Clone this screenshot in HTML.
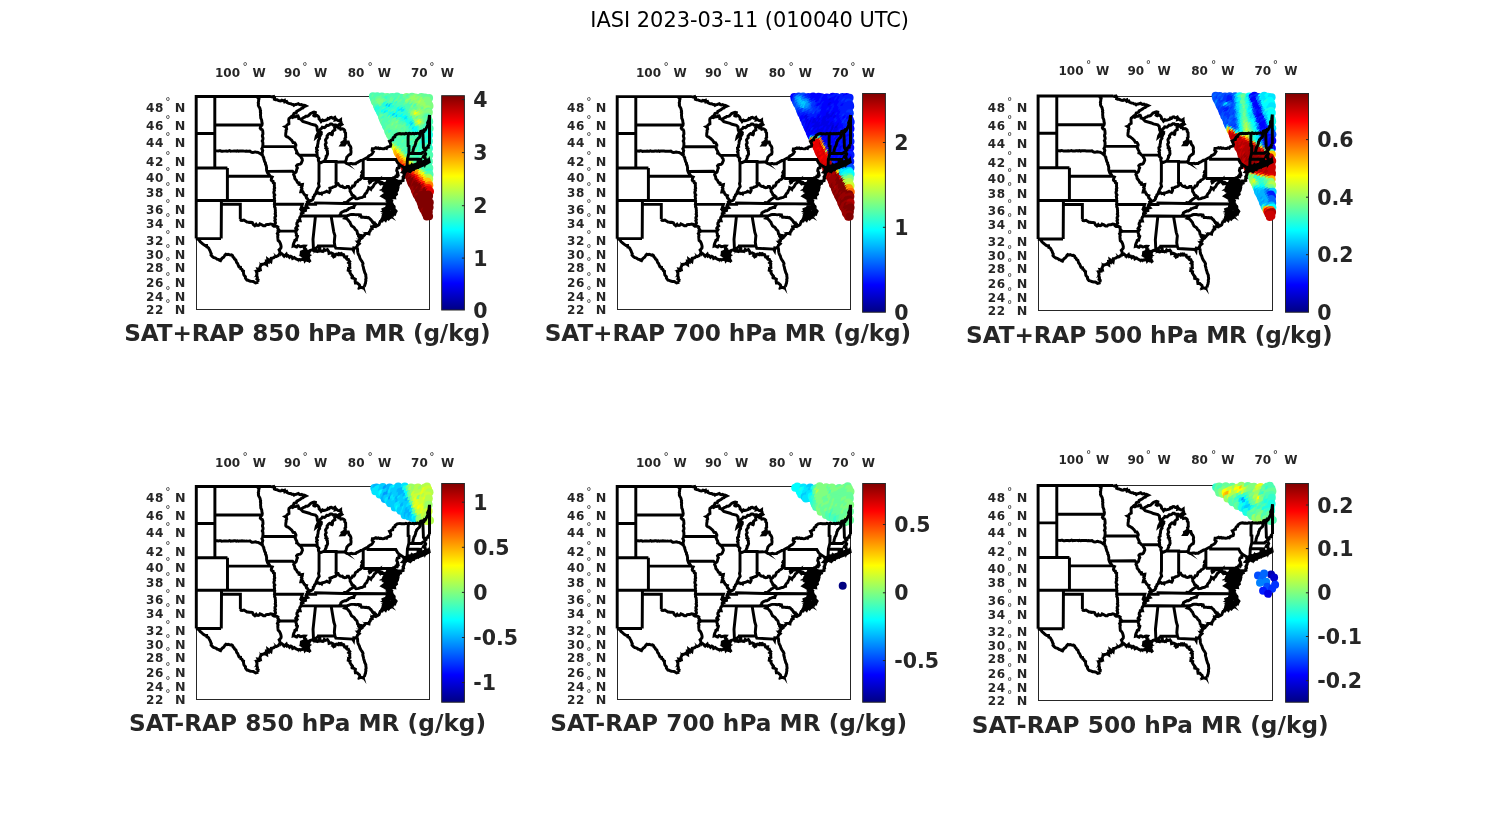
<!DOCTYPE html><html><head><meta charset="utf-8"><title>IASI 2023-03-11 (010040 UTC)</title><style>html,body{margin:0;padding:0;background:#fff}body{width:1500px;height:825px;overflow:hidden}svg{display:block}text{font-family:"DejaVu Sans","Liberation Sans",sans-serif;fill:#262626}.b{font-weight:bold}.t{font-size:12px;font-weight:bold}.c{font-size:20.5px;font-weight:bold}.x{font-size:23.2px;font-weight:bold}.d{font-size:10.5px;font-weight:normal}</style></head><body>
<svg width="1500" height="825" viewBox="0 0 1500 825">
<defs><linearGradient id="jet" x1="0" y1="1" x2="0" y2="0"><stop offset="0" stop-color="#000083"/><stop offset="0.125" stop-color="#0000ff"/><stop offset="0.375" stop-color="#00ffff"/><stop offset="0.625" stop-color="#ffff00"/><stop offset="0.875" stop-color="#ff0000"/><stop offset="1" stop-color="#800000"/></linearGradient>
<g id="us"><path d="M0.0 142.1L0.0 0.0L74.7 0.0M233.3 18.4L233.3 48.0M18.6 0.0L18.6 71.4M0.0 37.0L18.6 37.0M18.6 28.5L65.8 28.5M18.6 54.5L19.7 54.3L20.9 54.4L22.0 54.6L23.1 54.2L24.2 54.3L25.4 54.8L26.5 54.7L27.6 54.6L28.8 54.6L29.9 54.5L31.0 54.7L32.1 54.6L33.3 54.2L34.4 54.7L35.5 54.6L36.7 54.6L37.8 54.4L38.9 54.4L40.0 54.7L41.2 54.3L42.3 54.8L43.4 54.5L44.6 54.5L45.7 54.4L46.8 54.5L48.0 54.6L49.1 54.7L50.2 54.6L51.3 54.7L52.5 54.7L53.6 54.5L54.5 55.2L55.5 55.8L56.6 55.9L57.7 55.7L59.1 55.4L60.5 55.8L61.8 55.9L63.7 56.9L64.9 57.9L66.5 58.8M0.0 71.4L31.2 71.4M31.2 71.4L31.2 103.9M31.2 79.7L73.7 79.7M0.0 103.9L78.1 103.9M25.2 103.9L25.2 107.8L25.0 142.1M25.2 107.8L44.1 107.8L44.1 122.8M0.0 142.1L24.8 142.1M44.1 122.8L44.8 123.9L46.0 124.0L47.7 123.6L49.2 124.5L50.8 125.5L51.9 125.6L53.0 125.9L54.6 125.7L56.1 126.1L57.1 128.0L58.6 129.2L59.9 127.8L60.6 128.7L61.8 129.0L63.0 128.5L63.7 127.4L65.6 128.2L67.2 129.3L68.8 129.3L70.0 128.1L71.3 128.0L72.5 128.0L74.4 127.4L75.9 127.7L76.6 129.0L77.7 129.7L78.9 129.8L80.4 129.7L81.7 130.5L81.5 131.8L82.5 133.1L81.7 134.5L82.0 135.7L81.1 137.0L81.8 138.3L81.5 139.6L81.6 140.9L81.7 142.2L81.9 143.9L83.2 145.0L84.0 146.5L84.5 148.0L84.9 149.8L84.8 151.3L83.9 152.4L82.9 153.4L83.5 154.6L83.9 156.4L83.2 157.6L82.9 159.0M0.0 142.1L1.0 142.6L2.2 142.8L3.0 143.7L3.8 145.0L5.0 146.0L5.9 146.8L6.8 147.6L7.8 148.3L8.8 148.9L10.4 148.9L10.6 150.5L11.8 150.9L12.6 151.8L13.0 152.9L13.7 153.9L14.1 154.9L14.5 156.1L15.1 157.2L14.8 158.6L15.8 159.7L16.7 160.5L17.7 161.1L19.0 161.4L20.2 162.1L21.1 162.8L22.4 162.9L23.2 163.8L24.3 164.2L25.1 162.7L26.2 161.5L27.3 160.8L28.1 159.8L28.7 158.6L29.6 157.7L30.7 158.2L31.9 157.8L33.0 158.2L34.1 158.6L35.3 158.4L36.4 159.2L36.8 160.6L37.8 161.3L38.3 162.6L39.6 163.4L40.0 164.7L40.4 166.0L41.3 166.9L41.8 168.0L42.2 169.2L42.8 170.4L44.3 170.7L44.5 172.2L45.7 172.8L46.2 174.1L47.3 174.7L47.2 175.9L47.4 177.1L47.6 178.3L48.3 179.3L49.2 180.1L49.2 181.5L49.8 182.5L50.7 183.6L51.9 183.8L53.1 184.3L54.2 184.8L55.5 184.9L56.9 185.0L58.1 185.6L59.3 186.4L60.7 186.1L62.1 185.6M62.1 185.6L61.6 184.5L61.9 183.3L60.7 182.4L61.2 181.1L60.9 179.9L60.4 178.7L60.8 177.4L60.5 176.2L60.1 174.7L62.5 174.2L61.8 172.6L64.1 173.0L63.7 170.9L64.3 169.8L64.7 168.0L66.1 167.8L67.5 167.6L68.5 166.9L70.4 168.1L70.2 164.9L71.9 165.5L71.6 162.8L74.7 165.1L75.0 163.3L75.1 161.7L76.4 161.5L77.6 161.1L78.6 160.2L80.2 160.1L81.3 159.3L82.9 159.0M82.9 159.0L84.1 157.6L85.5 157.1L87.0 158.4L88.0 159.7L90.1 157.7L90.8 159.7L92.1 159.2L93.3 160.8L94.6 159.7L95.8 160.4L96.4 162.0L98.1 161.1L99.0 161.9L100.3 162.6L101.5 163.3L103.1 163.0L104.7 163.3L106.6 162.9L107.8 161.9L109.0 162.4L109.8 163.4L111.0 164.0L112.9 163.3L110.6 163.3L111.0 161.1L110.1 160.4L109.7 159.3L111.6 158.2L112.4 156.3L110.3 156.4L108.5 156.1L109.7 155.5M109.7 155.5L111.6 154.6L113.2 155.4L114.1 153.9L115.8 153.3L117.3 154.1L119.2 154.6L118.4 152.9L119.8 151.7L119.7 152.9L120.4 153.9L121.4 154.8L122.8 154.7M122.8 154.7L124.8 154.4L126.0 155.0L127.1 154.7L128.0 153.0L129.3 153.9L131.2 153.1L132.4 154.8L132.8 156.9L134.9 156.4L136.6 157.2L136.5 159.1L137.4 160.3L138.7 159.7L139.0 158.0L140.1 157.6L141.8 158.2L142.5 157.1L144.2 157.7L145.0 156.1L144.7 158.1L146.3 158.0L147.5 158.2L147.7 159.5L148.3 160.4L150.4 160.3L150.1 161.9L150.8 162.7L152.2 162.8L152.6 164.0L153.5 165.0L152.4 166.3L153.6 167.2L153.5 168.3L153.5 169.6L153.7 171.1L152.3 171.9L152.0 173.9L153.9 174.7L153.7 176.1L154.3 177.1L154.9 178.1L155.7 179.0L156.4 179.9L156.1 181.4L157.6 181.8L159.2 182.8L158.9 184.6L159.2 186.4L161.1 186.4L162.0 187.4L163.2 188.4L163.6 189.7L163.3 191.3L164.9 190.8L166.5 191.3L168.0 190.2M168.0 190.2L168.5 189.1L168.8 187.8L169.3 186.7L169.4 185.5L169.7 184.3L169.5 183.0L169.9 181.8L169.8 180.6L169.6 179.5L169.6 178.3L169.1 177.1L168.5 175.9L168.2 174.6L167.7 173.3L167.4 172.1L167.2 170.8L166.8 169.6L166.5 168.3L166.8 166.9L166.2 165.6L165.4 164.4L164.6 163.3L164.1 162.3L163.6 161.3L163.3 160.2L163.0 159.2L162.4 158.2L161.9 157.1L161.6 155.8L161.4 154.6L161.4 153.1L161.1 151.6M161.1 151.6L160.6 150.2L161.1 149.0L162.0 148.0L163.2 147.0L161.6 145.1L163.3 144.3L163.5 142.7L164.9 141.9L165.9 141.3L165.4 139.1L167.4 139.5L168.4 138.4L169.1 136.9L170.9 136.9L172.8 137.4L173.1 135.5L174.0 134.6L174.4 133.0L175.9 132.4L175.4 130.5L177.2 129.7L179.1 130.0L179.4 128.1M179.4 128.1L180.6 129.4L181.7 128.9L182.9 128.1L183.5 126.3L184.1 124.8L185.9 124.6L186.6 123.3L187.5 122.2L189.3 123.8L190.0 122.2L191.1 121.7L192.3 122.5L193.1 121.5L194.4 121.0L194.8 119.7L195.5 118.7L196.7 118.7L197.2 117.0L198.6 117.5L199.1 116.1L199.9 114.7L198.6 113.2L197.7 112.2L198.0 110.8L197.7 109.6L196.3 108.8L196.4 107.4M191.1 121.7L190.1 120.2L191.7 119.4L189.8 118.7L191.5 118.5L192.3 117.1L191.4 115.9L189.8 116.0L191.2 114.9L192.9 115.2L194.8 117.4L196.1 114.8L195.8 113.4L195.5 112.1L194.4 111.2L193.2 112.4L192.2 111.7L191.1 111.7L192.0 111.0L193.0 110.0L194.1 109.6L195.5 110.5L196.6 109.1L196.1 107.4M196.4 107.4L195.0 106.3L195.5 104.6L193.6 103.9L193.0 102.7L192.9 101.5L194.2 100.5L193.6 99.1L193.7 97.7L193.3 96.3L192.0 95.9L191.0 94.9L189.8 94.3L188.8 92.7M195.5 102.3L195.7 100.7L198.4 101.2L198.0 99.1L199.3 98.4L200.3 97.6L199.9 95.9L200.5 94.8L201.3 93.6L201.5 92.3L201.9 90.9L201.5 89.5L201.3 88.0L199.9 87.9L199.7 86.7L197.8 86.2L198.6 84.6L198.3 82.6L199.3 81.3M195.5 102.3L196.2 100.8L196.1 99.1L196.8 97.7L197.4 96.3L196.1 95.7L196.1 94.3L194.5 94.3L194.7 92.5L193.6 91.9L194.0 90.3L194.2 88.7L195.3 87.8L195.3 86.6L194.8 85.4L195.5 83.4L195.4 85.0L194.8 86.0L192.9 85.8L192.7 87.0L192.6 88.3L192.9 89.5L192.0 90.7L192.3 91.9L192.9 93.5L193.6 95.5L192.7 94.2L191.5 93.5L189.8 93.9L188.8 92.7L187.3 92.7L188.5 91.8L188.8 90.3L188.9 89.1L188.4 87.8L187.5 87.0L186.0 87.1L185.7 85.8L184.4 85.4L181.9 85.3L182.9 83.0L181.5 83.9L180.3 82.8L179.4 83.9L178.1 83.4L176.2 84.0L175.0 84.3L174.5 85.6L173.5 86.2L173.0 84.8L174.1 83.4L173.5 82.0M198.3 82.6L198.6 84.2L200.5 84.5L201.1 86.2L201.2 87.7L202.4 88.4L202.9 87.2L204.2 86.7L203.6 84.6L205.6 84.6L206.9 84.1L206.7 82.6L207.4 81.8L206.8 80.4L207.6 79.2L208.1 78.1L208.1 76.0L206.5 75.6L207.8 74.3L208.1 73.5L208.7 71.5M199.3 81.3L199.6 79.9L201.1 80.1L201.8 78.6L203.3 78.2L200.8 78.5L201.5 76.0L200.5 74.3L200.7 73.1L201.1 71.8L202.8 71.3L202.7 69.4L203.7 68.4M203.7 68.4L208.7 71.5M203.7 68.4L201.5 66.4L199.6 63.0L171.8 63.0L171.8 60.7M167.0 63.2L167.0 82.0M167.0 82.0L196.8 82.0L198.0 81.1L199.3 81.3M167.0 63.2L169.6 61.7L171.8 60.7M196.8 82.0L196.8 92.2L201.5 92.2M195.8 96.3L200.2 95.7M171.8 60.7L172.4 59.6L173.4 59.0L174.4 58.5L175.4 57.9L176.2 57.0L177.2 55.3L175.9 54.0L176.2 52.2L177.5 52.1L178.6 51.9L179.7 51.3L180.8 51.9L182.0 51.4L183.1 52.1L184.3 51.8L185.4 52.1L186.6 52.3L187.9 52.2L189.1 51.5L190.4 51.9L191.3 50.5L192.7 50.1L194.2 49.7L194.6 48.2L194.2 46.7L193.3 44.9L194.4 44.5L195.2 43.6L196.5 43.3L196.7 41.8L197.4 40.8L198.6 40.4L198.9 39.0L199.9 38.3L201.0 37.5L202.3 37.2L203.7 37.0L204.9 37.4L206.1 37.2L207.3 37.3L208.5 37.4L209.7 36.9L211.0 37.2L212.2 37.0L213.3 36.7L214.5 37.2L215.7 37.2L216.8 36.9L218.0 37.4L219.2 36.9L220.3 37.1L221.5 36.7L222.7 37.1L223.8 37.0M212.2 37.0L211.9 41.4L211.9 49.3L212.8 49.7L212.7 56.6L211.2 62.6L210.9 68.9L211.4 69.8L209.8 70.6L210.3 71.4M208.7 71.5L207.7 72.5L208.1 73.9L208.1 74.8L209.2 75.5L210.3 74.3L211.4 73.8L212.5 74.6L214.0 75.1L215.1 74.0L216.0 72.7L217.5 73.1L218.2 71.4L219.7 71.1L221.3 71.0L219.8 70.4L218.2 70.6L216.9 71.8L215.7 72.5L214.4 72.6L213.1 72.1L212.0 72.4L210.8 72.3L209.7 72.7L208.7 73.1M210.3 71.4L211.5 71.1L212.1 69.3L213.8 70.2L215.0 70.6L215.7 68.7L216.9 68.8L218.2 69.2L219.2 68.2L220.4 68.3L221.6 68.7M221.6 68.7L222.0 62.9M211.2 62.6L222.0 62.8L224.6 62.9L224.6 63.9L224.9 64.9L225.7 65.8L226.2 67.2M221.6 68.7L222.7 68.8L223.8 68.3L224.5 66.4L224.8 67.7L226.2 67.2M226.2 67.2L227.6 66.8L229.2 66.8L229.5 65.1L230.7 65.9L232.1 65.3L233.3 65.8M233.3 64.9L231.7 64.9L230.1 64.7L229.2 63.0L228.9 61.3L227.0 60.5L227.6 59.2L229.0 58.8L229.5 57.5L228.3 55.8M212.7 56.8L225.1 57.0L225.4 56.7L227.0 55.6L228.1 55.6M228.1 55.6L228.9 53.9L227.2 51.0L227.1 47.5L226.8 39.6L226.5 34.3M228.9 53.9L229.9 53.1L229.8 51.9L230.6 51.1L232.1 50.8L232.0 49.3L233.3 48.0M223.8 37.0L224.5 34.9L226.5 34.3L227.9 34.7L228.3 33.2L229.2 33.4L230.8 30.2L231.7 28.4L231.4 26.2L232.7 23.4L233.3 18.4M223.8 37.0L223.7 38.3L223.7 39.7L223.2 41.0L222.2 41.7L221.3 42.7L220.4 43.6L220.2 44.7L219.5 45.7L219.5 46.9L219.1 48.0L218.7 49.3L217.8 50.5L217.5 51.9L217.0 53.1L216.9 54.5L216.5 55.6L216.1 56.8M196.4 107.4L159.7 107.1L147.0 107.0L119.4 106.4L119.4 107.8L110.2 107.8M159.7 107.1L159.0 108.3L158.0 109.5L157.6 110.9L156.3 110.8L155.1 111.2L153.9 111.7L152.6 112.0L151.8 113.1L150.7 113.6L149.7 114.3L148.4 114.2L147.4 114.8L146.3 115.2L144.7 116.3L144.5 117.6L143.7 118.5L143.0 119.5M105.2 119.4L118.5 119.4L143.0 119.5L150.6 119.4M150.6 119.4L151.7 119.0L152.9 118.7L153.9 118.1L155.1 117.9L156.3 117.9L157.6 117.9L158.8 118.1L160.0 118.3L161.2 118.1L162.4 118.1L163.6 118.3L163.6 119.0L164.4 118.7L164.8 119.7L165.3 120.8L166.5 120.8L167.7 120.8L168.8 121.0L170.0 120.8L171.2 121.2L172.3 121.0L173.2 121.7L173.9 122.6L174.8 123.2L175.4 124.2L176.1 125.1L176.7 126.0L178.0 126.3L178.6 127.3L179.4 128.1M150.6 119.4L150.3 120.8L149.1 121.7L150.3 122.0L151.2 122.8L152.0 123.6L152.8 124.7L153.8 125.7L154.2 127.1L154.8 128.1L155.3 129.3L156.4 130.1L157.5 130.7L158.3 131.6L158.9 132.8L159.9 133.6L160.8 134.6L161.1 136.1L161.4 137.6L162.6 138.3L162.3 139.7L163.0 140.6L163.7 141.6L164.9 141.9M134.9 119.6L137.6 135.6L138.7 139.1L138.4 142.1L138.1 145.8L138.7 149.5M138.7 149.5L139.6 151.7L156.4 152.6L157.3 154.1L157.6 151.3L161.1 151.6M138.7 149.5L122.3 149.5L122.3 150.6L123.6 152.0L122.8 154.7M118.5 119.4L119.2 120.2L116.8 142.8L117.3 154.1M99.8 134.6L99.7 136.2L100.3 137.6L100.1 139.0L101.2 139.9L100.9 141.0L100.3 142.1L100.2 143.5L98.7 143.8L98.4 145.0L97.6 146.5L97.1 148.0L96.9 149.5L98.1 149.1L99.3 150.1L100.5 150.5L101.7 149.1L102.9 149.3L104.1 150.2L105.3 150.0L106.5 149.6L107.7 149.4L108.9 149.5L108.1 150.6L108.1 152.0L109.5 152.8L109.4 154.2L109.7 155.5M81.7 134.5L99.8 134.6M99.8 134.6L100.9 133.0L99.6 131.6L100.4 130.4L101.5 129.4L100.6 127.8L100.7 126.5L101.5 125.5L101.7 124.2L103.9 124.2L103.4 122.5L103.5 121.2L104.1 120.1L105.2 119.4L105.0 118.1L105.0 116.9L106.6 116.3L105.5 114.3L107.9 114.4L109.3 114.0L109.1 112.5L109.1 111.7L111.4 111.1L109.7 109.3L110.2 107.8L111.0 106.8L112.2 107.0L111.2 105.3L112.7 104.0M78.1 107.8L106.2 107.8L104.9 111.7L109.1 111.7M112.7 104.0L111.9 103.2L111.3 102.2L110.3 101.5L109.9 100.3L110.3 99.1L108.9 98.7L107.9 97.7L107.2 96.3L106.7 95.2L104.6 95.3L105.0 93.5L105.8 92.4L105.1 91.0L105.9 89.9L106.2 88.0L104.4 88.3L102.8 87.9L102.9 86.4L101.3 85.9L100.7 84.9L100.3 83.8L99.4 83.0L98.6 82.0L98.5 80.8L98.2 79.7L97.4 78.1L98.2 76.6M98.2 76.6L96.3 74.7L70.8 74.9M98.2 76.6L99.3 76.0L100.0 75.2L100.3 73.9L100.6 72.6L101.2 71.4L100.7 70.4L100.3 69.3L101.2 68.3L102.5 67.9L104.0 67.7L105.0 66.8L105.6 65.3L106.2 63.9L105.9 62.2L105.0 61.1L104.4 59.6L103.2 58.8L102.3 58.0L101.6 57.0L100.4 56.6L100.6 55.0L99.8 53.6L99.3 52.5L98.8 51.4L99.5 50.1M99.5 50.1L66.5 50.1M99.5 50.1L99.7 48.5L99.0 47.1L98.3 46.1L96.8 46.0L96.2 44.9L95.5 43.8L94.6 43.0L93.7 42.1L92.7 41.4L91.7 40.6L90.4 40.2L89.5 39.2L89.5 37.8L89.6 36.5L89.9 35.2L89.8 33.8L90.5 32.5L90.2 31.1L88.9 30.2L90.1 29.8L90.7 28.6L91.6 27.9L92.7 27.3L92.7 26.0L92.6 24.6L92.5 23.3L92.8 22.0L94.0 21.1M94.0 21.1L94.8 20.3L95.7 19.6L96.9 19.3L97.3 18.0L97.8 16.9L99.0 16.5L100.2 16.1L100.6 14.7L101.7 14.3L102.7 13.6L103.8 13.1L104.7 12.3L105.6 11.7L106.8 11.4L107.6 10.4L108.6 10.0L109.7 9.5L108.7 9.0L107.6 8.7L106.4 8.8L105.4 8.0L104.2 8.3L103.1 8.0L102.1 7.1L101.0 7.5L99.9 8.0L98.7 8.1L97.7 8.8L96.8 7.9L95.5 7.8L94.5 7.1L93.2 7.1L92.1 6.7L91.0 6.2L90.4 4.9L88.6 5.4L88.3 3.8L87.1 4.3L85.7 3.7L84.5 4.5L83.2 4.3L82.0 3.9L80.8 3.3L79.4 3.2L78.2 2.7L78.4 1.2L77.6 0.0L76.1 0.5L74.7 0.0M61.6 0.0L61.7 1.3L62.8 2.4L62.4 3.8L62.4 5.0L62.0 6.2L62.3 7.4L62.1 8.6L62.5 9.8L63.2 10.8L63.8 12.0L64.0 13.3L64.4 14.4L64.1 15.5L64.5 16.6L64.3 17.7L64.3 18.8L64.5 20.1L64.5 21.5L65.1 22.7L65.5 23.9L65.6 25.2L66.0 26.9L65.8 28.5L65.1 29.5L64.4 30.5L64.0 31.6L64.7 32.7L66.0 33.1L66.5 34.3L66.6 35.4L66.7 36.5L66.7 37.7L66.2 38.8L66.2 39.9L66.7 41.1L66.8 42.2L66.6 43.3L66.0 44.5L66.6 45.6L66.7 46.7L66.7 47.9L66.6 49.0L66.5 50.1L66.2 51.3L65.6 52.3L66.5 54.0L66.2 55.3L65.9 56.6L66.1 57.8L66.5 58.8M66.5 58.8L66.7 60.0L67.5 61.0L67.5 62.2L68.0 63.3L68.2 64.5L68.7 65.6L69.3 66.6L69.3 67.9L70.0 68.9L70.1 70.0L70.4 71.1L70.3 72.3L70.4 73.6L70.8 74.9L71.4 76.4L72.5 77.6L73.2 78.6L73.7 79.7L74.9 80.1L76.0 80.5L75.3 81.9L75.0 83.4L75.6 84.4L76.9 84.9L77.1 86.3L78.2 86.9L78.1 88.1L78.2 89.2L78.1 90.4L78.5 91.5L77.9 92.7L78.3 93.9L77.8 95.0L77.6 96.2L77.9 97.3L78.6 98.5L77.9 99.7L78.1 100.8L78.3 102.0L78.0 103.1L78.5 104.3L78.3 105.5L78.4 106.6L78.1 107.8L78.5 109.0L78.3 110.2L79.0 111.4L79.0 112.6L79.2 113.8L79.1 115.1L79.3 116.3L78.9 117.5L79.4 118.6L79.4 119.7L78.7 120.8L78.7 121.9L79.2 123.1L78.6 124.2L79.0 125.3L79.3 126.4L78.5 127.5L78.7 128.7L78.9 129.8M94.0 21.1L95.0 20.5L96.3 21.1L97.3 20.5L98.5 20.2L99.6 20.2L100.6 19.4L101.8 19.3L102.4 20.6L102.5 22.0L103.6 22.3L104.5 22.8M104.5 22.8L106.6 25.0L112.9 26.8L114.8 27.7L119.2 28.7L120.7 30.2L121.1 33.8L122.3 36.1M122.3 36.1L121.4 37.2L120.9 38.4L120.1 39.6L119.8 41.0L120.9 40.1L121.7 39.0L123.0 38.3L123.4 37.2L124.1 36.3L125.1 35.6L125.8 34.7L124.9 35.9L125.1 37.5L124.2 38.7L123.8 39.8L123.0 40.8L123.4 42.2L122.6 43.2L122.1 44.2L121.9 45.3L121.9 46.4L121.7 47.5L121.3 48.8L121.5 50.2L120.3 51.3L120.4 52.7L121.1 53.9L120.3 55.2L120.9 56.4L120.8 57.6L121.1 58.8L120.8 60.1L121.8 61.0L122.7 61.9L122.1 63.2L122.3 64.3L122.8 65.5M103.2 58.8L121.1 58.8M122.8 65.5L122.8 85.0L122.3 87.1L123.0 89.9L121.4 92.3L119.8 95.9L119.4 97.5M122.8 65.5L124.8 66.1L127.2 65.0L139.9 65.0L139.9 65.6L148.5 65.3M139.9 65.6L139.9 87.1M112.7 104.0L114.0 104.4L115.2 104.0L116.3 103.3L117.1 102.1L117.0 100.7L118.0 99.8L118.3 98.3L119.4 97.5L120.4 96.7L122.3 96.3L123.2 97.1L124.6 96.8L125.5 97.5L126.1 96.3L127.4 96.1L129.3 95.5L130.5 94.7L131.7 95.4L133.0 95.9L133.6 94.9L134.0 93.8L133.7 91.6L135.9 91.1L137.1 90.4L138.4 90.1L139.7 89.5L140.1 88.3L139.9 87.1L141.9 87.1L142.6 88.4L143.8 89.5L144.8 89.9L146.1 89.7L146.9 90.7L148.5 91.2L150.1 90.9L150.9 89.9L152.3 89.9L153.0 91.3L153.9 92.5L154.7 91.8L155.7 91.1L156.4 89.5L157.8 89.5L158.6 88.3L159.2 86.2L160.2 85.5L161.4 85.0L162.2 83.7L163.6 83.1L164.8 82.2L165.7 81.4L165.0 79.9L165.4 78.8L166.5 78.1L166.9 76.9L165.6 75.9L166.1 74.8L167.0 74.4M153.9 92.5L153.9 94.7L154.6 95.8L155.3 97.0L155.7 98.3L156.9 98.7L157.8 99.6M157.8 99.6L157.1 100.5L156.2 101.3L155.2 102.0L154.0 102.6L153.2 103.5L152.2 104.1L151.3 105.0L150.4 105.8L149.2 106.1L148.0 106.0L147.0 107.0M157.8 99.6L158.8 100.3L158.9 101.6L159.8 102.3L161.1 102.2L162.4 101.9L163.6 101.4L164.9 101.1L166.1 100.9L167.1 100.1L168.4 99.9L168.4 98.3L169.3 97.0L170.6 95.9L170.9 94.6L171.6 93.6L172.3 92.4L172.5 91.1L173.7 91.7L174.7 92.7L175.2 91.4L176.4 90.6L177.2 89.5L177.7 88.4L178.3 87.4L179.3 86.6L180.2 85.8L180.6 84.6L181.8 85.2L183.0 85.8L183.9 86.8L184.6 85.3M148.5 65.3L149.3 66.2L150.3 66.8L151.3 67.2L153.2 67.2L154.3 67.0L155.4 66.9L156.5 67.4L157.6 67.2L159.5 67.2L160.4 66.2L161.6 65.8L162.7 65.1L163.8 64.6L164.7 63.9L166.0 63.8L167.0 63.2M127.2 65.0L128.3 64.4L129.0 63.4L129.3 62.2L130.0 61.1L129.9 59.7L130.8 58.8L131.4 57.4L131.2 55.9L131.2 54.5L130.5 53.5L130.9 52.2L129.6 51.5L130.0 50.2L129.3 49.3L129.1 47.8L130.0 46.4L129.6 44.9L129.3 43.5L130.0 42.2L131.1 41.1L130.8 39.6L132.1 37.9L133.4 36.9L134.9 37.0L135.4 38.0L135.3 39.2L136.1 38.0L136.3 36.6L136.2 35.2L137.3 34.1L138.7 33.4L138.6 32.3L138.4 31.1L139.3 30.4L140.3 30.0L141.5 30.2L142.4 31.4L143.8 31.3L144.5 32.7L146.3 32.3L147.5 32.8L148.5 33.8L148.5 35.3L149.4 36.5L149.4 38.1L149.4 39.6L149.5 40.8L148.7 41.9L149.1 43.2L148.4 44.1L147.6 45.0L146.7 45.6L145.7 46.2L146.0 47.4L145.3 48.4L146.8 48.3L148.2 48.4L149.1 47.2L149.8 45.8L150.8 45.3L152.0 45.4L152.4 46.7L152.8 48.2L153.9 49.3L154.5 50.5L154.8 51.8L154.5 53.2L154.8 54.5L154.8 56.0L154.5 57.5L153.4 58.1L152.3 58.8L151.5 59.7L150.7 60.5L150.4 61.7L150.1 63.0L149.6 64.4L148.5 65.3M104.5 22.8L105.5 22.2L106.5 21.7L107.4 21.0L108.5 20.7L109.6 19.8L111.0 19.8L112.2 19.3L113.3 18.1L114.4 17.0L115.5 16.5L116.7 16.0L117.9 15.6L119.2 16.0L119.0 17.5L117.9 18.4L117.0 20.2L117.9 19.3L119.2 19.3L121.0 19.0L122.3 20.2L122.8 21.3L122.9 22.6L123.9 23.4L124.9 25.0L126.3 23.5L127.4 24.1L128.6 23.9L129.9 23.5L131.1 23.1L131.8 21.9L133.0 22.2L134.0 21.0L135.2 20.8L136.5 21.7L137.6 21.6L138.7 20.9L139.3 22.1L139.0 23.4L140.4 23.0L141.6 23.9L143.1 24.3L144.4 23.4L144.4 24.6L144.9 25.7L144.8 27.0L145.7 28.0L144.5 28.7L143.0 28.0L141.8 28.9L140.6 29.3L139.5 28.4L138.1 28.4L136.7 28.5L135.6 27.5L134.2 27.5L133.1 28.5L131.9 29.0L130.5 28.9L129.5 30.1L128.3 31.1L127.2 30.9L126.1 30.7L125.5 31.8L124.5 32.5L123.5 33.5L123.6 35.2L122.3 36.1M196.6 81.8L191.3 84.6L187.6 90.8L186.8 93.2L190.0 96.6L185.9 99.6L190.5 102.1L191.6 104.8L194.6 104.2L194.6 102.8L198.3 97.9L200.1 93.8L200.4 85.6ZM194.5 83.2L195.1 83.2L198.2 83.5L197.1 84.4L194.9 84.7L194.3 85.2L193.2 85.3L192.6 84.6L191.9 86.9L196.2 86.5L197.0 85.7L198.0 86.2L198.0 86.3L200.0 87.9L199.8 88.0L196.9 88.2L196.8 87.1L194.8 87.1L193.5 87.7L193.4 88.4L190.0 87.5L191.1 88.8L191.3 90.0L193.7 89.8L194.0 88.8L194.4 88.9L194.5 89.8L195.0 89.0L197.3 88.7L197.4 89.1L197.7 90.0L199.5 89.1L198.9 91.0L196.9 90.8L194.5 91.1L193.9 90.2L193.5 90.4L190.6 91.2L189.7 90.3L192.9 92.0L194.4 92.1L195.3 93.0L195.3 92.3L199.8 91.7L200.1 92.3L198.4 93.7L194.9 93.2L194.4 93.2L193.5 93.1L191.5 93.8L191.1 93.5L188.7 94.9L191.0 95.6L191.4 94.7L191.8 95.6L192.5 94.8L194.0 95.1L195.4 95.1L195.5 95.6L196.0 94.6L198.2 95.2L198.7 95.3L197.8 96.8L197.7 97.2L197.4 96.1L196.0 96.0L194.3 96.2L192.2 96.6L192.1 97.2L190.2 96.2L190.1 97.0L187.3 98.9L188.7 98.6L189.0 98.4L189.4 98.1L192.0 98.9L192.1 97.9L192.7 97.9L196.9 97.6L197.0 99.3L195.3 99.1L192.8 99.2L189.2 100.0L189.0 99.2L188.9 99.9L188.5 100.2L187.7 100.2L188.3 100.8L189.3 100.6L190.1 101.0L191.6 102.0L193.8 101.6L193.9 101.9L194.2 100.8L194.9 100.7L192.0 102.2L191.0 102.1L191.2 103.6L192.8 103.9L194.2 103.5M191.5 106.5L190.3 111.4L186.8 112.8L187.8 116.0L186.9 120.3L186.1 122.3L188.4 121.0L192.6 118.3L194.5 115.4L197.7 116.5L196.8 113.6L195.4 109.6L194.5 105.9ZM191.5 107.5L194.2 108.8L194.1 109.4L194.0 109.1L193.2 110.2L194.3 110.8L195.3 110.9L193.2 112.1L193.0 112.4L187.9 114.9L189.8 115.4L190.5 114.0L191.2 115.1L191.6 114.4L192.1 115.4L192.4 116.2L191.5 116.7L188.5 118.0L190.4 117.5L190.4 117.0L192.2 118.2L189.4 118.8L188.8 119.6L187.0 121.8M208.0 73.8L210.8 70.6L221.5 67.2L227.0 65.2L232.5 63.0L233.0 65.5L227.5 68.5L221.0 71.0L214.5 73.6ZM230.5 63.9L230.5 64.1L231.5 64.4L232.3 64.2L232.5 63.4L232.5 64.0L232.6 65.4L232.5 64.7L232.2 65.4L231.3 65.8L230.8 65.2L230.3 65.9L229.6 65.6L227.4 65.2L226.3 65.8L226.2 65.5L225.3 65.9L222.2 67.0L222.7 66.8L223.7 67.4L224.4 66.8L225.4 66.7L226.1 67.3L226.3 66.5L226.6 66.3L226.8 66.3L226.9 66.8L227.5 66.2L228.6 67.0L228.7 67.3L229.2 66.0L229.2 66.3L229.4 67.0L229.4 66.3L230.5 66.6L230.6 66.6L231.9 66.1L228.7 67.8L228.7 67.8L227.8 67.9L226.9 67.8L226.1 67.9L226.1 68.5L225.2 68.8L224.3 67.6L223.6 68.6L223.2 67.8L223.1 67.8L223.0 68.0L223.0 67.8L222.9 68.3L221.9 68.0L221.6 68.4L220.7 68.1L220.6 67.7L219.8 68.4L219.8 68.5L219.2 69.0L217.3 68.7L212.6 70.2L214.5 70.3L214.8 69.7L215.1 70.1L215.7 69.9L215.7 69.8L215.9 69.0L216.8 70.1L217.3 69.9L217.4 69.5L218.6 70.1L219.4 69.3L219.4 69.9L219.8 69.6L220.1 69.1L220.6 69.5L220.8 70.3L220.8 70.2L221.3 69.8L221.9 70.3L222.2 69.5L222.5 69.4L222.9 69.4L223.0 69.9L223.7 69.8L224.2 69.3L225.2 69.2L221.1 70.7L220.3 71.1L219.3 70.5L219.0 71.0L218.6 70.6L217.8 70.8L217.7 71.2L217.4 70.8L217.4 71.2L217.0 71.4L216.0 72.0L216.0 71.3L215.6 71.1L215.6 71.4L215.2 71.9L214.4 71.2L214.2 71.9L214.0 71.1L213.2 70.9L213.1 70.7L212.8 71.2L212.8 71.9L211.8 71.2L211.2 71.4L210.1 71.8L209.0 72.7L209.3 73.4L209.5 73.3L209.6 73.4L209.9 72.2L209.9 73.0L210.1 72.2L210.5 72.5L210.8 72.5L210.9 72.3L211.8 72.2L212.3 73.4L212.3 72.0L213.6 72.4L213.7 72.8L214.3 72.9L214.8 72.9L215.6 72.4L215.6 72.7L215.9 72.6L216.2 72.1L216.3 72.0L210.6 73.5M105.1 155.5L108.2 154.3L112.1 155.2L113.0 158.3L111.8 161.1L114.0 165.4L110.3 162.0L108.7 164.0L107.6 160.2L104.8 158.6ZM109.4 155.8L111.9 155.8L108.8 156.3L107.0 157.5L106.5 157.1L106.1 157.4L105.3 156.3L107.0 157.7L110.9 158.8L112.3 159.1L108.2 161.8L108.8 161.0L112.2 162.0L109.4 162.3L112.8 164.1" fill="none" stroke="#000" stroke-width="2.95" stroke-linejoin="miter" stroke-miterlimit="4"/><path d="M193.8 103.0L192.5 107.7L195.4 103.8ZM192.2 103.5L193.2 106.5L194.0 103.5ZM193.4 104.2L196.6 104.0L193.8 102.4ZM191.2 104.7L195.7 107.0L192.2 103.3ZM199.1 89.3L202.9 89.2L199.5 87.5ZM192.7 103.4L193.5 106.4L194.5 103.4ZM193.4 83.6L190.7 83.7L192.9 85.3ZM189.5 94.1L186.3 95.9L189.9 95.9ZM196.4 98.7L200.4 100.8L197.5 97.3ZM190.3 104.9L194.4 106.8L191.3 103.5ZM192.9 104.5L188.1 102.8L192.0 106.1ZM198.9 92.0L202.8 93.2L199.7 90.4ZM197.1 83.0L196.2 79.3L195.3 83.0ZM189.1 98.9L189.2 93.8L187.3 98.6ZM196.1 83.6L195.9 80.8L194.3 83.1ZM191.9 103.4L190.1 105.7L192.9 105.0ZM197.3 97.1L200.5 98.8L198.5 95.7ZM189.3 98.8L189.4 93.9L187.6 98.4ZM192.1 85.7L189.9 84.2L190.7 86.8ZM192.6 104.2L196.2 106.6L193.9 103.0ZM193.1 103.2L190.7 107.5L194.5 104.3ZM190.9 102.5L189.9 106.3L192.5 103.4ZM187.7 92.2L182.4 93.6L187.9 94.0ZM194.6 100.5L196.2 103.4L196.4 100.1ZM192.4 103.7L188.4 105.4L192.8 105.5ZM192.7 84.4L189.4 83.3L191.7 85.9ZM193.1 107.5L193.7 103.8L191.5 106.8ZM191.1 112.3L189.5 109.4L189.3 112.7ZM196.4 116.4L199.2 115.3L196.3 114.6ZM196.4 116.2L201.3 114.4L196.1 114.4ZM187.7 113.5L185.7 116.1L188.8 114.9ZM197.5 117.1L199.9 113.0L196.1 115.9ZM194.6 116.9L198.9 113.9L193.8 115.2ZM198.0 117.6L198.4 114.6L196.4 116.8ZM198.6 117.3L197.1 112.9L196.8 117.6ZM187.8 121.6L185.2 118.5L186.2 122.4ZM195.1 116.9L196.2 114.3L193.7 115.7ZM188.7 117.7L184.4 116.5L187.8 119.3ZM189.8 113.1L190.1 109.8L188.1 112.4ZM192.5 106.0L189.2 106.7L192.3 107.8ZM209.8 72.9L206.4 72.1L209.0 74.5ZM223.3 66.8L220.2 65.8L222.4 68.3ZM228.3 66.6L229.8 69.8L230.1 66.3ZM225.2 67.3L225.6 64.0L223.5 66.6ZM228.6 66.4L228.6 69.1L230.3 67.0ZM216.7 70.1L216.2 67.0L215.0 69.9ZM212.7 71.1L211.0 67.8L211.0 71.5ZM226.3 66.9L226.6 63.7L224.6 66.2ZM214.6 72.1L214.5 75.4L216.3 72.6ZM211.8 71.2L208.8 69.2L210.4 72.4ZM108.9 163.8L111.3 162.4L108.5 162.1ZM110.2 156.1L113.2 153.6L109.4 154.5ZM113.1 162.9L110.4 165.0L113.8 164.5ZM109.0 161.2L106.0 162.7L109.4 162.9ZM107.5 158.8L106.1 161.8L108.8 160.0ZM111.2 162.1L114.4 160.2L110.6 160.4ZM108.0 161.8L107.6 164.8L109.6 162.5ZM105.3 156.7L102.3 159.3L106.2 158.3ZM108.3 160.8L106.6 163.5L109.5 162.1ZM111.9 163.3L114.5 160.4L110.9 161.8ZM110.8 161.5L114.3 161.2L111.1 159.7ZM112.4 163.6L113.1 166.7L114.2 163.8ZM149.0 67.3L158.9 73.3L150.5 65.2ZM193.3 120.4L199.9 124.4L195.1 118.4ZM166.0 191.4L170.2 197.5L168.2 190.4ZM194.7 110.8L200.5 115.6L196.2 109.4ZM163.0 148.9L159.5 147.1L161.8 150.2ZM177.8 131.1L173.4 127.4L176.3 132.4ZM179.7 128.5L174.7 125.5L178.0 130.4ZM177.7 131.3L174.2 129.4L176.1 132.9ZM170.5 137.9L165.8 134.8L169.4 139.1ZM165.0 142.6L159.4 142.1L164.5 144.4ZM165.7 142.6L163.4 140.3L164.2 143.5ZM180.0 129.1L177.0 123.6L177.8 129.8ZM168.3 139.3L163.2 137.5L167.0 141.3ZM180.0 128.3L176.4 126.9L178.8 129.8ZM179.6 129.6L178.0 126.4L177.2 129.9ZM166.2 142.1L163.7 137.4L164.5 142.7ZM177.5 131.7L174.8 130.3L175.9 133.2ZM180.2 129.0L178.3 124.9L178.0 129.4ZM166.6 141.9L163.3 137.2L164.3 142.8ZM163.8 146.8L158.3 143.6L162.1 148.7ZM197.3 106.4L193.8 107.3L197.2 108.7ZM181.9 128.4L179.3 125.3L180.0 129.3ZM192.4 123.0L192.0 118.1L190.8 122.8ZM181.0 128.7L179.3 124.2L179.3 129.1ZM188.0 123.6L185.5 120.2L185.9 124.4ZM199.4 112.6L194.2 113.5L199.4 114.3ZM189.8 123.1L187.5 118.7L187.8 123.6ZM186.3 125.0L183.7 121.6L184.6 125.8ZM153.6 171.5L150.3 170.0L152.3 173.0ZM136.7 157.8L134.1 160.3L137.6 159.4ZM158.4 183.9L158.7 187.1L160.5 184.4ZM125.9 153.6L127.8 157.1L128.0 153.1ZM155.6 178.0L153.9 181.9L157.2 179.2ZM154.3 168.6L151.5 168.7L153.6 170.5ZM156.5 179.3L155.4 182.4L157.9 180.3ZM145.5 155.1L144.1 157.2L146.5 156.6ZM141.3 157.0L144.3 159.5L142.8 155.9ZM156.3 178.0L154.3 179.9L157.1 180.0ZM147.0 156.5L144.3 159.6L148.0 157.8ZM165.9 190.6L168.1 192.4L167.5 189.7ZM166.0 191.0L168.8 191.9L167.4 189.4ZM163.1 189.3L160.6 192.3L164.5 191.3ZM136.4 158.4L137.0 162.6L138.2 158.6ZM140.8 157.9L143.7 158.6L142.1 156.0ZM66.9 168.9L62.6 165.1L65.2 170.2ZM61.9 175.1L56.9 173.5L61.1 176.6ZM83.1 160.0L83.3 154.3L81.4 159.7ZM81.4 160.0L77.1 155.9L79.4 161.3ZM60.9 177.4L57.3 181.1L62.1 179.2ZM83.3 159.4L80.9 157.1L81.7 160.3ZM62.9 172.6L60.1 171.1L61.8 173.8ZM76.4 162.6L72.4 161.7L75.5 164.4ZM70.7 167.0L68.7 164.8L68.6 167.8ZM101.1 162.5L102.2 166.3L103.1 162.4ZM102.2 162.9L104.6 166.1L104.0 162.2ZM92.9 158.7L93.2 162.8L95.1 159.1ZM110.5 161.3L111.9 158.0L109.0 160.1ZM105.8 163.0L109.6 164.0L106.6 161.5ZM110.9 162.2L112.6 159.1L109.5 160.7ZM110.0 158.3L112.9 160.9L111.4 157.4ZM110.1 164.1L113.8 166.2L111.9 162.3ZM87.7 157.5L85.9 160.8L89.1 158.8ZM110.3 161.6L112.2 158.9L108.9 159.4ZM118.3 153.3L116.9 157.4L119.7 154.2ZM112.4 153.8L114.6 156.0L113.8 152.9ZM117.4 153.8L119.0 156.4L119.2 153.4ZM120.6 151.6L116.8 153.8L121.2 153.7ZM112.1 153.3L113.2 155.8L114.3 153.4ZM101.0 132.6L97.8 132.7L100.0 134.9ZM110.0 111.1L106.9 111.8L109.8 113.2ZM105.6 120.6L102.7 119.7L104.5 122.1ZM111.8 108.5L110.9 105.1L109.5 108.3ZM100.3 133.5L98.3 135.1L100.8 135.2ZM111.8 108.3L111.1 104.9L110.1 108.2ZM113.1 103.0L109.9 105.0L113.7 104.9ZM110.1 111.7L107.6 111.9L109.6 113.3ZM112.0 105.3L115.5 103.7L111.7 103.5ZM111.3 107.3L114.4 107.2L111.8 105.6ZM99.4 134.7L101.6 132.7L98.7 133.1ZM106.6 115.3L109.9 115.4L107.3 113.4ZM111.1 105.9L114.8 107.2L112.5 104.0ZM101.2 124.5L104.1 125.1L102.3 122.8ZM104.3 119.2L107.9 119.9L105.5 117.2ZM101.5 123.7L103.9 124.9L102.8 122.4ZM97.7 145.5L100.1 144.9L97.9 143.7ZM98.4 149.8L96.5 147.9L96.8 150.6ZM101.4 141.2L102.4 138.5L99.7 139.2ZM107.7 151.9L110.4 150.7L107.7 149.5ZM100.8 140.9L103.1 138.4L99.8 138.7ZM106.6 93.9L104.7 95.8L107.3 95.5ZM108.7 96.0L106.8 97.8L109.4 98.0ZM108.4 96.6L108.3 99.0L110.5 97.9ZM111.1 98.9L108.4 100.3L111.2 101.3ZM102.5 85.6L100.8 87.0L103.0 87.3ZM209.7 71.6L206.5 71.2L208.6 73.7ZM208.2 79.4L205.6 81.1L208.6 81.7ZM208.8 77.3L205.9 78.4L208.8 79.5ZM209.7 70.9L206.0 71.0L209.2 72.8ZM208.9 80.6L205.5 79.4L207.6 82.3ZM233.2 65.5L232.0 62.8L231.2 65.7ZM227.7 61.9L228.6 59.0L226.1 60.7ZM229.1 64.7L230.9 62.5L228.1 62.6ZM229.8 58.2L230.2 55.0L227.8 57.2ZM81.5 138.0L84.9 135.1L80.5 136.2ZM80.7 139.3L83.4 139.2L81.2 137.6ZM83.1 153.8L85.4 152.6L83.0 151.5ZM53.0 126.9L53.1 123.8L51.3 126.3ZM162.5 85.2L160.1 83.7L160.9 86.4ZM166.0 82.4L163.7 80.7L164.1 83.5ZM159.8 87.4L157.5 87.6L158.9 89.5ZM156.7 89.6L154.3 90.7L156.9 91.3ZM142.8 88.0L142.0 85.2L140.5 87.7ZM162.9 85.2L161.1 82.4L161.1 85.7ZM129.9 40.5L132.3 39.8L130.1 38.7ZM141.2 29.7L141.7 33.3L143.3 30.0ZM152.7 44.7L149.8 46.5L153.2 46.4ZM129.7 60.8L132.4 59.5L129.6 58.4ZM135.3 35.2L137.7 35.9L136.4 33.8ZM149.4 45.0L151.1 47.5L151.9 44.6ZM137.5 30.5L139.2 32.6L139.5 29.9ZM154.4 58.8L152.9 56.2L152.4 59.1ZM126.2 22.5L126.5 25.0L128.5 23.4ZM131.4 20.7L131.4 23.9L133.3 21.4ZM146.2 26.2L143.2 27.0L146.2 27.9ZM117.9 18.6L119.0 21.8L119.9 18.6ZM117.5 19.0L118.9 20.9L119.2 18.5ZM124.2 22.4L123.5 25.5L125.7 23.2ZM122.1 66.0L123.8 64.1L121.3 63.8ZM120.6 37.0L122.7 38.2L122.0 35.9ZM121.2 45.0L123.6 44.9L122.1 43.1ZM119.5 54.2L122.6 53.6L119.8 52.1ZM119.3 40.4L123.0 41.0L119.9 38.8Z" fill="#000" stroke="none"/></g>
</defs>
<rect width="1500" height="825" fill="#fff"/>
<text x="590.3" y="26.5" style="font-size:20.9px;fill:#000">IASI 2023-03-11 (010040 UTC)</text>
<g id="p1">
<rect x="196.5" y="96.5" width="233.0" height="213.0" fill="none" stroke="#262626" stroke-width="1"/>
<g fill="none" stroke-width="8.0" stroke-linecap="round"><path d="M372.9 96.2h0M373.8 98.2h0" stroke="#4dffb2"/><path d="M375.3 97.5h0" stroke="#66ff99"/><path d="M377.2 96.3h0M374.6 100.4h0M376.6 99.7h0M378.4 98.4h0M380.5 97.5h0M381.9 96.5h0" stroke="#4dffb2"/><path d="M375.2 102.0h0" stroke="#66ff99"/><path d="M377.4 101.1h0" stroke="#4dffb2"/><path d="M378.8 100.1h0M381.2 99.4h0M383.0 98.4h0" stroke="#66ff99"/><path d="M385.3 97.8h0" stroke="#4dffb2"/><path d="M387.1 97.1h0M376.5 103.6h0M378.0 103.2h0" stroke="#66ff99"/><path d="M379.7 102.1h0M382.1 101.3h0" stroke="#80ff80"/><path d="M384.1 100.3h0" stroke="#66ff99"/><path d="M385.9 99.5h0" stroke="#4dffb2"/><path d="M388.2 98.9h0" stroke="#33ffcc"/><path d="M389.7 97.8h0M392.3 97.1h0M377.0 105.8h0" stroke="#4dffb2"/><path d="M378.5 104.8h0" stroke="#66ff99"/><path d="M380.4 104.2h0M382.4 102.9h0M384.3 102.2h0" stroke="#80ff80"/><path d="M386.7 101.6h0" stroke="#66ff99"/><path d="M388.5 100.3h0" stroke="#33ffcc"/><path d="M390.7 99.8h0M392.7 98.3h0M395.0 97.5h0M397.0 96.4h0M377.8 107.5h0M379.7 106.7h0" stroke="#4dffb2"/><path d="M381.7 105.4h0" stroke="#80ff80"/><path d="M383.8 105.2h0" stroke="#66ff99"/><path d="M385.4 104.0h0" stroke="#80ff80"/><path d="M387.1 102.8h0" stroke="#66ff99"/><path d="M389.3 102.0h0M391.2 101.0h0" stroke="#4dffb2"/><path d="M393.5 100.2h0" stroke="#66ff99"/><path d="M396.1 99.1h0M398.1 98.2h0M400.9 97.7h0" stroke="#4dffb2"/><path d="M378.7 109.3h0" stroke="#1affe5"/><path d="M380.4 108.3h0" stroke="#33ffcc"/><path d="M382.7 107.4h0" stroke="#80ff80"/><path d="M384.4 106.5h0" stroke="#4dffb2"/><path d="M386.3 105.5h0" stroke="#1affe5"/><path d="M388.6 105.1h0" stroke="#33ffcc"/><path d="M390.2 104.0h0" stroke="#4dffb2"/><path d="M392.5 103.3h0M394.5 101.9h0" stroke="#66ff99"/><path d="M397.1 101.4h0" stroke="#33ffcc"/><path d="M399.3 100.3h0" stroke="#4dffb2"/><path d="M401.3 98.7h0" stroke="#66ff99"/><path d="M403.4 97.9h0" stroke="#4dffb2"/><path d="M406.6 96.9h0" stroke="#80ff80"/><path d="M379.9 111.5h0" stroke="#33ffcc"/><path d="M381.1 110.1h0" stroke="#1affe5"/><path d="M383.0 109.2h0M385.4 108.6h0" stroke="#33ffcc"/><path d="M387.2 108.0h0" stroke="#1affe5"/><path d="M389.4 107.0h0" stroke="#00ccff"/><path d="M391.4 105.9h0" stroke="#33ffcc"/><path d="M393.1 105.2h0" stroke="#4dffb2"/><path d="M395.8 103.9h0" stroke="#33ffcc"/><path d="M397.8 102.7h0M399.6 101.7h0" stroke="#66ff99"/><path d="M401.9 101.2h0M405.0 100.0h0" stroke="#4dffb2"/><path d="M406.7 98.4h0" stroke="#66ff99"/><path d="M409.9 97.8h0" stroke="#4dffb2"/><path d="M412.0 96.8h0" stroke="#66ff99"/><path d="M380.6 112.7h0M382.0 112.2h0M383.9 111.2h0" stroke="#33ffcc"/><path d="M385.9 110.4h0" stroke="#4dffb2"/><path d="M388.0 109.9h0" stroke="#33ffcc"/><path d="M389.9 108.7h0" stroke="#00ffff"/><path d="M392.0 107.3h0" stroke="#00ccff"/><path d="M393.7 107.0h0" stroke="#1affe5"/><path d="M396.0 105.8h0" stroke="#4dffb2"/><path d="M398.3 104.8h0" stroke="#33ffcc"/><path d="M400.8 104.0h0M402.8 102.6h0" stroke="#66ff99"/><path d="M405.6 101.7h0" stroke="#4dffb2"/><path d="M408.2 100.6h0M410.4 99.5h0" stroke="#66ff99"/><path d="M412.8 98.4h0M415.4 97.6h0" stroke="#80ff80"/><path d="M381.5 114.6h0" stroke="#33ffcc"/><path d="M383.0 114.3h0" stroke="#4dffb2"/><path d="M384.6 113.1h0" stroke="#00ffff"/><path d="M386.4 112.0h0" stroke="#1affe5"/><path d="M389.0 111.7h0M390.5 110.6h0" stroke="#33ffcc"/><path d="M393.1 109.9h0M394.7 109.0h0" stroke="#1affe5"/><path d="M397.5 107.9h0M399.0 106.6h0M401.3 105.5h0M404.0 104.2h0M405.8 103.4h0" stroke="#4dffb2"/><path d="M408.7 102.5h0M411.4 101.7h0M413.4 100.0h0M416.1 98.7h0" stroke="#99ff66"/><path d="M418.9 98.2h0" stroke="#80ff80"/><path d="M421.4 96.9h0" stroke="#66ff99"/><path d="M382.1 116.7h0M384.0 115.7h0" stroke="#4dffb2"/><path d="M385.3 115.3h0" stroke="#33ffcc"/><path d="M387.3 114.3h0" stroke="#00e5ff"/><path d="M389.2 113.5h0" stroke="#00ffff"/><path d="M391.6 112.6h0" stroke="#4dffb2"/><path d="M393.4 111.1h0M395.4 110.2h0M397.5 109.2h0" stroke="#33ffcc"/><path d="M400.3 108.3h0M402.3 107.2h0M404.5 106.0h0" stroke="#4dffb2"/><path d="M407.2 105.4h0" stroke="#66ff99"/><path d="M409.8 104.0h0" stroke="#80ff80"/><path d="M412.2 103.1h0" stroke="#66ff99"/><path d="M414.4 102.0h0M417.2 101.2h0M419.9 99.8h0" stroke="#99ff66"/><path d="M422.4 98.3h0" stroke="#80ff80"/><path d="M424.9 97.4h0M382.6 118.1h0M384.9 117.7h0" stroke="#66ff99"/><path d="M386.3 116.5h0M388.1 115.8h0" stroke="#4dffb2"/><path d="M390.2 115.4h0" stroke="#33ffcc"/><path d="M392.2 114.5h0" stroke="#1affe5"/><path d="M394.3 113.1h0M396.5 112.3h0" stroke="#4dffb2"/><path d="M398.5 111.3h0" stroke="#33ffcc"/><path d="M400.6 110.2h0" stroke="#00ffff"/><path d="M402.8 108.9h0" stroke="#33ffcc"/><path d="M405.5 108.3h0M408.1 107.3h0M410.2 106.0h0" stroke="#4dffb2"/><path d="M413.1 104.7h0M414.9 104.1h0" stroke="#80ff80"/><path d="M418.2 102.8h0" stroke="#99ff66"/><path d="M420.3 101.5h0" stroke="#80ff80"/><path d="M423.3 100.5h0" stroke="#99ff66"/><path d="M426.2 99.3h0M429.1 97.9h0" stroke="#66ff99"/><path d="M383.3 120.1h0" stroke="#4dffb2"/><path d="M385.1 119.7h0" stroke="#33ffcc"/><path d="M387.4 118.7h0M389.2 117.3h0" stroke="#4dffb2"/><path d="M391.2 116.9h0" stroke="#1affe5"/><path d="M393.3 115.6h0" stroke="#00ffff"/><path d="M394.9 114.8h0" stroke="#1affe5"/><path d="M397.5 113.8h0" stroke="#4dffb2"/><path d="M399.5 113.0h0" stroke="#00ffff"/><path d="M401.7 112.3h0M404.1 110.8h0" stroke="#00e5ff"/><path d="M406.0 109.9h0" stroke="#33ffcc"/><path d="M408.7 108.6h0M410.7 107.7h0M413.7 106.6h0" stroke="#4dffb2"/><path d="M416.1 105.6h0" stroke="#80ff80"/><path d="M419.0 104.3h0" stroke="#99ff66"/><path d="M421.8 103.7h0" stroke="#b3ff4c"/><path d="M424.4 102.5h0" stroke="#99ff66"/><path d="M426.9 100.6h0" stroke="#80ff80"/><path d="M384.2 122.1h0" stroke="#66ff99"/><path d="M386.0 121.3h0M388.4 120.4h0M390.4 119.7h0" stroke="#4dffb2"/><path d="M392.0 118.3h0" stroke="#66ff99"/><path d="M393.6 117.8h0" stroke="#1affe5"/><path d="M395.8 116.7h0" stroke="#00ccff"/><path d="M398.0 116.2h0" stroke="#00ffff"/><path d="M400.6 114.6h0M402.9 114.1h0" stroke="#33ffcc"/><path d="M404.7 112.8h0" stroke="#00e5ff"/><path d="M407.5 112.0h0" stroke="#1affe5"/><path d="M409.3 110.5h0M411.6 110.0h0" stroke="#4dffb2"/><path d="M414.2 108.4h0" stroke="#80ff80"/><path d="M416.9 107.2h0" stroke="#4dffb2"/><path d="M419.9 106.6h0M422.3 105.5h0M425.1 103.6h0" stroke="#99ff66"/><path d="M427.9 102.6h0" stroke="#80ff80"/><path d="M385.1 123.5h0M387.4 122.8h0M388.8 122.4h0M391.3 121.2h0M392.9 120.4h0M394.6 119.3h0" stroke="#4dffb2"/><path d="M396.9 118.4h0" stroke="#1affe5"/><path d="M399.3 118.1h0" stroke="#00ccff"/><path d="M400.9 116.4h0" stroke="#1affe5"/><path d="M403.2 115.4h0M405.7 115.1h0M408.1 113.7h0" stroke="#33ffcc"/><path d="M410.2 112.5h0" stroke="#4dffb2"/><path d="M412.4 111.4h0M415.2 110.6h0M418.0 109.1h0" stroke="#66ff99"/><path d="M420.3 108.1h0" stroke="#80ff80"/><path d="M423.4 107.2h0M425.4 105.9h0" stroke="#99ff66"/><path d="M428.9 104.5h0" stroke="#80ff80"/><path d="M386.0 126.0h0" stroke="#4dffb2"/><path d="M388.2 125.2h0" stroke="#66ff99"/><path d="M389.5 123.8h0" stroke="#4dffb2"/><path d="M391.7 123.3h0" stroke="#66ff99"/><path d="M393.8 122.5h0" stroke="#4dffb2"/><path d="M395.6 121.5h0M397.5 120.8h0" stroke="#66ff99"/><path d="M399.9 119.4h0" stroke="#1affe5"/><path d="M402.1 118.7h0M403.9 117.3h0" stroke="#00ffff"/><path d="M406.3 116.4h0M408.8 115.2h0" stroke="#33ffcc"/><path d="M411.5 114.6h0" stroke="#66ff99"/><path d="M413.9 113.4h0" stroke="#80ff80"/><path d="M416.4 112.5h0" stroke="#99ff66"/><path d="M418.4 110.8h0" stroke="#66ff99"/><path d="M421.1 109.8h0M424.0 109.1h0" stroke="#80ff80"/><path d="M426.4 107.5h0" stroke="#99ff66"/><path d="M429.5 106.1h0" stroke="#80ff80"/><path d="M386.9 127.3h0" stroke="#4dffb2"/><path d="M389.1 126.6h0" stroke="#66ff99"/><path d="M390.4 126.1h0M392.3 125.4h0" stroke="#4dffb2"/><path d="M394.2 124.1h0M396.6 123.6h0M398.3 122.7h0" stroke="#66ff99"/><path d="M400.3 121.0h0" stroke="#4dffb2"/><path d="M403.1 120.7h0" stroke="#33ffcc"/><path d="M405.2 119.8h0M407.0 118.8h0" stroke="#00ffff"/><path d="M409.8 117.0h0" stroke="#33ffcc"/><path d="M411.8 116.2h0" stroke="#4dffb2"/><path d="M414.1 114.8h0" stroke="#99ff66"/><path d="M417.2 113.8h0" stroke="#ccff33"/><path d="M419.8 112.7h0" stroke="#80ff80"/><path d="M422.3 111.8h0" stroke="#99ff66"/><path d="M424.3 110.6h0" stroke="#66ff99"/><path d="M427.2 109.3h0" stroke="#99ff66"/><path d="M388.0 129.0h0" stroke="#4dffb2"/><path d="M389.8 128.2h0M391.0 127.3h0M393.5 127.2h0" stroke="#66ff99"/><path d="M395.2 125.8h0" stroke="#80ff80"/><path d="M397.1 125.2h0" stroke="#66ff99"/><path d="M399.2 124.0h0" stroke="#80ff80"/><path d="M401.8 123.3h0" stroke="#4dffb2"/><path d="M404.0 121.9h0" stroke="#33ffcc"/><path d="M406.2 121.6h0" stroke="#1affe5"/><path d="M408.0 120.0h0" stroke="#00e5ff"/><path d="M410.7 118.9h0" stroke="#33ffcc"/><path d="M413.0 118.3h0" stroke="#66ff99"/><path d="M415.3 116.9h0" stroke="#99ff66"/><path d="M417.5 115.8h0" stroke="#ffff00"/><path d="M420.0 115.0h0" stroke="#ccff33"/><path d="M422.6 113.3h0" stroke="#99ff66"/><path d="M425.3 112.8h0" stroke="#80ff80"/><path d="M428.5 111.6h0M388.2 131.2h0M390.5 130.3h0M392.3 129.7h0M394.3 128.9h0M396.4 127.6h0M398.2 126.8h0M400.0 125.8h0" stroke="#66ff99"/><path d="M402.0 125.3h0M404.3 124.5h0" stroke="#4dffb2"/><path d="M406.6 122.9h0" stroke="#33ffcc"/><path d="M409.3 121.7h0" stroke="#00ffff"/><path d="M411.2 121.3h0M413.2 119.8h0" stroke="#33ffcc"/><path d="M415.7 118.6h0" stroke="#80ff80"/><path d="M418.8 117.7h0M421.3 116.6h0" stroke="#b3ff4c"/><path d="M424.0 115.1h0" stroke="#99ff66"/><path d="M426.4 114.4h0M428.7 112.8h0" stroke="#80ff80"/><path d="M389.2 133.1h0M390.8 132.0h0" stroke="#4dffb2"/><path d="M393.2 131.1h0M395.2 130.5h0M396.6 129.3h0" stroke="#66ff99"/><path d="M399.0 128.4h0" stroke="#80ff80"/><path d="M400.7 128.0h0M402.9 127.2h0" stroke="#66ff99"/><path d="M405.1 125.9h0M407.7 125.3h0" stroke="#4dffb2"/><path d="M409.6 123.6h0M411.6 123.2h0" stroke="#1affe5"/><path d="M414.3 122.0h0" stroke="#33ffcc"/><path d="M416.8 120.4h0" stroke="#80ff80"/><path d="M418.9 119.6h0" stroke="#66ff99"/><path d="M421.5 118.5h0M424.3 117.3h0" stroke="#80ff80"/><path d="M427.1 116.4h0M389.9 134.8h0" stroke="#66ff99"/><path d="M391.8 133.7h0" stroke="#33ffcc"/><path d="M394.2 133.6h0M396.1 132.2h0M398.1 131.5h0M400.0 130.3h0M401.7 129.9h0M403.7 128.6h0M406.1 127.6h0" stroke="#66ff99"/><path d="M408.4 127.0h0" stroke="#4dffb2"/><path d="M410.2 125.8h0" stroke="#1affe5"/><path d="M413.1 124.4h0" stroke="#00e5ff"/><path d="M415.3 123.7h0" stroke="#33ffcc"/><path d="M417.6 122.6h0M420.1 121.5h0" stroke="#99ff66"/><path d="M422.3 120.4h0" stroke="#80ff80"/><path d="M425.3 118.9h0" stroke="#66ff99"/><path d="M427.9 117.7h0" stroke="#4dffb2"/><path d="M391.0 136.3h0M392.5 135.8h0" stroke="#66ff99"/><path d="M394.7 134.6h0" stroke="#4dffb2"/><path d="M396.8 134.4h0" stroke="#66ff99"/><path d="M398.6 132.9h0" stroke="#4dffb2"/><path d="M400.9 132.1h0M402.9 131.8h0" stroke="#66ff99"/><path d="M404.5 130.9h0" stroke="#4dffb2"/><path d="M406.9 129.9h0" stroke="#66ff99"/><path d="M409.3 128.9h0" stroke="#4dffb2"/><path d="M411.0 127.4h0" stroke="#33ffcc"/><path d="M414.0 126.3h0" stroke="#00ccff"/><path d="M416.3 125.2h0" stroke="#1affe5"/><path d="M418.2 124.2h0" stroke="#b3ff4c"/><path d="M420.9 123.1h0" stroke="#e5ff1a"/><path d="M423.2 122.4h0" stroke="#99ff66"/><path d="M426.2 121.2h0M428.4 119.8h0M391.9 138.4h0" stroke="#66ff99"/><path d="M393.7 138.0h0M395.2 137.2h0M397.7 135.8h0M399.8 135.2h0" stroke="#4dffb2"/><path d="M401.3 133.9h0M403.6 132.9h0" stroke="#66ff99"/><path d="M405.7 132.7h0" stroke="#4dffb2"/><path d="M407.8 131.5h0" stroke="#66ff99"/><path d="M409.5 130.1h0" stroke="#4dffb2"/><path d="M412.3 129.3h0M414.2 128.1h0" stroke="#1affe5"/><path d="M417.0 126.9h0" stroke="#33ffcc"/><path d="M419.0 126.1h0" stroke="#99ff66"/><path d="M421.5 125.1h0" stroke="#e5ff1a"/><path d="M424.4 123.9h0" stroke="#99ff66"/><path d="M426.6 123.1h0" stroke="#66ff99"/><path d="M429.2 121.7h0M392.9 140.5h0M394.1 139.6h0M396.4 138.5h0M398.6 138.0h0" stroke="#4dffb2"/><path d="M400.0 137.2h0M402.1 135.8h0M403.9 135.3h0M406.7 133.9h0" stroke="#66ff99"/><path d="M408.3 133.3h0M411.0 131.9h0" stroke="#4dffb2"/><path d="M412.8 131.0h0" stroke="#33ffcc"/><path d="M415.5 130.3h0" stroke="#00e5ff"/><path d="M417.3 129.4h0" stroke="#1affe5"/><path d="M420.3 128.0h0" stroke="#4dffb2"/><path d="M422.4 126.6h0" stroke="#99ff66"/><path d="M425.0 125.9h0" stroke="#80ff80"/><path d="M427.9 124.9h0" stroke="#4dffb2"/><path d="M393.5 142.1h0" stroke="#66ff99"/><path d="M395.5 141.3h0" stroke="#4dffb2"/><path d="M397.5 140.2h0" stroke="#66ff99"/><path d="M399.4 139.2h0" stroke="#4dffb2"/><path d="M401.2 139.1h0M403.2 137.7h0" stroke="#66ff99"/><path d="M404.9 137.2h0M407.3 136.1h0" stroke="#4dffb2"/><path d="M409.3 135.3h0M411.7 134.3h0M413.9 132.9h0" stroke="#33ffcc"/><path d="M415.9 132.1h0M418.2 130.5h0" stroke="#00ffff"/><path d="M420.6 130.2h0" stroke="#33ffcc"/><path d="M423.0 128.3h0" stroke="#66ff99"/><path d="M426.1 127.7h0" stroke="#4dffb2"/><path d="M428.2 126.5h0" stroke="#33ffcc"/><path d="M394.2 144.2h0" stroke="#99ff66"/><path d="M395.7 143.4h0" stroke="#33ffcc"/><path d="M398.3 142.7h0M399.6 141.1h0M402.1 140.8h0M403.9 139.5h0M405.6 138.4h0M407.8 137.7h0M409.8 136.6h0" stroke="#4dffb2"/><path d="M412.2 135.7h0" stroke="#66ff99"/><path d="M415.0 134.8h0" stroke="#4dffb2"/><path d="M416.6 133.7h0" stroke="#1affe5"/><path d="M419.2 133.0h0" stroke="#00ffff"/><path d="M421.8 131.4h0M424.5 130.2h0M426.4 129.2h0M429.6 128.6h0" stroke="#4dffb2"/><path d="M395.1 146.0h0" stroke="#b3ff4c"/><path d="M396.7 145.0h0" stroke="#4dffb2"/><path d="M398.6 144.5h0" stroke="#66ff99"/><path d="M400.5 143.0h0M402.3 142.5h0M404.3 141.7h0" stroke="#4dffb2"/><path d="M406.8 140.5h0" stroke="#33ffcc"/><path d="M408.7 139.5h0M411.3 138.3h0" stroke="#4dffb2"/><path d="M412.9 137.5h0" stroke="#66ff99"/><path d="M415.3 137.0h0" stroke="#4dffb2"/><path d="M417.5 135.6h0M420.3 134.7h0" stroke="#33ffcc"/><path d="M422.4 133.3h0M425.2 132.6h0" stroke="#4dffb2"/><path d="M427.3 131.2h0" stroke="#33ffcc"/><path d="M395.6 147.6h0" stroke="#ccff33"/><path d="M398.0 146.6h0" stroke="#66ff99"/><path d="M399.8 146.2h0M401.2 144.8h0M403.5 143.9h0" stroke="#4dffb2"/><path d="M405.3 143.1h0" stroke="#66ff99"/><path d="M407.2 142.8h0" stroke="#4dffb2"/><path d="M409.3 141.4h0" stroke="#66ff99"/><path d="M412.0 140.4h0M413.7 139.6h0M416.2 138.1h0M418.5 137.7h0" stroke="#4dffb2"/><path d="M421.0 136.4h0M423.1 135.4h0" stroke="#33ffcc"/><path d="M426.2 134.1h0" stroke="#4dffb2"/><path d="M428.4 133.2h0" stroke="#1affe5"/><path d="M396.9 149.7h0" stroke="#ffff00"/><path d="M398.8 148.8h0" stroke="#b3ff4c"/><path d="M400.5 147.7h0" stroke="#33ffcc"/><path d="M402.2 147.0h0M404.5 146.2h0M406.4 144.9h0M408.4 144.1h0M410.6 143.6h0" stroke="#4dffb2"/><path d="M412.8 142.2h0M414.8 141.7h0" stroke="#66ff99"/><path d="M416.8 140.5h0M419.7 139.3h0M421.8 138.4h0M424.2 137.2h0" stroke="#4dffb2"/><path d="M426.6 136.4h0M429.0 135.0h0" stroke="#1affe5"/><path d="M397.2 151.6h0" stroke="#ffcc00"/><path d="M399.2 150.1h0" stroke="#b3ff4c"/><path d="M400.8 149.5h0" stroke="#80ff80"/><path d="M403.1 148.9h0M404.9 148.1h0M407.5 147.0h0" stroke="#4dffb2"/><path d="M409.1 145.8h0" stroke="#66ff99"/><path d="M411.0 145.3h0" stroke="#4dffb2"/><path d="M413.4 144.2h0" stroke="#33ffcc"/><path d="M415.4 143.5h0" stroke="#4dffb2"/><path d="M418.1 142.4h0" stroke="#66ff99"/><path d="M420.2 140.9h0" stroke="#4dffb2"/><path d="M422.8 139.9h0M425.3 138.8h0M427.4 137.6h0" stroke="#33ffcc"/><path d="M398.0 153.3h0" stroke="#ffb300"/><path d="M400.0 152.2h0" stroke="#ffff00"/><path d="M402.0 151.5h0" stroke="#80ff80"/><path d="M404.3 150.9h0" stroke="#4dffb2"/><path d="M405.6 150.0h0" stroke="#66ff99"/><path d="M407.6 149.1h0" stroke="#4dffb2"/><path d="M410.1 147.5h0" stroke="#66ff99"/><path d="M412.2 146.7h0M413.9 145.7h0" stroke="#4dffb2"/><path d="M416.3 144.7h0" stroke="#66ff99"/><path d="M419.0 144.2h0" stroke="#4dffb2"/><path d="M421.1 143.2h0" stroke="#66ff99"/><path d="M423.5 142.2h0" stroke="#33ffcc"/><path d="M425.6 140.9h0M428.3 139.9h0" stroke="#1affe5"/><path d="M399.2 154.7h0" stroke="#ffb300"/><path d="M400.8 153.8h0" stroke="#ffff00"/><path d="M402.8 153.0h0" stroke="#b3ff4c"/><path d="M404.8 152.4h0" stroke="#33ffcc"/><path d="M406.3 151.8h0M408.7 150.7h0" stroke="#4dffb2"/><path d="M410.7 149.6h0" stroke="#33ffcc"/><path d="M413.3 148.4h0" stroke="#4dffb2"/><path d="M414.7 147.9h0M417.4 147.1h0" stroke="#33ffcc"/><path d="M419.5 145.8h0" stroke="#66ff99"/><path d="M422.2 144.4h0" stroke="#33ffcc"/><path d="M424.1 144.0h0M426.5 142.6h0" stroke="#1affe5"/><path d="M428.9 141.4h0" stroke="#33ffcc"/><path d="M399.9 156.8h0" stroke="#ff8000"/><path d="M402.1 155.8h0" stroke="#ffe500"/><path d="M403.7 154.9h0" stroke="#b3ff4c"/><path d="M405.7 154.5h0" stroke="#80ff80"/><path d="M407.4 153.2h0" stroke="#4dffb2"/><path d="M409.7 152.7h0" stroke="#66ff99"/><path d="M411.2 151.7h0M413.4 150.4h0" stroke="#4dffb2"/><path d="M415.5 149.4h0" stroke="#66ff99"/><path d="M418.2 148.9h0" stroke="#4dffb2"/><path d="M420.7 147.7h0M422.8 146.7h0M425.2 145.3h0" stroke="#33ffcc"/><path d="M427.7 144.1h0" stroke="#1affe5"/><path d="M400.5 158.2h0" stroke="#ff8000"/><path d="M402.8 157.6h0" stroke="#ffe500"/><path d="M404.8 157.1h0" stroke="#e5ff1a"/><path d="M406.3 156.0h0" stroke="#99ff66"/><path d="M408.2 155.1h0M410.0 154.3h0" stroke="#33ffcc"/><path d="M412.1 153.0h0" stroke="#4dffb2"/><path d="M414.9 152.4h0M416.3 151.3h0M419.3 150.4h0" stroke="#33ffcc"/><path d="M421.1 149.1h0" stroke="#4dffb2"/><path d="M423.2 148.0h0" stroke="#33ffcc"/><path d="M425.4 147.5h0M427.9 146.5h0" stroke="#4dffb2"/><path d="M401.3 160.0h0" stroke="#ff6600"/><path d="M403.6 159.3h0" stroke="#ffb300"/><path d="M405.0 158.9h0" stroke="#ffe500"/><path d="M407.4 157.5h0" stroke="#99ff66"/><path d="M409.3 157.2h0M411.0 156.5h0" stroke="#4dffb2"/><path d="M413.4 154.8h0" stroke="#66ff99"/><path d="M415.6 153.9h0M417.4 153.4h0" stroke="#4dffb2"/><path d="M419.7 151.9h0" stroke="#66ff99"/><path d="M421.9 151.3h0" stroke="#33ffcc"/><path d="M424.0 150.5h0" stroke="#4dffb2"/><path d="M426.5 149.3h0M429.0 148.3h0" stroke="#33ffcc"/><path d="M402.8 162.4h0" stroke="#ff6600"/><path d="M403.9 161.8h0" stroke="#ff8000"/><path d="M406.3 160.8h0" stroke="#ffe500"/><path d="M408.4 160.0h0" stroke="#e5ff1a"/><path d="M410.1 158.7h0" stroke="#66ff99"/><path d="M411.9 158.1h0M414.1 157.3h0M415.8 155.9h0M418.3 155.2h0" stroke="#4dffb2"/><path d="M420.2 154.4h0M423.0 153.4h0M425.4 152.3h0" stroke="#33ffcc"/><path d="M427.6 151.3h0" stroke="#4dffb2"/><path d="M403.3 164.3h0" stroke="#ff3300"/><path d="M404.8 163.4h0" stroke="#ff6600"/><path d="M407.0 162.5h0" stroke="#ffcc00"/><path d="M408.8 161.3h0" stroke="#ffff00"/><path d="M411.1 160.6h0" stroke="#b3ff4c"/><path d="M412.5 160.0h0M414.9 159.1h0" stroke="#4dffb2"/><path d="M417.3 157.9h0" stroke="#33ffcc"/><path d="M418.9 156.7h0M421.1 156.1h0M423.5 154.9h0M425.6 153.5h0M428.0 152.9h0" stroke="#4dffb2"/><path d="M404.3 165.6h0" stroke="#ff3300"/><path d="M405.9 164.7h0" stroke="#ff8000"/><path d="M407.4 164.6h0" stroke="#ff9900"/><path d="M409.7 163.2h0" stroke="#ffff00"/><path d="M411.9 162.4h0" stroke="#ccff33"/><path d="M413.9 161.9h0" stroke="#66ff99"/><path d="M415.5 160.3h0M417.5 159.3h0" stroke="#4dffb2"/><path d="M420.0 159.0h0" stroke="#33ffcc"/><path d="M422.5 157.4h0" stroke="#4dffb2"/><path d="M424.5 156.7h0M426.5 155.8h0" stroke="#66ff99"/><path d="M429.2 155.0h0" stroke="#4dffb2"/><path d="M404.8 167.4h0" stroke="#ff0000"/><path d="M407.1 167.3h0" stroke="#ff3300"/><path d="M408.4 165.9h0" stroke="#ff8000"/><path d="M410.8 165.5h0" stroke="#ffcc00"/><path d="M412.7 164.5h0" stroke="#e5ff1a"/><path d="M414.6 163.8h0" stroke="#99ff66"/><path d="M416.7 162.8h0" stroke="#4dffb2"/><path d="M418.8 161.4h0" stroke="#33ffcc"/><path d="M420.5 160.4h0M422.8 159.3h0M425.0 158.3h0M427.7 157.1h0" stroke="#4dffb2"/><path d="M405.3 169.9h0" stroke="#b30000"/><path d="M407.3 169.0h0" stroke="#e50000"/><path d="M409.1 167.8h0" stroke="#ff6600"/><path d="M411.0 167.3h0" stroke="#ff9900"/><path d="M413.2 166.0h0" stroke="#e5ff1a"/><path d="M415.5 165.2h0" stroke="#99ff66"/><path d="M417.1 163.9h0" stroke="#4dffb2"/><path d="M419.6 163.4h0M421.4 162.3h0" stroke="#66ff99"/><path d="M423.5 161.2h0M425.8 160.4h0" stroke="#4dffb2"/><path d="M428.2 159.7h0" stroke="#66ff99"/><path d="M406.2 171.6h0" stroke="#800000"/><path d="M408.5 170.3h0" stroke="#ff0000"/><path d="M410.0 169.4h0" stroke="#ff3300"/><path d="M412.0 169.2h0" stroke="#ff6600"/><path d="M413.8 167.8h0" stroke="#ffcc00"/><path d="M416.4 166.7h0" stroke="#b3ff4c"/><path d="M418.5 165.7h0M420.5 165.1h0M422.7 164.2h0M424.4 163.2h0M426.9 161.9h0M428.9 161.4h0" stroke="#4dffb2"/><path d="M407.0 172.8h0" stroke="#800000"/><path d="M409.3 172.3h0" stroke="#cc0000"/><path d="M411.1 171.7h0" stroke="#ff0000"/><path d="M413.2 170.7h0" stroke="#ff6600"/><path d="M415.1 169.7h0" stroke="#ffb300"/><path d="M417.1 168.5h0" stroke="#e5ff1a"/><path d="M419.2 168.2h0" stroke="#80ff80"/><path d="M421.1 166.6h0M423.5 165.9h0M425.2 165.3h0M427.6 164.1h0" stroke="#4dffb2"/><path d="M407.8 175.0h0M409.7 174.3h0" stroke="#990000"/><path d="M412.1 173.6h0" stroke="#ff0000"/><path d="M413.7 172.7h0" stroke="#ff3300"/><path d="M415.4 171.9h0" stroke="#ff8000"/><path d="M417.7 170.7h0" stroke="#ffe500"/><path d="M419.8 169.4h0" stroke="#b3ff4c"/><path d="M421.6 168.5h0M423.9 168.1h0M426.4 166.6h0" stroke="#4dffb2"/><path d="M428.1 165.9h0" stroke="#33ffcc"/><path d="M409.1 176.5h0M411.1 176.2h0" stroke="#800000"/><path d="M412.7 175.2h0" stroke="#cc0000"/><path d="M414.4 174.0h0" stroke="#ff3300"/><path d="M416.6 173.7h0" stroke="#ff6600"/><path d="M418.3 172.6h0" stroke="#ffb300"/><path d="M420.9 171.9h0" stroke="#ccff33"/><path d="M422.6 170.6h0" stroke="#80ff80"/><path d="M424.8 170.0h0" stroke="#33ffcc"/><path d="M427.3 168.6h0M429.3 168.1h0" stroke="#4dffb2"/><path d="M410.0 179.0h0" stroke="#800000"/><path d="M411.3 177.8h0" stroke="#990000"/><path d="M413.9 177.3h0" stroke="#b30000"/><path d="M415.5 176.0h0" stroke="#ff0000"/><path d="M417.4 174.9h0" stroke="#ff6600"/><path d="M419.0 174.1h0" stroke="#ff9900"/><path d="M421.8 173.6h0" stroke="#ffff00"/><path d="M423.8 172.8h0" stroke="#99ff66"/><path d="M426.0 171.1h0M428.0 170.3h0" stroke="#4dffb2"/><path d="M410.6 180.8h0M412.5 179.6h0" stroke="#800000"/><path d="M414.7 178.6h0" stroke="#b30000"/><path d="M415.9 178.0h0" stroke="#cc0000"/><path d="M418.5 177.1h0" stroke="#ff3300"/><path d="M420.2 175.9h0" stroke="#ff8000"/><path d="M421.9 175.0h0" stroke="#ffe500"/><path d="M424.2 174.1h0" stroke="#ccff33"/><path d="M426.2 173.4h0" stroke="#66ff99"/><path d="M428.8 172.5h0" stroke="#33ffcc"/><path d="M411.2 182.5h0" stroke="#990000"/><path d="M413.3 181.4h0M415.0 180.4h0" stroke="#800000"/><path d="M416.9 179.8h0" stroke="#b30000"/><path d="M418.6 178.8h0" stroke="#ff0000"/><path d="M421.1 178.0h0" stroke="#ff6600"/><path d="M422.9 177.5h0" stroke="#ffb300"/><path d="M424.9 175.8h0" stroke="#ffff00"/><path d="M427.6 175.1h0" stroke="#80ff80"/><path d="M429.5 174.4h0" stroke="#4dffb2"/><path d="M411.9 183.9h0M413.8 183.2h0" stroke="#800000"/><path d="M415.8 182.6h0" stroke="#990000"/><path d="M418.1 181.6h0" stroke="#b30000"/><path d="M420.0 180.9h0" stroke="#ff0000"/><path d="M422.1 180.0h0" stroke="#ff4c00"/><path d="M424.2 178.6h0" stroke="#ffb300"/><path d="M426.2 178.0h0" stroke="#ffff00"/><path d="M428.1 177.4h0" stroke="#99ff66"/><path d="M413.3 186.2h0" stroke="#800000"/><path d="M415.0 185.0h0" stroke="#990000"/><path d="M416.9 184.1h0" stroke="#800000"/><path d="M418.6 183.5h0" stroke="#990000"/><path d="M420.9 182.8h0" stroke="#cc0000"/><path d="M422.6 181.6h0" stroke="#ff3300"/><path d="M424.4 180.8h0" stroke="#ff6600"/><path d="M426.9 179.5h0" stroke="#ffe500"/><path d="M429.2 179.1h0" stroke="#b3ff4c"/><path d="M414.3 187.5h0" stroke="#990000"/><path d="M415.3 186.6h0M417.6 186.1h0M419.5 185.6h0" stroke="#800000"/><path d="M421.5 184.4h0" stroke="#b30000"/><path d="M423.3 183.5h0" stroke="#ff1a00"/><path d="M425.4 182.9h0" stroke="#ff6600"/><path d="M427.3 181.5h0" stroke="#ffcc00"/><path d="M414.6 189.6h0" stroke="#990000"/><path d="M416.9 188.8h0M418.3 188.0h0M420.3 187.3h0M422.0 186.0h0" stroke="#800000"/><path d="M424.3 185.0h0" stroke="#ff0000"/><path d="M426.6 184.5h0" stroke="#ff3300"/><path d="M428.7 183.4h0" stroke="#ffcc00"/><path d="M415.2 191.2h0" stroke="#990000"/><path d="M417.1 190.3h0" stroke="#800000"/><path d="M419.3 189.8h0" stroke="#990000"/><path d="M421.2 188.5h0M423.0 188.3h0" stroke="#800000"/><path d="M424.7 187.0h0" stroke="#b30000"/><path d="M427.4 186.3h0" stroke="#ff3300"/><path d="M429.3 185.3h0" stroke="#ff8000"/><path d="M416.2 193.4h0" stroke="#b30000"/><path d="M418.2 192.3h0M419.7 191.3h0M421.6 190.5h0" stroke="#800000"/><path d="M423.9 190.1h0" stroke="#990000"/><path d="M425.6 188.6h0" stroke="#cc0000"/><path d="M428.2 187.9h0" stroke="#ff1a00"/><path d="M416.9 194.9h0M418.7 194.6h0M420.8 193.3h0" stroke="#800000"/><path d="M422.4 192.9h0M424.7 191.8h0" stroke="#990000"/><path d="M426.5 190.4h0" stroke="#800000"/><path d="M428.6 190.2h0" stroke="#e50000"/><path d="M418.2 196.7h0M419.8 196.4h0" stroke="#990000"/><path d="M421.5 195.1h0M423.4 194.7h0M425.5 193.7h0M427.4 192.3h0" stroke="#800000"/><path d="M430.0 191.5h0" stroke="#e50000"/><path d="M418.8 198.6h0M420.5 197.5h0M422.4 196.9h0M424.2 196.0h0M426.5 195.2h0M428.1 194.6h0M419.9 200.2h0M421.4 200.0h0M423.2 199.1h0M425.1 198.4h0M427.2 196.9h0M429.1 196.0h0M420.7 202.4h0M422.1 201.3h0M424.4 200.4h0M426.0 199.9h0M427.9 199.1h0M421.3 204.0h0M422.8 203.7h0M424.8 202.7h0M426.7 201.7h0M428.6 200.4h0M421.8 206.2h0M423.7 205.1h0M426.1 204.6h0M427.4 203.3h0M429.8 202.5h0M422.8 208.0h0M425.0 206.9h0M426.7 205.9h0M428.7 205.5h0M423.3 209.3h0M425.4 208.7h0M427.0 207.9h0M429.6 207.2h0" stroke="#800000"/><path d="M424.7 211.3h0" stroke="#990000"/><path d="M426.2 210.3h0M428.5 210.1h0M425.6 213.4h0M426.8 212.3h0M428.8 212.0h0M426.3 214.8h0M428.2 214.6h0M426.8 216.6h0M429.1 216.3h0" stroke="#800000"/></g>
<use href="#us" transform="translate(196.2,96.5) scale(1.00000,1.00000)"/>
<text class="t" x="145.9" y="112.2" textLength="17.4">48</text><text class="d" x="165.2" y="104.8">°</text><text class="t" x="174.8" y="112.2" textLength="10.6" lengthAdjust="spacingAndGlyphs">N</text>
<text class="t" x="145.9" y="130.0" textLength="17.4">46</text><text class="d" x="165.2" y="122.6">°</text><text class="t" x="174.8" y="130.0" textLength="10.6" lengthAdjust="spacingAndGlyphs">N</text>
<text class="t" x="145.9" y="147.2" textLength="17.4">44</text><text class="d" x="165.2" y="139.8">°</text><text class="t" x="174.8" y="147.2" textLength="10.6" lengthAdjust="spacingAndGlyphs">N</text>
<text class="t" x="145.9" y="166.0" textLength="17.4">42</text><text class="d" x="165.2" y="158.6">°</text><text class="t" x="174.8" y="166.0" textLength="10.6" lengthAdjust="spacingAndGlyphs">N</text>
<text class="t" x="145.9" y="182.3" textLength="17.4">40</text><text class="d" x="165.2" y="174.9">°</text><text class="t" x="174.8" y="182.3" textLength="10.6" lengthAdjust="spacingAndGlyphs">N</text>
<text class="t" x="145.9" y="197.0" textLength="17.4">38</text><text class="d" x="165.2" y="189.6">°</text><text class="t" x="174.8" y="197.0" textLength="10.6" lengthAdjust="spacingAndGlyphs">N</text>
<text class="t" x="145.9" y="214.0" textLength="17.4">36</text><text class="d" x="165.2" y="206.6">°</text><text class="t" x="174.8" y="214.0" textLength="10.6" lengthAdjust="spacingAndGlyphs">N</text>
<text class="t" x="145.9" y="227.9" textLength="17.4">34</text><text class="d" x="165.2" y="220.5">°</text><text class="t" x="174.8" y="227.9" textLength="10.6" lengthAdjust="spacingAndGlyphs">N</text>
<text class="t" x="145.9" y="244.9" textLength="17.4">32</text><text class="d" x="165.2" y="237.5">°</text><text class="t" x="174.8" y="244.9" textLength="10.6" lengthAdjust="spacingAndGlyphs">N</text>
<text class="t" x="145.9" y="258.9" textLength="17.4">30</text><text class="d" x="165.2" y="251.5">°</text><text class="t" x="174.8" y="258.9" textLength="10.6" lengthAdjust="spacingAndGlyphs">N</text>
<text class="t" x="145.9" y="272.1" textLength="17.4">28</text><text class="d" x="165.2" y="264.7">°</text><text class="t" x="174.8" y="272.1" textLength="10.6" lengthAdjust="spacingAndGlyphs">N</text>
<text class="t" x="145.9" y="287.0" textLength="17.4">26</text><text class="d" x="165.2" y="279.6">°</text><text class="t" x="174.8" y="287.0" textLength="10.6" lengthAdjust="spacingAndGlyphs">N</text>
<text class="t" x="145.9" y="301.1" textLength="17.4">24</text><text class="d" x="165.2" y="293.7">°</text><text class="t" x="174.8" y="301.1" textLength="10.6" lengthAdjust="spacingAndGlyphs">N</text>
<text class="t" x="145.9" y="313.9" textLength="17.4">22</text><text class="d" x="165.2" y="306.5">°</text><text class="t" x="174.8" y="313.9" textLength="10.6" lengthAdjust="spacingAndGlyphs">N</text>
<text class="t" x="215.0" y="76.7">100</text><text class="d" x="242.5" y="70.2">°</text><text class="t" x="252.6" y="76.7">W</text>
<text class="t" x="283.9" y="76.7">90</text><text class="d" x="302.3" y="70.2">°</text><text class="t" x="313.9" y="76.7">W</text>
<text class="t" x="347.7" y="76.7">80</text><text class="d" x="367.4" y="70.2">°</text><text class="t" x="377.8" y="76.7">W</text>
<text class="t" x="411.0" y="76.7">70</text><text class="d" x="429.2" y="70.2">°</text><text class="t" x="440.8" y="76.7">W</text>
<rect x="441.7" y="95.7" width="22.7" height="214.3" fill="url(#jet)" stroke="#262626" stroke-width="1"/>
<path d="M461.9 99.6H464.9" stroke="#262626" stroke-width="1"/>
<text class="c" x="473.2" y="107.1">4</text>
<path d="M461.9 152.6H464.9" stroke="#262626" stroke-width="1"/>
<text class="c" x="473.2" y="160.1">3</text>
<path d="M461.9 205.7H464.9" stroke="#262626" stroke-width="1"/>
<text class="c" x="473.2" y="213.2">2</text>
<path d="M461.9 258.1H464.9" stroke="#262626" stroke-width="1"/>
<text class="c" x="473.2" y="265.6">1</text>
<text class="c" x="473.2" y="317.9">0</text>
<text class="x" x="124.2" y="340.7" textLength="366.4">SAT+RAP 850 hPa MR (g/kg)</text>
</g>
<g id="p2">
<rect x="617.5" y="96.5" width="233.0" height="213.0" fill="none" stroke="#262626" stroke-width="1"/>
<g fill="none" stroke-width="8.0" stroke-linecap="round"><path d="M794.2 96.9h0M794.5 98.6h0" stroke="#0000ff"/><path d="M796.6 97.6h0M798.7 96.4h0M795.8 100.5h0" stroke="#0033ff"/><path d="M797.8 99.5h0" stroke="#0080ff"/><path d="M799.4 98.4h0" stroke="#0099ff"/><path d="M801.2 97.5h0" stroke="#0080ff"/><path d="M803.1 96.6h0" stroke="#004dff"/><path d="M796.2 101.9h0" stroke="#0033ff"/><path d="M798.3 101.2h0" stroke="#0099ff"/><path d="M800.0 100.7h0M801.8 99.6h0" stroke="#00b2ff"/><path d="M804.1 98.9h0" stroke="#0080ff"/><path d="M805.8 97.9h0" stroke="#0033ff"/><path d="M808.3 97.1h0" stroke="#001aff"/><path d="M797.0 103.7h0" stroke="#004dff"/><path d="M798.7 102.9h0" stroke="#0080ff"/><path d="M800.7 102.4h0" stroke="#00b2ff"/><path d="M802.7 101.4h0" stroke="#00ccff"/><path d="M804.7 100.2h0" stroke="#0080ff"/><path d="M807.2 99.8h0" stroke="#004dff"/><path d="M808.6 98.9h0" stroke="#0033ff"/><path d="M810.7 97.7h0" stroke="#001aff"/><path d="M813.1 96.5h0" stroke="#0000ff"/><path d="M798.4 105.8h0" stroke="#004dff"/><path d="M800.0 105.3h0" stroke="#0080ff"/><path d="M801.6 103.8h0" stroke="#00b2ff"/><path d="M803.3 103.4h0" stroke="#00ccff"/><path d="M805.4 102.4h0" stroke="#0099ff"/><path d="M807.9 101.8h0" stroke="#0080ff"/><path d="M810.0 100.7h0" stroke="#004dff"/><path d="M811.7 99.3h0" stroke="#001aff"/><path d="M813.9 98.6h0M816.1 97.9h0M818.5 96.7h0" stroke="#0000ff"/><path d="M799.2 107.7h0" stroke="#0066ff"/><path d="M800.7 106.7h0" stroke="#0080ff"/><path d="M802.3 105.7h0" stroke="#00b2ff"/><path d="M804.7 104.8h0M806.4 104.5h0" stroke="#00ccff"/><path d="M808.4 103.0h0" stroke="#0099ff"/><path d="M810.7 101.9h0" stroke="#0066ff"/><path d="M812.9 101.3h0" stroke="#001aff"/><path d="M814.6 100.6h0M816.9 99.4h0M819.4 98.7h0M821.4 97.3h0" stroke="#0000ff"/><path d="M799.8 109.2h0" stroke="#004dff"/><path d="M801.4 108.5h0" stroke="#0080ff"/><path d="M803.8 108.0h0" stroke="#00ccff"/><path d="M805.7 107.0h0" stroke="#00b2ff"/><path d="M807.5 105.6h0" stroke="#00ccff"/><path d="M809.1 105.1h0" stroke="#0099ff"/><path d="M811.7 104.1h0" stroke="#0066ff"/><path d="M813.3 103.5h0" stroke="#0033ff"/><path d="M815.2 102.0h0" stroke="#001aff"/><path d="M817.5 101.4h0M820.0 100.3h0M822.4 99.1h0" stroke="#0000ff"/><path d="M824.5 97.9h0" stroke="#001aff"/><path d="M826.9 97.4h0" stroke="#0000ff"/><path d="M800.3 110.9h0" stroke="#0033ff"/><path d="M802.4 110.4h0" stroke="#0066ff"/><path d="M804.0 109.6h0" stroke="#0099ff"/><path d="M806.2 108.3h0" stroke="#00ccff"/><path d="M808.0 107.5h0M810.2 107.1h0" stroke="#0099ff"/><path d="M812.4 105.7h0" stroke="#0080ff"/><path d="M814.0 105.3h0" stroke="#004dff"/><path d="M816.3 103.8h0" stroke="#0033ff"/><path d="M818.9 102.8h0M821.1 101.7h0" stroke="#0000ff"/><path d="M822.8 101.1h0" stroke="#001aff"/><path d="M825.3 99.8h0M828.3 99.0h0" stroke="#0000ff"/><path d="M830.8 97.8h0" stroke="#001aff"/><path d="M832.8 96.8h0" stroke="#0000ff"/><path d="M801.2 113.2h0" stroke="#001aff"/><path d="M802.9 112.1h0" stroke="#0033ff"/><path d="M805.2 111.7h0" stroke="#004dff"/><path d="M807.1 110.2h0" stroke="#0080ff"/><path d="M809.0 109.9h0" stroke="#0099ff"/><path d="M811.1 108.5h0" stroke="#0080ff"/><path d="M812.7 107.8h0" stroke="#0066ff"/><path d="M814.8 106.5h0M816.9 106.1h0" stroke="#0033ff"/><path d="M819.3 105.1h0M821.6 103.6h0" stroke="#001aff"/><path d="M824.2 103.1h0M826.8 101.4h0M828.8 101.0h0" stroke="#0000ff"/><path d="M831.5 99.2h0M834.0 98.4h0M836.4 97.0h0" stroke="#001aff"/><path d="M802.5 114.9h0" stroke="#0000ff"/><path d="M803.7 113.9h0" stroke="#0033ff"/><path d="M805.9 112.8h0" stroke="#0066ff"/><path d="M807.5 112.2h0" stroke="#004dff"/><path d="M809.7 111.3h0M811.4 110.6h0" stroke="#0066ff"/><path d="M813.8 110.0h0" stroke="#004dff"/><path d="M815.5 108.4h0" stroke="#0033ff"/><path d="M817.9 107.7h0" stroke="#001aff"/><path d="M820.1 106.8h0M822.9 105.4h0" stroke="#0000ff"/><path d="M824.9 104.9h0" stroke="#001aff"/><path d="M827.3 103.7h0M829.5 102.4h0" stroke="#0000ff"/><path d="M832.5 101.6h0" stroke="#0000e6"/><path d="M834.5 100.5h0M837.4 99.0h0" stroke="#0000ff"/><path d="M840.0 97.9h0M842.5 97.1h0M803.0 116.6h0M804.7 115.6h0M806.3 115.3h0" stroke="#001aff"/><path d="M808.7 114.0h0M810.3 112.9h0" stroke="#0033ff"/><path d="M812.8 112.4h0M815.0 111.3h0" stroke="#004dff"/><path d="M816.4 110.3h0" stroke="#0033ff"/><path d="M818.9 109.9h0" stroke="#001aff"/><path d="M821.0 108.9h0" stroke="#0033ff"/><path d="M823.0 107.5h0" stroke="#001aff"/><path d="M825.5 106.1h0M827.8 105.3h0M830.4 104.1h0M833.0 103.5h0M835.7 102.5h0" stroke="#0000ff"/><path d="M838.2 100.6h0" stroke="#001aff"/><path d="M840.6 99.5h0" stroke="#0000ff"/><path d="M843.2 98.6h0" stroke="#001aff"/><path d="M846.6 97.1h0M803.7 118.7h0M805.8 117.5h0" stroke="#0000ff"/><path d="M807.2 116.8h0M809.3 116.0h0" stroke="#001aff"/><path d="M811.5 114.9h0M813.7 114.3h0M815.8 112.9h0M817.4 112.0h0M819.4 111.1h0" stroke="#0033ff"/><path d="M822.2 110.3h0" stroke="#001aff"/><path d="M824.2 109.4h0M826.6 108.2h0M829.0 107.1h0" stroke="#0000ff"/><path d="M831.5 106.0h0" stroke="#0000e6"/><path d="M834.0 105.5h0M836.3 104.3h0M838.6 102.4h0" stroke="#0000ff"/><path d="M841.8 101.5h0M844.7 100.1h0M846.7 98.8h0M849.6 97.8h0" stroke="#001aff"/><path d="M805.0 120.2h0M806.2 119.2h0" stroke="#0000ff"/><path d="M808.1 118.3h0" stroke="#0000e6"/><path d="M810.5 117.6h0M812.3 116.8h0M814.4 116.0h0" stroke="#001aff"/><path d="M815.9 115.3h0" stroke="#004dff"/><path d="M818.0 114.3h0" stroke="#001aff"/><path d="M820.2 113.3h0M822.7 112.5h0" stroke="#0033ff"/><path d="M824.8 111.0h0M827.1 110.1h0M829.9 109.2h0M831.9 108.4h0" stroke="#0000ff"/><path d="M834.3 107.2h0" stroke="#001aff"/><path d="M837.4 105.6h0M839.6 104.5h0" stroke="#0000ff"/><path d="M842.4 103.7h0" stroke="#001aff"/><path d="M845.2 102.1h0" stroke="#0033ff"/><path d="M848.0 101.2h0M805.3 122.4h0M807.6 121.1h0" stroke="#001aff"/><path d="M809.0 120.1h0" stroke="#0000e6"/><path d="M810.7 120.0h0M812.7 118.9h0M814.7 117.6h0M816.9 117.3h0M819.4 116.3h0M821.1 115.3h0" stroke="#001aff"/><path d="M823.7 113.7h0M825.7 112.7h0M827.7 112.4h0" stroke="#0000ff"/><path d="M830.2 110.9h0" stroke="#001aff"/><path d="M832.6 109.8h0" stroke="#0000ff"/><path d="M835.1 108.9h0" stroke="#001aff"/><path d="M837.9 107.3h0" stroke="#0000ff"/><path d="M840.9 106.3h0M843.0 105.6h0M845.8 103.7h0" stroke="#001aff"/><path d="M848.6 102.4h0" stroke="#0033ff"/><path d="M806.2 124.0h0M808.0 122.8h0" stroke="#0000ff"/><path d="M810.0 122.4h0" stroke="#0000e6"/><path d="M812.0 121.8h0" stroke="#001aff"/><path d="M813.8 120.4h0M815.8 120.1h0" stroke="#0000ff"/><path d="M817.8 118.5h0" stroke="#001aff"/><path d="M820.4 117.4h0M822.0 116.9h0M824.3 115.7h0M826.9 115.1h0M829.3 113.5h0M831.4 112.8h0" stroke="#0000ff"/><path d="M833.6 112.0h0" stroke="#001aff"/><path d="M836.5 110.6h0M838.8 109.8h0" stroke="#0000ff"/><path d="M841.6 108.2h0" stroke="#001aff"/><path d="M844.2 107.0h0" stroke="#0000ff"/><path d="M846.9 105.7h0M849.7 104.6h0M806.9 126.1h0" stroke="#001aff"/><path d="M808.9 125.1h0" stroke="#0000e6"/><path d="M810.6 123.8h0" stroke="#0000ff"/><path d="M813.0 123.3h0" stroke="#0000e6"/><path d="M814.9 122.2h0" stroke="#0000ff"/><path d="M816.4 121.8h0" stroke="#0000e6"/><path d="M819.0 120.9h0" stroke="#0000ff"/><path d="M821.1 119.3h0" stroke="#0000e6"/><path d="M823.2 118.4h0" stroke="#001aff"/><path d="M824.9 117.5h0M827.7 116.7h0" stroke="#0000ff"/><path d="M829.7 115.3h0" stroke="#0000e6"/><path d="M832.3 114.5h0" stroke="#001aff"/><path d="M834.5 113.7h0M837.2 112.3h0M839.6 111.0h0" stroke="#0000ff"/><path d="M842.1 109.7h0M844.6 108.9h0M847.8 107.5h0M850.2 106.2h0" stroke="#001aff"/><path d="M808.0 127.9h0M809.5 126.7h0" stroke="#0000ff"/><path d="M811.5 125.6h0" stroke="#0000e6"/><path d="M813.5 125.0h0" stroke="#0000ff"/><path d="M815.4 124.3h0M817.7 123.2h0" stroke="#0000e6"/><path d="M819.9 122.2h0" stroke="#0000ff"/><path d="M822.0 121.6h0" stroke="#0000e6"/><path d="M823.7 120.2h0" stroke="#0000ff"/><path d="M826.2 119.4h0M828.6 118.7h0M830.2 117.5h0" stroke="#0000e6"/><path d="M833.2 116.3h0" stroke="#0000ff"/><path d="M835.3 115.6h0" stroke="#0000e6"/><path d="M837.9 114.5h0M840.5 113.3h0" stroke="#0000ff"/><path d="M843.1 111.9h0M845.9 110.9h0M848.1 109.7h0" stroke="#001aff"/><path d="M808.4 129.1h0" stroke="#0000ff"/><path d="M810.2 128.8h0" stroke="#0000e6"/><path d="M812.6 127.8h0M814.3 127.0h0M816.7 126.3h0" stroke="#0000ff"/><path d="M818.2 125.2h0M820.0 124.6h0" stroke="#0000e6"/><path d="M822.3 123.1h0" stroke="#0000ff"/><path d="M824.9 122.4h0M826.5 121.2h0" stroke="#0000e6"/><path d="M829.4 120.6h0" stroke="#0000ff"/><path d="M831.1 118.9h0M833.8 118.1h0" stroke="#0000e6"/><path d="M836.2 117.0h0" stroke="#0000ff"/><path d="M838.9 115.8h0" stroke="#001aff"/><path d="M840.9 114.7h0" stroke="#0000ff"/><path d="M843.8 113.6h0M846.3 112.8h0M849.0 111.5h0" stroke="#001aff"/><path d="M809.5 131.6h0" stroke="#0000e6"/><path d="M811.3 130.7h0M813.3 129.2h0" stroke="#0000ff"/><path d="M815.4 128.4h0M817.4 127.9h0M819.4 127.0h0M821.0 125.8h0" stroke="#0000e6"/><path d="M823.5 124.8h0" stroke="#0000ff"/><path d="M825.1 123.8h0M827.9 123.5h0" stroke="#0000e6"/><path d="M829.7 122.5h0M832.4 120.8h0M834.2 120.3h0" stroke="#0000ff"/><path d="M836.8 118.8h0" stroke="#0000e6"/><path d="M839.5 117.6h0" stroke="#0000ff"/><path d="M842.4 116.6h0M844.9 115.9h0M847.2 114.0h0" stroke="#001aff"/><path d="M849.8 113.2h0" stroke="#0033ff"/><path d="M810.0 133.1h0" stroke="#0000ff"/><path d="M812.3 132.0h0" stroke="#0000e6"/><path d="M814.3 131.1h0" stroke="#001aff"/><path d="M816.3 130.6h0M817.8 129.6h0M820.3 128.5h0M822.0 128.2h0M823.8 126.6h0M826.1 126.3h0M828.8 124.6h0M830.8 124.3h0" stroke="#0000e6"/><path d="M833.1 122.6h0M835.3 121.8h0" stroke="#0000ff"/><path d="M837.6 121.0h0" stroke="#001aff"/><path d="M840.1 119.3h0" stroke="#0000ff"/><path d="M842.9 118.8h0" stroke="#001aff"/><path d="M845.5 117.3h0" stroke="#0033ff"/><path d="M847.8 116.3h0" stroke="#001aff"/><path d="M810.9 135.0h0M813.1 133.8h0" stroke="#0000ff"/><path d="M814.6 133.6h0" stroke="#0000e6"/><path d="M817.1 132.4h0M818.5 131.2h0" stroke="#0000ff"/><path d="M820.7 130.7h0" stroke="#0000e6"/><path d="M822.5 129.7h0M824.9 128.7h0" stroke="#0000ff"/><path d="M826.8 127.7h0M829.1 127.1h0" stroke="#0000e6"/><path d="M831.5 126.1h0" stroke="#0000ff"/><path d="M833.8 125.0h0" stroke="#0000e6"/><path d="M836.3 123.9h0" stroke="#0000ff"/><path d="M838.4 122.4h0" stroke="#001aff"/><path d="M840.7 121.4h0" stroke="#0000ff"/><path d="M844.0 120.0h0" stroke="#001aff"/><path d="M846.3 119.0h0" stroke="#0000ff"/><path d="M849.1 117.7h0" stroke="#001aff"/><path d="M811.8 136.8h0M813.9 136.1h0M815.9 135.0h0" stroke="#0000ff"/><path d="M817.9 133.8h0M819.9 133.3h0M821.4 132.6h0M823.8 131.2h0M825.5 130.4h0" stroke="#0000e6"/><path d="M827.7 130.0h0" stroke="#0000ff"/><path d="M830.1 128.6h0M832.6 127.9h0M834.4 126.7h0" stroke="#0000e6"/><path d="M837.3 125.8h0M839.3 124.2h0M842.3 123.5h0" stroke="#0000ff"/><path d="M844.7 122.5h0" stroke="#001aff"/><path d="M847.4 121.2h0" stroke="#0033ff"/><path d="M849.8 119.8h0" stroke="#0000ff"/><path d="M813.1 138.8h0" stroke="#00e5ff"/><path d="M815.0 137.8h0" stroke="#0033ff"/><path d="M816.9 136.6h0" stroke="#001aff"/><path d="M818.2 136.3h0M820.2 134.9h0M822.4 134.6h0M824.6 133.5h0" stroke="#0000e6"/><path d="M826.8 132.6h0" stroke="#0000ff"/><path d="M829.0 131.7h0M831.0 130.7h0" stroke="#0000e6"/><path d="M833.0 129.5h0" stroke="#0000ff"/><path d="M835.1 128.4h0" stroke="#0000cc"/><path d="M837.5 127.0h0" stroke="#0000ff"/><path d="M840.4 126.2h0" stroke="#0000e6"/><path d="M842.6 124.9h0" stroke="#0000ff"/><path d="M845.4 123.8h0" stroke="#0033ff"/><path d="M847.6 122.7h0M850.7 121.9h0" stroke="#001aff"/><path d="M813.3 140.5h0" stroke="#ff6600"/><path d="M815.2 139.4h0" stroke="#80ff80"/><path d="M817.7 138.6h0" stroke="#00ccff"/><path d="M819.3 138.2h0" stroke="#0080ff"/><path d="M821.1 137.0h0" stroke="#0000ff"/><path d="M823.6 135.8h0M825.5 134.9h0M827.1 134.6h0M829.5 133.5h0" stroke="#0000e6"/><path d="M831.4 132.3h0" stroke="#0000ff"/><path d="M834.3 131.3h0" stroke="#0000cc"/><path d="M836.6 130.4h0" stroke="#0000ff"/><path d="M838.3 129.3h0" stroke="#0000cc"/><path d="M841.0 128.2h0M843.7 126.9h0" stroke="#0000ff"/><path d="M846.4 125.8h0" stroke="#001aff"/><path d="M848.6 125.0h0" stroke="#0033ff"/><path d="M814.6 142.3h0M816.2 141.6h0" stroke="#e50000"/><path d="M818.3 140.2h0" stroke="#ffe500"/><path d="M819.9 139.4h0" stroke="#99ff66"/><path d="M821.7 138.9h0" stroke="#00ccff"/><path d="M824.1 137.6h0" stroke="#0000e6"/><path d="M826.2 136.8h0" stroke="#0000ff"/><path d="M828.4 135.9h0M830.7 135.2h0" stroke="#0000e6"/><path d="M832.8 134.2h0" stroke="#0000cc"/><path d="M835.0 133.2h0" stroke="#0000ff"/><path d="M836.9 131.8h0M839.7 130.9h0" stroke="#0000e6"/><path d="M841.6 129.9h0M844.6 128.5h0" stroke="#0000ff"/><path d="M846.8 127.3h0M849.9 126.9h0" stroke="#001aff"/><path d="M815.0 143.9h0M816.9 143.2h0M818.6 142.2h0M821.2 141.3h0" stroke="#e50000"/><path d="M822.6 141.0h0" stroke="#ff9900"/><path d="M824.9 140.0h0" stroke="#0000ff"/><path d="M826.7 138.5h0M829.0 138.0h0M831.4 136.7h0" stroke="#0000e6"/><path d="M833.4 135.8h0" stroke="#0000ff"/><path d="M835.7 134.7h0M838.2 133.9h0" stroke="#0000e6"/><path d="M840.2 133.2h0" stroke="#0000ff"/><path d="M842.4 131.8h0" stroke="#001aff"/><path d="M845.4 130.8h0" stroke="#0000ff"/><path d="M847.4 129.3h0" stroke="#001aff"/><path d="M850.5 128.7h0" stroke="#0000ff"/><path d="M816.3 145.8h0" stroke="#ff0000"/><path d="M818.3 145.2h0M820.0 144.1h0M821.4 143.6h0" stroke="#e50000"/><path d="M823.8 142.8h0" stroke="#ffb300"/><path d="M825.4 141.4h0M827.7 140.9h0" stroke="#0000ff"/><path d="M829.9 139.8h0" stroke="#0000e6"/><path d="M831.8 139.0h0M834.4 138.0h0M836.6 136.7h0M839.1 136.0h0" stroke="#0000ff"/><path d="M841.2 134.9h0" stroke="#0000e6"/><path d="M843.2 133.7h0M845.8 132.1h0" stroke="#0000ff"/><path d="M848.7 131.6h0" stroke="#001aff"/><path d="M816.7 147.4h0M818.9 147.2h0M820.7 145.7h0" stroke="#e50000"/><path d="M822.8 145.0h0" stroke="#b30000"/><path d="M824.2 144.1h0" stroke="#ff6600"/><path d="M826.1 143.4h0M828.2 142.7h0M830.3 141.3h0M832.6 140.6h0" stroke="#0000e6"/><path d="M834.8 139.8h0" stroke="#0000ff"/><path d="M837.5 138.6h0" stroke="#001aff"/><path d="M839.2 137.8h0M841.9 136.1h0M844.5 135.6h0M846.9 134.3h0" stroke="#0000ff"/><path d="M849.2 133.4h0" stroke="#0033ff"/><path d="M818.1 149.4h0M819.9 148.3h0M821.4 148.0h0" stroke="#e50000"/><path d="M823.5 147.0h0" stroke="#cc0000"/><path d="M825.2 145.9h0" stroke="#ffb300"/><path d="M827.0 145.4h0" stroke="#0000e6"/><path d="M829.1 144.5h0" stroke="#0000ff"/><path d="M831.2 143.2h0" stroke="#0000e6"/><path d="M834.0 142.6h0M836.2 141.7h0" stroke="#0000ff"/><path d="M837.7 140.2h0" stroke="#0000e6"/><path d="M840.0 139.6h0M842.6 138.2h0" stroke="#0000ff"/><path d="M844.9 137.3h0M847.3 135.8h0M850.1 135.3h0" stroke="#001aff"/><path d="M818.2 151.0h0" stroke="#e50000"/><path d="M820.1 150.7h0" stroke="#ff0000"/><path d="M822.6 149.9h0" stroke="#e50000"/><path d="M824.1 149.1h0" stroke="#cc0000"/><path d="M826.1 147.9h0" stroke="#ffb300"/><path d="M827.9 146.8h0" stroke="#001aff"/><path d="M830.3 146.5h0M832.6 145.1h0" stroke="#0000ff"/><path d="M834.7 144.5h0" stroke="#0000e6"/><path d="M836.3 142.8h0" stroke="#0000ff"/><path d="M838.8 141.8h0" stroke="#001aff"/><path d="M841.5 141.4h0M843.9 140.1h0M845.7 138.9h0M848.5 138.0h0" stroke="#0000ff"/><path d="M819.1 152.9h0M820.9 152.4h0" stroke="#e50000"/><path d="M822.7 151.3h0" stroke="#ff0000"/><path d="M825.1 150.8h0" stroke="#cc0000"/><path d="M826.9 149.4h0" stroke="#ffcc00"/><path d="M828.9 148.8h0M831.1 148.1h0" stroke="#0000ff"/><path d="M833.2 147.0h0" stroke="#001aff"/><path d="M835.0 146.4h0M837.2 145.4h0M839.5 144.0h0" stroke="#0000ff"/><path d="M842.1 143.2h0" stroke="#0000e6"/><path d="M844.0 141.6h0" stroke="#001aff"/><path d="M846.4 140.5h0" stroke="#0000ff"/><path d="M849.1 140.1h0" stroke="#001aff"/><path d="M820.5 155.1h0" stroke="#cc0000"/><path d="M822.3 154.0h0M824.1 153.0h0" stroke="#e50000"/><path d="M826.2 152.6h0" stroke="#cc0000"/><path d="M827.5 151.6h0" stroke="#ff3300"/><path d="M829.4 150.9h0" stroke="#001aff"/><path d="M831.4 150.1h0M833.9 149.1h0" stroke="#0000e6"/><path d="M836.1 148.1h0M837.9 146.5h0M840.4 145.5h0" stroke="#0000ff"/><path d="M843.0 144.4h0" stroke="#001aff"/><path d="M845.2 143.5h0M847.8 142.4h0" stroke="#0000ff"/><path d="M850.5 141.6h0" stroke="#001aff"/><path d="M820.9 156.5h0" stroke="#e50000"/><path d="M823.1 155.7h0" stroke="#ff0000"/><path d="M824.6 155.0h0" stroke="#e50000"/><path d="M826.7 154.7h0" stroke="#cc0000"/><path d="M828.8 153.0h0" stroke="#b3ff4c"/><path d="M830.7 152.6h0M832.6 151.6h0M834.8 151.0h0" stroke="#0000ff"/><path d="M837.1 149.9h0" stroke="#001aff"/><path d="M839.3 148.3h0" stroke="#0000ff"/><path d="M841.5 148.0h0" stroke="#0000e6"/><path d="M843.4 147.0h0M846.0 145.8h0M848.3 144.4h0" stroke="#001aff"/><path d="M821.5 158.6h0" stroke="#cc0000"/><path d="M824.0 158.0h0M825.8 157.4h0M827.2 156.0h0" stroke="#e50000"/><path d="M829.0 155.0h0" stroke="#ff3300"/><path d="M831.2 154.6h0" stroke="#0000e6"/><path d="M833.7 153.7h0M835.2 152.7h0M837.5 151.6h0" stroke="#0000ff"/><path d="M840.3 150.3h0" stroke="#001aff"/><path d="M842.2 149.6h0" stroke="#0000e6"/><path d="M844.4 148.8h0" stroke="#0000ff"/><path d="M847.0 147.8h0M849.1 146.7h0" stroke="#001aff"/><path d="M822.2 160.3h0" stroke="#e50000"/><path d="M824.2 159.6h0" stroke="#ff0000"/><path d="M826.5 159.0h0M828.0 157.7h0" stroke="#e50000"/><path d="M829.8 157.2h0" stroke="#ff1a00"/><path d="M832.6 156.3h0" stroke="#001aff"/><path d="M834.3 155.4h0M836.2 154.0h0M838.2 152.9h0M840.4 152.3h0M843.3 151.5h0" stroke="#0000ff"/><path d="M845.0 150.0h0" stroke="#001aff"/><path d="M847.5 149.2h0M850.3 147.8h0" stroke="#0000ff"/><path d="M823.8 162.2h0M825.5 161.2h0M827.4 160.9h0M828.7 159.5h0" stroke="#e50000"/><path d="M831.3 158.6h0" stroke="#99ff66"/><path d="M833.1 157.7h0" stroke="#0000ff"/><path d="M834.8 156.7h0" stroke="#001aff"/><path d="M837.3 156.2h0" stroke="#0000ff"/><path d="M839.1 154.8h0" stroke="#001aff"/><path d="M841.2 154.5h0" stroke="#0000ff"/><path d="M843.7 153.3h0M845.9 152.0h0M848.5 150.8h0" stroke="#001aff"/><path d="M824.1 164.0h0" stroke="#cc0000"/><path d="M826.3 163.1h0M827.9 162.3h0" stroke="#e50000"/><path d="M830.0 161.6h0" stroke="#cc0000"/><path d="M832.0 161.0h0" stroke="#ff4c00"/><path d="M833.6 159.4h0M835.9 159.1h0M837.7 157.6h0M839.9 156.9h0M842.0 155.7h0" stroke="#0000ff"/><path d="M845.0 155.0h0" stroke="#001aff"/><path d="M846.6 153.7h0M849.6 153.3h0" stroke="#0000ff"/><path d="M825.4 165.6h0" stroke="#cc0000"/><path d="M826.7 164.8h0M829.1 164.0h0" stroke="#e50000"/><path d="M831.0 163.4h0" stroke="#cc0000"/><path d="M832.8 162.2h0" stroke="#ff8000"/><path d="M834.4 161.8h0M836.6 160.4h0" stroke="#001aff"/><path d="M838.6 159.4h0" stroke="#0000ff"/><path d="M841.1 158.8h0" stroke="#001aff"/><path d="M843.4 157.9h0M845.2 156.8h0M847.5 156.0h0" stroke="#0000ff"/><path d="M850.5 154.9h0" stroke="#001aff"/><path d="M826.2 167.5h0" stroke="#e50000"/><path d="M827.5 167.0h0" stroke="#cc0000"/><path d="M829.4 165.7h0" stroke="#e50000"/><path d="M831.4 165.0h0" stroke="#cc0000"/><path d="M833.5 164.7h0" stroke="#b30000"/><path d="M835.4 163.6h0" stroke="#0033ff"/><path d="M837.3 162.5h0" stroke="#0000ff"/><path d="M839.6 162.0h0" stroke="#0000e6"/><path d="M841.9 160.4h0" stroke="#0000ff"/><path d="M844.3 159.4h0" stroke="#001aff"/><path d="M846.0 159.0h0M848.4 157.5h0" stroke="#0000ff"/><path d="M826.3 169.5h0M828.3 169.0h0M830.2 167.9h0" stroke="#cc0000"/><path d="M832.4 167.2h0M834.0 166.6h0" stroke="#b30000"/><path d="M836.0 165.0h0" stroke="#0033ff"/><path d="M838.6 164.0h0M840.2 163.2h0M842.5 162.8h0" stroke="#0000ff"/><path d="M844.9 161.8h0" stroke="#001aff"/><path d="M847.4 160.4h0M849.0 159.8h0" stroke="#0000ff"/><path d="M827.4 171.2h0M829.7 170.9h0M831.5 170.0h0" stroke="#cc0000"/><path d="M833.3 168.9h0M835.2 168.1h0" stroke="#b30000"/><path d="M837.3 167.4h0" stroke="#0099ff"/><path d="M838.8 166.5h0" stroke="#001aff"/><path d="M841.3 165.0h0M843.2 164.2h0" stroke="#0000ff"/><path d="M845.6 163.4h0M848.0 162.3h0M850.3 161.5h0" stroke="#001aff"/><path d="M828.5 173.4h0M830.3 172.1h0" stroke="#b30000"/><path d="M831.8 171.5h0M834.3 170.5h0" stroke="#cc0000"/><path d="M836.2 169.6h0" stroke="#990000"/><path d="M838.1 168.8h0" stroke="#00ccff"/><path d="M839.7 167.8h0M841.8 166.9h0" stroke="#0033ff"/><path d="M844.2 166.0h0M846.1 165.2h0" stroke="#001aff"/><path d="M848.6 164.3h0" stroke="#0000ff"/><path d="M829.1 174.8h0M831.1 174.0h0M832.8 173.8h0" stroke="#b30000"/><path d="M834.9 172.6h0" stroke="#cc0000"/><path d="M836.9 172.0h0" stroke="#990000"/><path d="M838.6 170.6h0" stroke="#ccff33"/><path d="M841.0 169.9h0" stroke="#00b2ff"/><path d="M843.0 168.7h0M844.7 168.0h0" stroke="#004dff"/><path d="M846.9 166.5h0M849.3 166.1h0" stroke="#001aff"/><path d="M829.8 177.0h0" stroke="#b30000"/><path d="M832.2 175.7h0M834.0 174.9h0" stroke="#990000"/><path d="M835.5 174.4h0" stroke="#b30000"/><path d="M837.5 173.3h0" stroke="#800000"/><path d="M839.2 172.3h0" stroke="#ffb300"/><path d="M841.7 171.8h0" stroke="#00e5ff"/><path d="M843.5 171.0h0" stroke="#00ccff"/><path d="M845.9 169.5h0M848.4 168.8h0" stroke="#0080ff"/><path d="M850.5 167.7h0" stroke="#004dff"/><path d="M831.0 178.5h0" stroke="#990000"/><path d="M832.3 177.9h0" stroke="#b30000"/><path d="M834.2 177.2h0" stroke="#990000"/><path d="M836.2 175.9h0" stroke="#b30000"/><path d="M838.5 175.4h0" stroke="#800000"/><path d="M840.4 174.1h0" stroke="#ffe500"/><path d="M842.5 173.3h0" stroke="#00e5ff"/><path d="M844.6 172.7h0" stroke="#00ffff"/><path d="M846.3 171.8h0" stroke="#00e5ff"/><path d="M849.0 170.7h0" stroke="#00ccff"/><path d="M831.7 180.8h0M833.6 179.5h0M835.0 178.6h0M837.4 178.4h0" stroke="#990000"/><path d="M839.4 177.0h0" stroke="#800000"/><path d="M840.8 176.3h0" stroke="#b30000"/><path d="M842.9 175.0h0" stroke="#00e5ff"/><path d="M845.7 174.7h0M847.5 173.2h0M849.7 172.3h0" stroke="#00ffff"/><path d="M832.6 182.4h0M833.9 181.4h0M836.1 180.5h0M837.9 179.8h0" stroke="#990000"/><path d="M840.2 179.2h0" stroke="#800000"/><path d="M842.3 178.4h0" stroke="#ff0000"/><path d="M844.2 176.8h0M846.0 175.8h0M848.7 175.6h0" stroke="#1affe5"/><path d="M850.6 174.1h0" stroke="#00ffff"/><path d="M832.9 184.4h0M834.7 183.3h0M836.6 182.9h0" stroke="#990000"/><path d="M839.1 181.4h0M840.5 180.4h0" stroke="#800000"/><path d="M843.1 179.6h0" stroke="#e50000"/><path d="M844.6 179.2h0" stroke="#66ff99"/><path d="M846.7 177.8h0" stroke="#4dffb2"/><path d="M849.5 176.7h0" stroke="#33ffcc"/><path d="M834.4 186.3h0" stroke="#800000"/><path d="M835.9 185.5h0M837.7 184.5h0" stroke="#990000"/><path d="M839.9 183.2h0M841.3 182.9h0M843.5 181.5h0" stroke="#800000"/><path d="M846.1 180.5h0" stroke="#99ff66"/><path d="M848.1 179.7h0M849.8 178.6h0" stroke="#80ff80"/><path d="M834.8 188.1h0" stroke="#800000"/><path d="M836.3 187.2h0" stroke="#990000"/><path d="M838.7 186.5h0M840.8 185.6h0M842.3 184.3h0M844.4 183.2h0" stroke="#800000"/><path d="M846.3 182.9h0" stroke="#ccff33"/><path d="M848.9 181.9h0" stroke="#b3ff4c"/><path d="M835.5 190.0h0" stroke="#800000"/><path d="M837.7 189.0h0" stroke="#b30000"/><path d="M839.6 187.8h0" stroke="#990000"/><path d="M841.6 186.8h0M843.3 186.1h0M845.6 185.6h0" stroke="#800000"/><path d="M847.6 184.1h0M849.6 183.6h0" stroke="#b3ff4c"/><path d="M836.2 191.8h0M838.2 190.9h0M840.4 190.1h0" stroke="#990000"/><path d="M841.9 188.6h0M843.9 187.7h0M845.8 186.8h0" stroke="#800000"/><path d="M848.3 186.0h0M850.5 185.7h0" stroke="#ccff33"/><path d="M837.2 193.4h0" stroke="#800000"/><path d="M839.5 192.7h0M840.9 191.9h0" stroke="#990000"/><path d="M843.0 191.0h0M844.9 189.9h0M847.0 188.8h0" stroke="#800000"/><path d="M848.9 188.0h0" stroke="#ff9900"/><path d="M837.9 195.4h0M839.6 194.4h0" stroke="#990000"/><path d="M841.8 193.1h0M843.8 192.9h0M845.5 191.9h0M848.0 190.6h0" stroke="#800000"/><path d="M849.7 189.8h0" stroke="#ff9900"/><path d="M839.1 197.3h0M840.7 196.3h0" stroke="#800000"/><path d="M842.4 195.3h0" stroke="#990000"/><path d="M844.3 194.8h0M846.9 193.6h0M848.9 192.7h0" stroke="#800000"/><path d="M850.8 192.0h0" stroke="#ff6600"/><path d="M839.6 198.4h0M841.6 198.3h0" stroke="#800000"/><path d="M843.5 197.5h0M845.4 196.0h0M847.3 195.5h0" stroke="#990000"/><path d="M849.2 194.3h0M840.6 200.3h0" stroke="#800000"/><path d="M842.0 199.6h0M844.1 198.7h0M846.2 197.8h0M847.9 197.3h0M850.4 196.5h0M841.2 202.7h0" stroke="#990000"/><path d="M843.6 201.2h0" stroke="#800000"/><path d="M844.8 200.4h0" stroke="#990000"/><path d="M847.3 200.0h0M849.1 199.4h0" stroke="#800000"/><path d="M842.1 204.4h0" stroke="#990000"/><path d="M843.8 203.3h0M846.0 202.4h0M847.5 201.5h0M849.7 200.9h0M843.0 206.4h0" stroke="#800000"/><path d="M844.9 205.6h0M846.8 204.1h0M848.4 203.2h0" stroke="#990000"/><path d="M850.6 202.6h0" stroke="#b30000"/><path d="M843.8 207.8h0M845.4 207.4h0" stroke="#990000"/><path d="M847.6 205.8h0" stroke="#800000"/><path d="M849.4 205.5h0M845.0 209.6h0" stroke="#990000"/><path d="M846.6 209.0h0M848.6 208.4h0M850.6 207.4h0" stroke="#800000"/><path d="M845.6 211.7h0" stroke="#990000"/><path d="M847.4 210.6h0M849.0 209.6h0" stroke="#800000"/><path d="M846.0 213.2h0M848.1 212.5h0" stroke="#990000"/><path d="M849.9 211.7h0" stroke="#800000"/><path d="M847.5 215.3h0M848.9 214.5h0M848.2 216.8h0" stroke="#990000"/><path d="M849.7 216.5h0" stroke="#800000"/></g>
<use href="#us" transform="translate(617.2,96.6) scale(1.00000,0.99953)"/>
<text class="t" x="566.9" y="112.3" textLength="17.4">48</text><text class="d" x="586.2" y="104.9">°</text><text class="t" x="595.8" y="112.3" textLength="10.6" lengthAdjust="spacingAndGlyphs">N</text>
<text class="t" x="566.9" y="130.1" textLength="17.4">46</text><text class="d" x="586.2" y="122.7">°</text><text class="t" x="595.8" y="130.1" textLength="10.6" lengthAdjust="spacingAndGlyphs">N</text>
<text class="t" x="566.9" y="147.3" textLength="17.4">44</text><text class="d" x="586.2" y="139.9">°</text><text class="t" x="595.8" y="147.3" textLength="10.6" lengthAdjust="spacingAndGlyphs">N</text>
<text class="t" x="566.9" y="166.1" textLength="17.4">42</text><text class="d" x="586.2" y="158.7">°</text><text class="t" x="595.8" y="166.1" textLength="10.6" lengthAdjust="spacingAndGlyphs">N</text>
<text class="t" x="566.9" y="182.4" textLength="17.4">40</text><text class="d" x="586.2" y="175.0">°</text><text class="t" x="595.8" y="182.4" textLength="10.6" lengthAdjust="spacingAndGlyphs">N</text>
<text class="t" x="566.9" y="197.1" textLength="17.4">38</text><text class="d" x="586.2" y="189.7">°</text><text class="t" x="595.8" y="197.1" textLength="10.6" lengthAdjust="spacingAndGlyphs">N</text>
<text class="t" x="566.9" y="214.0" textLength="17.4">36</text><text class="d" x="586.2" y="206.6">°</text><text class="t" x="595.8" y="214.0" textLength="10.6" lengthAdjust="spacingAndGlyphs">N</text>
<text class="t" x="566.9" y="227.9" textLength="17.4">34</text><text class="d" x="586.2" y="220.5">°</text><text class="t" x="595.8" y="227.9" textLength="10.6" lengthAdjust="spacingAndGlyphs">N</text>
<text class="t" x="566.9" y="244.9" textLength="17.4">32</text><text class="d" x="586.2" y="237.5">°</text><text class="t" x="595.8" y="244.9" textLength="10.6" lengthAdjust="spacingAndGlyphs">N</text>
<text class="t" x="566.9" y="258.9" textLength="17.4">30</text><text class="d" x="586.2" y="251.5">°</text><text class="t" x="595.8" y="258.9" textLength="10.6" lengthAdjust="spacingAndGlyphs">N</text>
<text class="t" x="566.9" y="272.1" textLength="17.4">28</text><text class="d" x="586.2" y="264.7">°</text><text class="t" x="595.8" y="272.1" textLength="10.6" lengthAdjust="spacingAndGlyphs">N</text>
<text class="t" x="566.9" y="287.0" textLength="17.4">26</text><text class="d" x="586.2" y="279.6">°</text><text class="t" x="595.8" y="287.0" textLength="10.6" lengthAdjust="spacingAndGlyphs">N</text>
<text class="t" x="566.9" y="301.1" textLength="17.4">24</text><text class="d" x="586.2" y="293.7">°</text><text class="t" x="595.8" y="301.1" textLength="10.6" lengthAdjust="spacingAndGlyphs">N</text>
<text class="t" x="566.9" y="313.9" textLength="17.4">22</text><text class="d" x="586.2" y="306.5">°</text><text class="t" x="595.8" y="313.9" textLength="10.6" lengthAdjust="spacingAndGlyphs">N</text>
<text class="t" x="636.0" y="76.8">100</text><text class="d" x="663.5" y="70.3">°</text><text class="t" x="673.6" y="76.8">W</text>
<text class="t" x="704.9" y="76.8">90</text><text class="d" x="723.3" y="70.3">°</text><text class="t" x="734.9" y="76.8">W</text>
<text class="t" x="768.7" y="76.8">80</text><text class="d" x="788.4" y="70.3">°</text><text class="t" x="798.8" y="76.8">W</text>
<text class="t" x="832.0" y="76.8">70</text><text class="d" x="850.2" y="70.3">°</text><text class="t" x="861.8" y="76.8">W</text>
<rect x="862.6" y="93.5" width="22.8" height="218.7" fill="url(#jet)" stroke="#262626" stroke-width="1"/>
<path d="M882.9 142.5H885.9" stroke="#262626" stroke-width="1"/>
<text class="c" x="894.2" y="150.0">2</text>
<path d="M882.9 227.3H885.9" stroke="#262626" stroke-width="1"/>
<text class="c" x="894.2" y="234.8">1</text>
<text class="c" x="894.2" y="319.5">0</text>
<text class="x" x="544.8" y="340.7" textLength="366.4">SAT+RAP 700 hPa MR (g/kg)</text>
</g>
<g id="p3">
<rect x="1038.5" y="96.5" width="234.0" height="214.0" fill="none" stroke="#262626" stroke-width="1"/>
<g fill="none" stroke-width="8.0" stroke-linecap="round"><path d="M1215.6 95.8h0" stroke="#004dff"/><path d="M1216.1 98.0h0M1217.9 96.8h0" stroke="#0066ff"/><path d="M1219.8 96.0h0M1216.9 99.5h0" stroke="#004dff"/><path d="M1219.4 99.2h0" stroke="#0033ff"/><path d="M1221.0 98.3h0M1222.8 96.9h0" stroke="#0066ff"/><path d="M1225.0 96.5h0M1218.3 101.7h0M1220.0 101.1h0M1221.5 99.5h0M1223.8 99.1h0M1225.4 98.2h0" stroke="#004dff"/><path d="M1227.8 97.6h0" stroke="#0033ff"/><path d="M1229.7 96.2h0" stroke="#004dff"/><path d="M1218.7 103.1h0" stroke="#0080ff"/><path d="M1220.9 102.3h0" stroke="#004dff"/><path d="M1222.3 101.4h0" stroke="#0033ff"/><path d="M1224.1 100.8h0" stroke="#0066ff"/><path d="M1226.6 99.6h0M1228.5 99.0h0" stroke="#0033ff"/><path d="M1230.8 98.2h0" stroke="#001aff"/><path d="M1233.0 97.4h0" stroke="#0033ff"/><path d="M1235.1 96.2h0" stroke="#0066ff"/><path d="M1219.6 105.3h0M1221.1 104.6h0" stroke="#004dff"/><path d="M1223.0 103.8h0M1225.2 102.8h0M1227.2 102.1h0" stroke="#0033ff"/><path d="M1229.7 101.2h0M1231.3 99.8h0M1233.8 99.2h0" stroke="#001aff"/><path d="M1236.0 98.2h0" stroke="#0066ff"/><path d="M1237.7 97.2h0" stroke="#00ccff"/><path d="M1239.8 96.3h0" stroke="#00ffff"/><path d="M1220.5 106.8h0M1222.7 106.4h0M1223.9 105.6h0" stroke="#004dff"/><path d="M1226.2 104.4h0" stroke="#0066ff"/><path d="M1228.5 103.3h0" stroke="#004dff"/><path d="M1229.9 102.4h0M1232.5 101.7h0M1234.5 100.9h0" stroke="#001aff"/><path d="M1236.1 99.8h0" stroke="#0066ff"/><path d="M1238.8 98.7h0" stroke="#00e5ff"/><path d="M1240.8 98.2h0" stroke="#33ffcc"/><path d="M1243.2 96.9h0" stroke="#4dffb2"/><path d="M1221.6 109.1h0" stroke="#0033ff"/><path d="M1223.1 108.4h0" stroke="#004dff"/><path d="M1225.0 106.9h0" stroke="#0066ff"/><path d="M1227.1 106.0h0" stroke="#00ccff"/><path d="M1229.3 105.5h0" stroke="#00e5ff"/><path d="M1231.0 104.4h0" stroke="#0066ff"/><path d="M1232.8 103.9h0" stroke="#004dff"/><path d="M1234.8 102.9h0" stroke="#0033ff"/><path d="M1237.6 101.3h0" stroke="#00b2ff"/><path d="M1239.7 100.9h0" stroke="#00e5ff"/><path d="M1241.6 100.0h0" stroke="#1affe5"/><path d="M1244.3 98.3h0" stroke="#80ff80"/><path d="M1246.2 97.6h0" stroke="#66ff99"/><path d="M1249.2 96.5h0" stroke="#00ffff"/><path d="M1222.4 110.5h0" stroke="#004dff"/><path d="M1224.3 110.0h0M1226.2 109.2h0" stroke="#0033ff"/><path d="M1228.1 108.1h0" stroke="#004dff"/><path d="M1229.4 107.6h0M1232.0 106.2h0" stroke="#0080ff"/><path d="M1233.8 105.7h0" stroke="#0066ff"/><path d="M1235.7 104.6h0" stroke="#004dff"/><path d="M1238.1 103.4h0" stroke="#00ccff"/><path d="M1240.3 102.5h0" stroke="#00ffff"/><path d="M1242.4 101.4h0" stroke="#1affe5"/><path d="M1245.0 100.2h0" stroke="#66ff99"/><path d="M1247.6 99.3h0" stroke="#4dffb2"/><path d="M1249.4 98.4h0" stroke="#00e5ff"/><path d="M1252.6 97.1h0M1254.4 95.8h0" stroke="#0000ff"/><path d="M1222.7 112.3h0M1225.2 111.8h0" stroke="#0033ff"/><path d="M1226.6 111.2h0M1228.9 110.1h0" stroke="#001aff"/><path d="M1230.5 109.2h0" stroke="#0033ff"/><path d="M1232.4 108.6h0" stroke="#0066ff"/><path d="M1234.3 106.9h0" stroke="#004dff"/><path d="M1236.8 106.0h0" stroke="#0066ff"/><path d="M1239.2 105.5h0" stroke="#00ccff"/><path d="M1241.5 104.5h0" stroke="#00e5ff"/><path d="M1243.6 102.9h0M1246.1 102.2h0" stroke="#66ff99"/><path d="M1248.2 100.8h0" stroke="#1affe5"/><path d="M1250.6 100.4h0" stroke="#00ffff"/><path d="M1252.6 98.8h0" stroke="#0033ff"/><path d="M1255.3 98.2h0" stroke="#001aff"/><path d="M1258.0 97.0h0M1224.2 114.3h0" stroke="#0033ff"/><path d="M1225.8 113.2h0" stroke="#004dff"/><path d="M1227.2 112.9h0M1229.2 111.5h0" stroke="#001aff"/><path d="M1231.8 111.3h0" stroke="#004dff"/><path d="M1233.8 110.1h0" stroke="#0033ff"/><path d="M1235.6 109.2h0" stroke="#004dff"/><path d="M1237.5 108.5h0" stroke="#0080ff"/><path d="M1239.5 106.9h0" stroke="#00e5ff"/><path d="M1242.0 106.4h0" stroke="#1affe5"/><path d="M1244.3 105.2h0M1246.5 104.2h0" stroke="#66ff99"/><path d="M1248.9 102.9h0" stroke="#1affe5"/><path d="M1251.6 101.8h0" stroke="#00e5ff"/><path d="M1253.5 100.8h0M1256.3 99.6h0" stroke="#0000ff"/><path d="M1259.2 98.8h0" stroke="#004dff"/><path d="M1261.7 97.3h0" stroke="#00ffff"/><path d="M1264.2 95.8h0" stroke="#00e5ff"/><path d="M1224.3 116.1h0M1226.4 115.2h0" stroke="#004dff"/><path d="M1228.3 114.9h0" stroke="#0033ff"/><path d="M1230.1 113.5h0" stroke="#004dff"/><path d="M1232.5 112.9h0" stroke="#0033ff"/><path d="M1233.9 111.6h0" stroke="#004dff"/><path d="M1236.6 111.1h0" stroke="#0066ff"/><path d="M1238.0 110.0h0" stroke="#00b2ff"/><path d="M1240.4 108.7h0" stroke="#00e5ff"/><path d="M1242.8 107.8h0" stroke="#1affe5"/><path d="M1245.2 107.0h0" stroke="#66ff99"/><path d="M1247.7 105.6h0" stroke="#4dffb2"/><path d="M1249.5 104.8h0" stroke="#00ffff"/><path d="M1252.3 104.2h0" stroke="#00ccff"/><path d="M1254.5 102.5h0M1257.1 101.7h0" stroke="#0000ff"/><path d="M1259.8 100.1h0" stroke="#0080ff"/><path d="M1262.9 99.5h0" stroke="#00ffff"/><path d="M1264.9 97.9h0" stroke="#00e5ff"/><path d="M1268.2 96.7h0" stroke="#00ffff"/><path d="M1225.7 117.9h0" stroke="#0066ff"/><path d="M1227.2 116.9h0M1229.1 116.1h0M1231.1 115.9h0" stroke="#0033ff"/><path d="M1232.7 114.8h0M1234.9 113.4h0M1237.2 113.0h0" stroke="#004dff"/><path d="M1239.1 112.0h0" stroke="#00ccff"/><path d="M1241.2 111.3h0" stroke="#00e5ff"/><path d="M1243.3 110.1h0" stroke="#33ffcc"/><path d="M1246.2 109.0h0" stroke="#80ff80"/><path d="M1248.4 107.5h0" stroke="#4dffb2"/><path d="M1250.5 106.9h0" stroke="#00ffff"/><path d="M1252.9 106.0h0" stroke="#00ccff"/><path d="M1255.9 104.4h0" stroke="#001aff"/><path d="M1258.3 103.5h0" stroke="#0000ff"/><path d="M1261.0 102.3h0" stroke="#0099ff"/><path d="M1263.1 101.0h0M1266.1 99.7h0" stroke="#00e5ff"/><path d="M1269.0 98.3h0" stroke="#00ffff"/><path d="M1271.6 97.2h0" stroke="#00e5ff"/><path d="M1226.4 119.6h0M1228.1 118.9h0" stroke="#004dff"/><path d="M1230.2 118.2h0M1231.7 117.7h0" stroke="#0033ff"/><path d="M1233.7 116.4h0" stroke="#004dff"/><path d="M1236.0 115.8h0" stroke="#0033ff"/><path d="M1237.7 114.6h0" stroke="#0066ff"/><path d="M1239.9 113.5h0" stroke="#00ccff"/><path d="M1242.4 112.5h0" stroke="#1affe5"/><path d="M1244.2 111.9h0" stroke="#4dffb2"/><path d="M1246.8 110.8h0" stroke="#66ff99"/><path d="M1248.8 109.3h0" stroke="#33ffcc"/><path d="M1251.8 108.6h0" stroke="#00e5ff"/><path d="M1254.0 107.9h0" stroke="#0099ff"/><path d="M1256.2 106.1h0M1259.1 105.4h0" stroke="#0000ff"/><path d="M1261.3 104.0h0" stroke="#0066ff"/><path d="M1264.3 103.2h0" stroke="#00ffff"/><path d="M1266.9 101.6h0" stroke="#00e5ff"/><path d="M1269.6 100.7h0" stroke="#00ffff"/><path d="M1226.9 122.0h0" stroke="#004dff"/><path d="M1229.2 120.7h0" stroke="#0066ff"/><path d="M1230.7 119.8h0" stroke="#0033ff"/><path d="M1232.9 119.1h0M1234.6 118.2h0" stroke="#0066ff"/><path d="M1236.8 117.2h0" stroke="#004dff"/><path d="M1238.7 116.1h0" stroke="#0099ff"/><path d="M1240.8 115.7h0" stroke="#00e5ff"/><path d="M1243.1 114.3h0" stroke="#33ffcc"/><path d="M1244.9 113.7h0" stroke="#4dffb2"/><path d="M1247.3 112.8h0" stroke="#66ff99"/><path d="M1250.2 111.3h0" stroke="#00ffff"/><path d="M1252.1 110.0h0" stroke="#00e5ff"/><path d="M1254.5 109.4h0" stroke="#0080ff"/><path d="M1256.8 108.0h0M1259.5 107.0h0" stroke="#0000ff"/><path d="M1262.0 106.3h0" stroke="#0080ff"/><path d="M1264.8 105.0h0" stroke="#00ffff"/><path d="M1267.6 103.1h0" stroke="#1affe5"/><path d="M1270.8 102.4h0" stroke="#00ffff"/><path d="M1227.9 123.9h0" stroke="#0066ff"/><path d="M1229.4 122.6h0" stroke="#004dff"/><path d="M1231.8 122.1h0" stroke="#0066ff"/><path d="M1233.6 120.9h0M1235.3 120.3h0" stroke="#004dff"/><path d="M1237.5 119.6h0" stroke="#0066ff"/><path d="M1239.3 117.9h0" stroke="#00b2ff"/><path d="M1241.4 117.0h0" stroke="#00e5ff"/><path d="M1243.9 116.2h0" stroke="#33ffcc"/><path d="M1246.2 115.4h0" stroke="#80ff80"/><path d="M1248.3 114.4h0" stroke="#4dffb2"/><path d="M1250.5 113.6h0M1252.9 112.1h0" stroke="#00ffff"/><path d="M1255.6 111.2h0" stroke="#004dff"/><path d="M1258.3 109.9h0M1260.2 109.0h0" stroke="#0000ff"/><path d="M1263.0 108.0h0" stroke="#0080ff"/><path d="M1265.7 106.5h0M1268.5 105.0h0M1271.5 104.2h0" stroke="#00ffff"/><path d="M1228.5 125.6h0" stroke="#004dff"/><path d="M1230.5 124.8h0" stroke="#0033ff"/><path d="M1232.0 123.5h0" stroke="#0066ff"/><path d="M1234.7 123.0h0" stroke="#004dff"/><path d="M1236.3 121.7h0" stroke="#0033ff"/><path d="M1238.1 121.2h0" stroke="#004dff"/><path d="M1240.5 119.8h0" stroke="#00ccff"/><path d="M1242.6 118.9h0" stroke="#00ffff"/><path d="M1244.7 117.9h0" stroke="#4dffb2"/><path d="M1246.9 117.3h0" stroke="#80ff80"/><path d="M1249.3 116.2h0" stroke="#33ffcc"/><path d="M1251.6 115.4h0M1253.8 114.4h0" stroke="#00e5ff"/><path d="M1256.3 113.2h0" stroke="#0033ff"/><path d="M1259.2 112.1h0" stroke="#001aff"/><path d="M1261.5 110.4h0" stroke="#0000ff"/><path d="M1264.3 109.9h0" stroke="#00b2ff"/><path d="M1266.8 108.2h0M1269.6 107.1h0" stroke="#00ffff"/><path d="M1271.8 106.2h0" stroke="#00e5ff"/><path d="M1229.7 127.2h0" stroke="#00b2ff"/><path d="M1231.7 126.1h0M1232.9 125.4h0M1234.8 124.3h0M1236.9 123.6h0" stroke="#004dff"/><path d="M1239.0 123.2h0" stroke="#0080ff"/><path d="M1241.6 121.9h0" stroke="#00e5ff"/><path d="M1243.6 120.8h0" stroke="#33ffcc"/><path d="M1245.7 119.8h0M1247.4 119.4h0" stroke="#66ff99"/><path d="M1250.3 117.7h0" stroke="#1affe5"/><path d="M1252.5 117.0h0" stroke="#00e5ff"/><path d="M1254.4 116.3h0" stroke="#00ccff"/><path d="M1256.9 115.0h0" stroke="#0033ff"/><path d="M1259.8 113.6h0" stroke="#0000ff"/><path d="M1261.9 112.3h0" stroke="#001aff"/><path d="M1264.8 111.4h0" stroke="#00b2ff"/><path d="M1267.1 110.4h0" stroke="#00ffff"/><path d="M1270.1 108.7h0" stroke="#00e5ff"/><path d="M1230.2 129.2h0" stroke="#b3ff4c"/><path d="M1232.2 127.9h0" stroke="#004dff"/><path d="M1234.4 127.4h0" stroke="#0033ff"/><path d="M1235.7 126.7h0M1237.8 125.9h0" stroke="#004dff"/><path d="M1240.1 124.7h0" stroke="#00b2ff"/><path d="M1241.9 123.9h0" stroke="#00e5ff"/><path d="M1243.7 123.1h0" stroke="#33ffcc"/><path d="M1246.1 122.1h0M1248.6 120.6h0" stroke="#66ff99"/><path d="M1251.0 119.7h0" stroke="#1affe5"/><path d="M1253.3 119.1h0" stroke="#00ccff"/><path d="M1255.4 117.9h0" stroke="#00e5ff"/><path d="M1257.6 116.6h0" stroke="#001aff"/><path d="M1260.4 115.3h0" stroke="#0000ff"/><path d="M1262.9 114.1h0" stroke="#001aff"/><path d="M1265.3 113.3h0" stroke="#00b2ff"/><path d="M1268.3 112.0h0M1271.0 111.1h0" stroke="#1affe5"/><path d="M1230.9 130.5h0" stroke="#ffb300"/><path d="M1233.2 130.1h0" stroke="#1affe5"/><path d="M1235.1 129.1h0" stroke="#004dff"/><path d="M1237.0 128.1h0" stroke="#0033ff"/><path d="M1238.7 127.4h0" stroke="#004dff"/><path d="M1240.4 126.7h0" stroke="#00b2ff"/><path d="M1242.9 125.8h0" stroke="#00ffff"/><path d="M1244.6 125.0h0" stroke="#4dffb2"/><path d="M1246.9 123.4h0" stroke="#99ff66"/><path d="M1249.1 122.4h0" stroke="#66ff99"/><path d="M1251.5 121.7h0" stroke="#1affe5"/><path d="M1253.8 120.9h0" stroke="#00e5ff"/><path d="M1256.1 119.2h0" stroke="#00ccff"/><path d="M1258.6 118.2h0" stroke="#0000ff"/><path d="M1261.6 117.1h0M1263.4 116.4h0" stroke="#0000e6"/><path d="M1266.3 114.9h0M1268.7 114.2h0" stroke="#00e5ff"/><path d="M1271.8 112.8h0" stroke="#00ffff"/><path d="M1232.3 132.7h0" stroke="#e50000"/><path d="M1234.1 131.8h0" stroke="#ffff00"/><path d="M1235.8 131.1h0" stroke="#00b2ff"/><path d="M1237.4 130.2h0" stroke="#004dff"/><path d="M1239.9 129.0h0" stroke="#0066ff"/><path d="M1242.0 128.0h0" stroke="#00ffff"/><path d="M1243.8 127.6h0" stroke="#1affe5"/><path d="M1245.5 126.4h0" stroke="#66ff99"/><path d="M1248.1 125.7h0" stroke="#b3ff4c"/><path d="M1250.3 124.7h0" stroke="#80ff80"/><path d="M1252.0 123.5h0" stroke="#1affe5"/><path d="M1254.6 122.2h0" stroke="#00ffff"/><path d="M1257.3 121.3h0" stroke="#00ccff"/><path d="M1259.6 120.6h0" stroke="#0000ff"/><path d="M1261.8 119.4h0M1264.2 118.3h0" stroke="#001aff"/><path d="M1267.1 116.6h0" stroke="#00ccff"/><path d="M1269.8 115.4h0" stroke="#00ffff"/><path d="M1232.8 134.4h0" stroke="#b30000"/><path d="M1234.6 133.5h0" stroke="#ff3300"/><path d="M1236.9 132.7h0" stroke="#4dffb2"/><path d="M1238.4 132.2h0" stroke="#0080ff"/><path d="M1240.2 130.8h0" stroke="#0099ff"/><path d="M1242.7 130.0h0" stroke="#00ffff"/><path d="M1244.4 129.5h0" stroke="#33ffcc"/><path d="M1246.6 128.3h0" stroke="#99ff66"/><path d="M1249.1 127.7h0" stroke="#b3ff4c"/><path d="M1250.9 126.0h0" stroke="#80ff80"/><path d="M1253.2 125.7h0" stroke="#1affe5"/><path d="M1255.7 124.0h0" stroke="#00ffff"/><path d="M1258.3 123.0h0" stroke="#0080ff"/><path d="M1260.0 122.1h0" stroke="#001aff"/><path d="M1262.6 121.0h0M1265.2 119.6h0" stroke="#0000ff"/><path d="M1267.7 118.5h0" stroke="#00ccff"/><path d="M1271.0 117.5h0" stroke="#00ffff"/><path d="M1233.4 136.2h0M1235.7 135.2h0" stroke="#cc0000"/><path d="M1237.7 134.6h0" stroke="#ffb300"/><path d="M1238.9 133.5h0" stroke="#00ffff"/><path d="M1241.4 133.0h0" stroke="#00b2ff"/><path d="M1243.2 131.8h0" stroke="#00ffff"/><path d="M1245.3 131.0h0" stroke="#4dffb2"/><path d="M1247.2 130.3h0" stroke="#99ff66"/><path d="M1249.3 129.5h0" stroke="#b3ff4c"/><path d="M1251.5 128.2h0" stroke="#66ff99"/><path d="M1254.1 127.4h0" stroke="#1affe5"/><path d="M1256.7 126.0h0" stroke="#00ffff"/><path d="M1259.2 125.4h0" stroke="#0099ff"/><path d="M1261.0 124.3h0" stroke="#0000ff"/><path d="M1263.8 122.7h0M1266.5 121.8h0" stroke="#001aff"/><path d="M1268.5 120.9h0" stroke="#00ccff"/><path d="M1271.6 119.1h0" stroke="#00ffff"/><path d="M1234.4 138.4h0M1236.0 137.4h0" stroke="#b30000"/><path d="M1238.3 136.7h0" stroke="#cc0000"/><path d="M1240.5 135.6h0" stroke="#ffff00"/><path d="M1242.0 134.7h0" stroke="#1affe5"/><path d="M1244.2 133.8h0" stroke="#00ffff"/><path d="M1246.2 133.0h0" stroke="#80ff80"/><path d="M1248.6 132.3h0" stroke="#e5ff1a"/><path d="M1250.8 131.0h0" stroke="#99ff66"/><path d="M1252.8 130.2h0" stroke="#4dffb2"/><path d="M1255.2 129.3h0" stroke="#1affe5"/><path d="M1257.4 128.0h0" stroke="#00e5ff"/><path d="M1259.4 126.8h0" stroke="#0099ff"/><path d="M1262.3 126.0h0" stroke="#0000e6"/><path d="M1264.3 124.4h0M1266.9 123.3h0" stroke="#0000ff"/><path d="M1269.4 122.6h0" stroke="#00e5ff"/><path d="M1272.2 121.5h0" stroke="#1affe5"/><path d="M1235.1 139.9h0M1237.1 139.1h0M1238.6 138.7h0" stroke="#cc0000"/><path d="M1241.3 137.3h0" stroke="#ff3300"/><path d="M1242.7 136.3h0" stroke="#e5ff1a"/><path d="M1245.0 135.7h0" stroke="#4dffb2"/><path d="M1246.8 134.6h0" stroke="#80ff80"/><path d="M1249.5 134.2h0M1250.9 133.2h0" stroke="#b3ff4c"/><path d="M1253.7 132.1h0" stroke="#4dffb2"/><path d="M1255.8 131.1h0" stroke="#1affe5"/><path d="M1257.9 129.8h0" stroke="#00ffff"/><path d="M1260.2 128.9h0" stroke="#0066ff"/><path d="M1263.0 127.8h0M1265.7 126.8h0" stroke="#0000ff"/><path d="M1268.2 125.3h0" stroke="#001aff"/><path d="M1270.2 124.1h0" stroke="#00e5ff"/><path d="M1236.2 142.0h0" stroke="#e50000"/><path d="M1238.3 141.3h0M1240.0 140.1h0M1241.4 139.5h0" stroke="#cc0000"/><path d="M1243.8 138.8h0" stroke="#ff3300"/><path d="M1245.4 137.3h0M1248.1 137.0h0M1249.8 135.9h0" stroke="#b3ff4c"/><path d="M1252.4 134.5h0" stroke="#66ff99"/><path d="M1253.9 133.7h0" stroke="#4dffb2"/><path d="M1256.5 133.1h0" stroke="#1affe5"/><path d="M1258.8 132.0h0" stroke="#00e5ff"/><path d="M1261.0 130.5h0" stroke="#0033ff"/><path d="M1263.7 129.4h0M1266.0 128.5h0" stroke="#0000ff"/><path d="M1269.1 127.0h0" stroke="#0033ff"/><path d="M1271.0 125.7h0" stroke="#00e5ff"/><path d="M1236.9 144.0h0" stroke="#cc0000"/><path d="M1239.0 143.0h0" stroke="#e50000"/><path d="M1240.7 141.7h0" stroke="#cc0000"/><path d="M1242.7 140.8h0" stroke="#b30000"/><path d="M1244.6 140.2h0" stroke="#e50000"/><path d="M1246.2 139.6h0" stroke="#ff4c00"/><path d="M1248.8 138.6h0" stroke="#ffff00"/><path d="M1251.0 137.9h0" stroke="#b3ff4c"/><path d="M1253.1 136.2h0" stroke="#66ff99"/><path d="M1254.9 135.9h0" stroke="#33ffcc"/><path d="M1257.6 134.9h0M1259.6 133.3h0" stroke="#00ffff"/><path d="M1262.3 132.5h0M1264.8 131.4h0" stroke="#001aff"/><path d="M1267.3 130.3h0" stroke="#0000ff"/><path d="M1269.5 129.1h0" stroke="#001aff"/><path d="M1272.3 128.3h0" stroke="#00e5ff"/><path d="M1237.9 145.6h0" stroke="#cc0000"/><path d="M1239.7 145.1h0" stroke="#b30000"/><path d="M1241.8 143.5h0M1243.6 142.7h0M1245.1 142.1h0" stroke="#cc0000"/><path d="M1247.1 141.4h0" stroke="#e50000"/><path d="M1249.3 140.4h0" stroke="#ff9900"/><path d="M1251.9 139.6h0" stroke="#99ff66"/><path d="M1253.7 138.3h0" stroke="#4dffb2"/><path d="M1255.8 137.7h0" stroke="#33ffcc"/><path d="M1258.4 136.7h0" stroke="#00ffff"/><path d="M1260.1 135.2h0" stroke="#00ccff"/><path d="M1262.6 134.6h0" stroke="#001aff"/><path d="M1265.2 133.2h0M1267.7 131.8h0" stroke="#0000ff"/><path d="M1270.1 130.8h0" stroke="#001aff"/><path d="M1238.3 147.6h0" stroke="#cc0000"/><path d="M1240.4 146.3h0" stroke="#b30000"/><path d="M1242.0 146.1h0" stroke="#cc0000"/><path d="M1244.4 144.6h0" stroke="#b30000"/><path d="M1246.4 143.7h0M1248.4 143.3h0" stroke="#cc0000"/><path d="M1250.6 142.0h0" stroke="#ff4c00"/><path d="M1252.6 141.5h0" stroke="#e5ff1a"/><path d="M1254.7 140.5h0" stroke="#4dffb2"/><path d="M1256.8 139.1h0" stroke="#1affe5"/><path d="M1258.7 138.5h0" stroke="#00ffff"/><path d="M1261.6 137.0h0" stroke="#00ccff"/><path d="M1263.4 136.3h0" stroke="#0000ff"/><path d="M1266.3 134.9h0" stroke="#001aff"/><path d="M1268.8 133.9h0" stroke="#0000ff"/><path d="M1271.4 132.5h0" stroke="#004dff"/><path d="M1239.7 149.0h0M1240.9 148.6h0M1242.8 147.4h0" stroke="#b30000"/><path d="M1245.1 147.0h0" stroke="#cc0000"/><path d="M1246.6 145.7h0M1248.8 145.1h0" stroke="#b30000"/><path d="M1251.1 144.2h0" stroke="#cc0000"/><path d="M1252.9 142.9h0" stroke="#ff8000"/><path d="M1255.5 141.8h0" stroke="#4dffb2"/><path d="M1257.4 140.9h0" stroke="#1affe5"/><path d="M1259.8 140.0h0" stroke="#00e5ff"/><path d="M1262.5 139.4h0" stroke="#00b2ff"/><path d="M1264.8 137.8h0" stroke="#0000ff"/><path d="M1266.8 136.5h0" stroke="#0000e6"/><path d="M1269.2 135.7h0" stroke="#0000ff"/><path d="M1272.4 134.6h0" stroke="#004dff"/><path d="M1240.5 151.0h0" stroke="#b30000"/><path d="M1241.7 150.4h0" stroke="#cc0000"/><path d="M1244.0 149.2h0" stroke="#e50000"/><path d="M1245.8 148.4h0" stroke="#cc0000"/><path d="M1248.1 148.0h0M1250.2 146.7h0M1252.2 145.9h0" stroke="#b30000"/><path d="M1254.3 144.8h0" stroke="#ff1a00"/><path d="M1256.4 144.2h0" stroke="#e5ff1a"/><path d="M1258.3 143.2h0" stroke="#1affe5"/><path d="M1260.6 141.8h0" stroke="#00ffff"/><path d="M1262.7 141.1h0" stroke="#00ccff"/><path d="M1265.7 139.6h0" stroke="#0000ff"/><path d="M1267.7 138.6h0" stroke="#0000e6"/><path d="M1270.6 137.7h0" stroke="#0000ff"/><path d="M1240.9 152.6h0M1242.9 152.0h0" stroke="#b30000"/><path d="M1245.1 151.2h0" stroke="#cc0000"/><path d="M1246.4 150.7h0M1248.7 149.5h0M1250.5 148.6h0M1252.7 148.0h0M1254.5 146.4h0" stroke="#b30000"/><path d="M1256.9 146.0h0" stroke="#ff3300"/><path d="M1259.4 144.7h0" stroke="#33ffcc"/><path d="M1261.5 143.8h0" stroke="#00e5ff"/><path d="M1263.9 142.8h0" stroke="#0080ff"/><path d="M1266.1 142.0h0M1268.3 140.6h0" stroke="#0000ff"/><path d="M1271.2 139.2h0" stroke="#001aff"/><path d="M1241.5 154.9h0" stroke="#b30000"/><path d="M1243.8 153.7h0" stroke="#cc0000"/><path d="M1245.3 152.8h0M1247.7 152.2h0M1249.7 151.4h0M1251.6 150.3h0M1253.9 149.6h0" stroke="#b30000"/><path d="M1255.7 148.7h0" stroke="#990000"/><path d="M1257.6 147.9h0" stroke="#b30000"/><path d="M1259.6 146.5h0" stroke="#ffcc00"/><path d="M1262.5 145.4h0" stroke="#00ccff"/><path d="M1264.4 144.7h0" stroke="#0080ff"/><path d="M1266.9 143.7h0M1269.5 142.6h0" stroke="#001aff"/><path d="M1272.3 140.8h0" stroke="#0000ff"/><path d="M1243.0 156.2h0" stroke="#cc0000"/><path d="M1244.7 155.6h0" stroke="#b30000"/><path d="M1246.1 155.1h0" stroke="#cc0000"/><path d="M1248.3 153.7h0M1250.5 152.9h0" stroke="#b30000"/><path d="M1252.1 152.4h0" stroke="#990000"/><path d="M1254.6 151.4h0" stroke="#b30000"/><path d="M1256.6 150.1h0" stroke="#990000"/><path d="M1258.6 149.5h0" stroke="#b30000"/><path d="M1260.7 148.3h0" stroke="#ff4c00"/><path d="M1262.8 147.3h0" stroke="#66ff99"/><path d="M1265.2 146.5h0" stroke="#0066ff"/><path d="M1267.5 145.5h0M1270.0 144.2h0" stroke="#0000ff"/><path d="M1243.3 158.7h0M1245.5 157.7h0" stroke="#b30000"/><path d="M1247.2 156.5h0" stroke="#990000"/><path d="M1248.7 155.7h0M1250.9 154.8h0" stroke="#b30000"/><path d="M1252.7 154.4h0M1255.0 152.8h0M1257.0 151.9h0M1259.3 150.9h0" stroke="#990000"/><path d="M1261.7 150.2h0" stroke="#b30000"/><path d="M1263.8 149.3h0" stroke="#ffcc00"/><path d="M1266.1 148.5h0" stroke="#0080ff"/><path d="M1268.9 147.2h0M1270.8 146.3h0" stroke="#0000ff"/><path d="M1244.4 159.9h0" stroke="#990000"/><path d="M1245.8 159.6h0" stroke="#b30000"/><path d="M1247.8 158.6h0" stroke="#990000"/><path d="M1249.9 157.8h0M1251.7 156.9h0" stroke="#b30000"/><path d="M1253.7 156.1h0" stroke="#800000"/><path d="M1255.6 154.8h0M1258.1 153.8h0" stroke="#990000"/><path d="M1260.5 152.8h0M1262.2 151.9h0" stroke="#b30000"/><path d="M1265.0 151.0h0" stroke="#ff3300"/><path d="M1267.0 150.4h0" stroke="#4dffb2"/><path d="M1269.3 149.3h0M1271.9 148.2h0" stroke="#0000ff"/><path d="M1244.8 162.4h0" stroke="#b30000"/><path d="M1247.0 160.9h0" stroke="#cc0000"/><path d="M1249.2 160.1h0" stroke="#990000"/><path d="M1250.6 159.7h0" stroke="#b30000"/><path d="M1252.7 158.9h0" stroke="#800000"/><path d="M1254.7 158.0h0M1256.8 157.1h0" stroke="#990000"/><path d="M1258.5 155.9h0" stroke="#800000"/><path d="M1260.7 155.2h0" stroke="#990000"/><path d="M1263.7 154.3h0" stroke="#b30000"/><path d="M1265.9 152.6h0" stroke="#cc0000"/><path d="M1268.0 151.5h0" stroke="#80ff80"/><path d="M1270.6 150.7h0" stroke="#001aff"/><path d="M1245.8 163.5h0" stroke="#cc0000"/><path d="M1248.1 162.9h0M1250.1 162.4h0M1251.4 161.1h0M1253.6 160.2h0" stroke="#990000"/><path d="M1255.5 160.0h0" stroke="#800000"/><path d="M1257.3 159.1h0M1259.4 158.1h0" stroke="#990000"/><path d="M1261.5 156.9h0" stroke="#b30000"/><path d="M1264.1 155.8h0" stroke="#990000"/><path d="M1266.6 154.4h0" stroke="#b30000"/><path d="M1269.0 153.6h0" stroke="#ff4c00"/><path d="M1271.1 152.8h0" stroke="#33ffcc"/><path d="M1246.8 166.1h0" stroke="#cc0000"/><path d="M1249.0 164.7h0M1250.1 163.9h0" stroke="#b30000"/><path d="M1252.3 162.8h0" stroke="#990000"/><path d="M1254.7 162.3h0" stroke="#800000"/><path d="M1256.6 161.6h0M1258.3 160.7h0" stroke="#990000"/><path d="M1260.6 159.8h0" stroke="#800000"/><path d="M1262.5 158.5h0" stroke="#990000"/><path d="M1265.3 157.3h0M1267.0 156.3h0" stroke="#b30000"/><path d="M1269.6 155.8h0" stroke="#cc0000"/><path d="M1271.9 154.5h0" stroke="#ffcc00"/><path d="M1247.7 167.7h0M1249.4 167.0h0M1251.2 165.9h0M1253.2 165.1h0" stroke="#b30000"/><path d="M1255.1 164.1h0" stroke="#990000"/><path d="M1257.6 162.9h0" stroke="#800000"/><path d="M1259.2 162.3h0M1261.5 161.3h0M1263.8 160.8h0" stroke="#990000"/><path d="M1265.6 159.4h0M1268.3 158.7h0" stroke="#b30000"/><path d="M1270.1 157.2h0M1248.4 169.3h0" stroke="#cc0000"/><path d="M1250.0 168.8h0" stroke="#990000"/><path d="M1251.8 167.8h0M1254.4 167.1h0" stroke="#b30000"/><path d="M1255.7 166.2h0M1257.7 165.4h0" stroke="#990000"/><path d="M1260.4 164.5h0M1262.3 162.9h0M1264.2 162.6h0M1266.8 161.0h0M1268.9 160.1h0M1271.1 159.5h0M1249.1 171.6h0M1251.4 170.3h0M1252.9 169.7h0" stroke="#b30000"/><path d="M1255.0 168.6h0M1256.9 167.6h0M1258.7 167.0h0" stroke="#990000"/><path d="M1260.7 166.1h0" stroke="#b30000"/><path d="M1262.8 165.3h0" stroke="#990000"/><path d="M1265.1 164.4h0M1267.1 162.9h0M1269.5 162.0h0" stroke="#b30000"/><path d="M1272.2 161.0h0" stroke="#cc0000"/><path d="M1250.3 173.4h0" stroke="#e50000"/><path d="M1251.8 172.6h0" stroke="#b30000"/><path d="M1253.8 171.6h0M1255.6 170.4h0M1257.5 169.8h0" stroke="#990000"/><path d="M1259.6 168.8h0" stroke="#b30000"/><path d="M1261.6 168.0h0" stroke="#990000"/><path d="M1263.9 166.5h0M1265.7 165.7h0" stroke="#b30000"/><path d="M1268.0 165.2h0M1270.3 163.8h0" stroke="#cc0000"/><path d="M1250.7 174.8h0" stroke="#ff9900"/><path d="M1252.9 174.4h0" stroke="#ff4c00"/><path d="M1254.7 173.0h0M1256.3 172.4h0M1258.7 171.6h0M1260.9 170.8h0M1262.4 169.3h0M1264.9 168.4h0M1267.0 167.7h0" stroke="#b30000"/><path d="M1268.7 166.5h0M1271.6 166.1h0" stroke="#cc0000"/><path d="M1251.5 176.6h0" stroke="#66ff99"/><path d="M1253.2 176.3h0" stroke="#ccff33"/><path d="M1255.3 174.8h0" stroke="#ff3300"/><path d="M1257.3 174.6h0" stroke="#e50000"/><path d="M1259.4 173.5h0M1261.3 172.2h0M1263.1 171.3h0" stroke="#b30000"/><path d="M1265.5 170.6h0M1268.0 169.6h0" stroke="#cc0000"/><path d="M1269.5 168.9h0" stroke="#b30000"/><path d="M1271.8 167.7h0" stroke="#cc0000"/><path d="M1252.7 178.3h0" stroke="#66ff99"/><path d="M1254.5 177.5h0" stroke="#80ff80"/><path d="M1256.4 177.2h0" stroke="#99ff66"/><path d="M1258.3 175.9h0" stroke="#ff8000"/><path d="M1259.8 174.9h0" stroke="#e50000"/><path d="M1262.0 174.3h0M1264.2 173.3h0" stroke="#b30000"/><path d="M1266.2 172.8h0" stroke="#cc0000"/><path d="M1268.8 171.8h0" stroke="#b30000"/><path d="M1270.9 170.5h0" stroke="#cc0000"/><path d="M1253.0 180.2h0M1255.0 179.5h0" stroke="#99ff66"/><path d="M1257.1 178.4h0M1259.2 178.2h0" stroke="#33ffcc"/><path d="M1260.8 176.7h0" stroke="#ffb300"/><path d="M1262.8 176.0h0" stroke="#ff1a00"/><path d="M1264.7 175.5h0" stroke="#e50000"/><path d="M1267.0 174.1h0M1269.3 173.5h0" stroke="#b30000"/><path d="M1271.7 172.2h0" stroke="#cc0000"/><path d="M1254.5 182.5h0" stroke="#b3ff4c"/><path d="M1255.8 181.8h0" stroke="#ccff33"/><path d="M1258.1 180.4h0" stroke="#4dffb2"/><path d="M1260.2 179.4h0" stroke="#1affe5"/><path d="M1262.0 178.9h0" stroke="#33ffcc"/><path d="M1263.7 178.0h0" stroke="#e5ff1a"/><path d="M1265.5 177.4h0" stroke="#ff8000"/><path d="M1268.1 176.2h0M1270.4 175.3h0M1271.9 173.9h0" stroke="#cc0000"/><path d="M1255.2 183.8h0" stroke="#b3ff4c"/><path d="M1256.5 183.3h0" stroke="#e5ff1a"/><path d="M1259.0 182.6h0" stroke="#4dffb2"/><path d="M1260.4 181.9h0" stroke="#33ffcc"/><path d="M1262.8 180.8h0" stroke="#1affe5"/><path d="M1264.6 180.0h0" stroke="#4dffb2"/><path d="M1266.5 179.2h0" stroke="#99ff66"/><path d="M1268.8 178.2h0" stroke="#ff9900"/><path d="M1271.0 177.3h0" stroke="#e50000"/><path d="M1256.0 185.9h0" stroke="#80ff80"/><path d="M1257.9 184.8h0" stroke="#b3ff4c"/><path d="M1259.8 184.2h0" stroke="#66ff99"/><path d="M1261.8 183.5h0M1263.1 182.6h0M1265.3 181.4h0" stroke="#33ffcc"/><path d="M1267.8 181.0h0" stroke="#66ff99"/><path d="M1269.6 179.7h0" stroke="#b3ff4c"/><path d="M1271.6 179.2h0" stroke="#ffb300"/><path d="M1257.0 188.0h0" stroke="#1affe5"/><path d="M1258.2 186.8h0M1260.0 186.0h0" stroke="#66ff99"/><path d="M1262.6 185.0h0" stroke="#1affe5"/><path d="M1264.0 184.0h0" stroke="#33ffcc"/><path d="M1266.3 183.3h0" stroke="#4dffb2"/><path d="M1268.4 182.6h0" stroke="#66ff99"/><path d="M1270.6 181.7h0" stroke="#80ff80"/><path d="M1257.6 189.6h0" stroke="#00ccff"/><path d="M1258.9 188.8h0" stroke="#00ffff"/><path d="M1261.2 187.7h0" stroke="#33ffcc"/><path d="M1263.4 187.3h0" stroke="#00ffff"/><path d="M1265.0 185.9h0" stroke="#1affe5"/><path d="M1267.4 185.0h0" stroke="#66ff99"/><path d="M1268.7 184.3h0" stroke="#4dffb2"/><path d="M1270.9 183.7h0" stroke="#99ff66"/><path d="M1258.1 191.8h0" stroke="#00b2ff"/><path d="M1259.8 191.0h0" stroke="#00ccff"/><path d="M1262.0 190.0h0" stroke="#00e5ff"/><path d="M1264.1 189.3h0M1266.2 187.7h0" stroke="#00ffff"/><path d="M1267.9 187.5h0" stroke="#66ff99"/><path d="M1269.7 185.8h0" stroke="#80ff80"/><path d="M1272.1 185.1h0" stroke="#b3ff4c"/><path d="M1259.1 193.6h0" stroke="#00ccff"/><path d="M1260.7 192.7h0" stroke="#00b2ff"/><path d="M1262.4 191.5h0M1264.6 190.8h0" stroke="#00ccff"/><path d="M1266.5 190.0h0" stroke="#00e5ff"/><path d="M1269.0 188.6h0" stroke="#4dffb2"/><path d="M1270.9 187.9h0" stroke="#80ff80"/><path d="M1260.3 195.4h0" stroke="#00b2ff"/><path d="M1261.7 194.5h0" stroke="#00ccff"/><path d="M1263.6 193.3h0M1265.6 193.0h0" stroke="#00b2ff"/><path d="M1267.8 191.6h0" stroke="#0080ff"/><path d="M1269.6 191.1h0" stroke="#00b2ff"/><path d="M1271.2 189.9h0" stroke="#66ff99"/><path d="M1260.8 196.7h0M1262.3 196.1h0M1264.5 195.2h0M1266.5 194.1h0" stroke="#00b2ff"/><path d="M1268.1 193.8h0" stroke="#0080ff"/><path d="M1270.1 192.2h0" stroke="#0066ff"/><path d="M1272.6 191.8h0" stroke="#00ccff"/><path d="M1261.5 198.6h0M1263.5 198.4h0M1265.4 196.8h0M1267.0 196.2h0" stroke="#00b2ff"/><path d="M1269.0 195.4h0" stroke="#0066ff"/><path d="M1270.9 194.4h0" stroke="#001aff"/><path d="M1262.6 200.4h0" stroke="#00b2ff"/><path d="M1263.9 199.9h0" stroke="#0099ff"/><path d="M1265.8 199.2h0M1268.1 198.0h0" stroke="#00b2ff"/><path d="M1270.2 197.2h0" stroke="#0066ff"/><path d="M1272.0 196.5h0" stroke="#001aff"/><path d="M1262.9 202.4h0" stroke="#00b2ff"/><path d="M1265.1 202.0h0" stroke="#00ccff"/><path d="M1266.8 200.6h0M1268.9 200.1h0" stroke="#00b2ff"/><path d="M1271.2 199.0h0" stroke="#0066ff"/><path d="M1264.4 204.2h0M1265.6 203.3h0" stroke="#0099ff"/><path d="M1268.1 202.3h0M1269.8 201.9h0" stroke="#00b2ff"/><path d="M1272.0 201.0h0" stroke="#0066ff"/><path d="M1264.5 206.1h0M1266.3 205.3h0M1268.8 204.4h0" stroke="#00b2ff"/><path d="M1270.8 203.5h0" stroke="#0099ff"/><path d="M1272.2 202.9h0" stroke="#0066ff"/><path d="M1265.3 207.8h0" stroke="#33ffcc"/><path d="M1267.5 206.8h0" stroke="#00e5ff"/><path d="M1269.2 206.4h0M1271.5 205.4h0" stroke="#00b2ff"/><path d="M1266.5 209.7h0" stroke="#ffb300"/><path d="M1268.6 209.3h0" stroke="#ffcc00"/><path d="M1270.4 208.3h0" stroke="#80ff80"/><path d="M1272.4 207.4h0" stroke="#00ffff"/><path d="M1267.4 211.5h0" stroke="#e50000"/><path d="M1269.2 210.4h0" stroke="#ff1a00"/><path d="M1270.9 209.9h0" stroke="#ff6600"/><path d="M1268.4 213.7h0M1269.6 212.6h0M1272.1 212.0h0" stroke="#b30000"/><path d="M1269.2 215.0h0M1271.0 214.7h0M1269.8 216.9h0M1271.4 215.9h0" stroke="#cc0000"/></g>
<use href="#us" transform="translate(1038.1,96.0) scale(1.00386,1.00564)"/>
<text class="t" x="987.8" y="112.4" textLength="17.4">48</text><text class="d" x="1007.1" y="105.0">°</text><text class="t" x="1016.7" y="112.4" textLength="10.6" lengthAdjust="spacingAndGlyphs">N</text>
<text class="t" x="987.8" y="130.3" textLength="17.4">46</text><text class="d" x="1007.1" y="122.9">°</text><text class="t" x="1016.7" y="130.3" textLength="10.6" lengthAdjust="spacingAndGlyphs">N</text>
<text class="t" x="987.8" y="147.6" textLength="17.4">44</text><text class="d" x="1007.1" y="140.2">°</text><text class="t" x="1016.7" y="147.6" textLength="10.6" lengthAdjust="spacingAndGlyphs">N</text>
<text class="t" x="987.8" y="166.5" textLength="17.4">42</text><text class="d" x="1007.1" y="159.1">°</text><text class="t" x="1016.7" y="166.5" textLength="10.6" lengthAdjust="spacingAndGlyphs">N</text>
<text class="t" x="987.8" y="182.9" textLength="17.4">40</text><text class="d" x="1007.1" y="175.5">°</text><text class="t" x="1016.7" y="182.9" textLength="10.6" lengthAdjust="spacingAndGlyphs">N</text>
<text class="t" x="987.8" y="197.7" textLength="17.4">38</text><text class="d" x="1007.1" y="190.3">°</text><text class="t" x="1016.7" y="197.7" textLength="10.6" lengthAdjust="spacingAndGlyphs">N</text>
<text class="t" x="987.8" y="214.8" textLength="17.4">36</text><text class="d" x="1007.1" y="207.4">°</text><text class="t" x="1016.7" y="214.8" textLength="10.6" lengthAdjust="spacingAndGlyphs">N</text>
<text class="t" x="987.8" y="228.7" textLength="17.4">34</text><text class="d" x="1007.1" y="221.3">°</text><text class="t" x="1016.7" y="228.7" textLength="10.6" lengthAdjust="spacingAndGlyphs">N</text>
<text class="t" x="987.8" y="245.8" textLength="17.4">32</text><text class="d" x="1007.1" y="238.4">°</text><text class="t" x="1016.7" y="245.8" textLength="10.6" lengthAdjust="spacingAndGlyphs">N</text>
<text class="t" x="987.8" y="259.9" textLength="17.4">30</text><text class="d" x="1007.1" y="252.5">°</text><text class="t" x="1016.7" y="259.9" textLength="10.6" lengthAdjust="spacingAndGlyphs">N</text>
<text class="t" x="987.8" y="273.2" textLength="17.4">28</text><text class="d" x="1007.1" y="265.8">°</text><text class="t" x="1016.7" y="273.2" textLength="10.6" lengthAdjust="spacingAndGlyphs">N</text>
<text class="t" x="987.8" y="288.2" textLength="17.4">26</text><text class="d" x="1007.1" y="280.8">°</text><text class="t" x="1016.7" y="288.2" textLength="10.6" lengthAdjust="spacingAndGlyphs">N</text>
<text class="t" x="987.8" y="302.4" textLength="17.4">24</text><text class="d" x="1007.1" y="295.0">°</text><text class="t" x="1016.7" y="302.4" textLength="10.6" lengthAdjust="spacingAndGlyphs">N</text>
<text class="t" x="987.8" y="315.2" textLength="17.4">22</text><text class="d" x="1007.1" y="307.8">°</text><text class="t" x="1016.7" y="315.2" textLength="10.6" lengthAdjust="spacingAndGlyphs">N</text>
<text class="t" x="1058.5" y="74.5">100</text><text class="d" x="1086.0" y="68.0">°</text><text class="t" x="1096.1" y="74.5">W</text>
<text class="t" x="1127.4" y="74.5">90</text><text class="d" x="1145.8" y="68.0">°</text><text class="t" x="1157.4" y="74.5">W</text>
<text class="t" x="1191.2" y="74.5">80</text><text class="d" x="1210.9" y="68.0">°</text><text class="t" x="1221.3" y="74.5">W</text>
<text class="t" x="1254.5" y="74.5">70</text><text class="d" x="1272.7" y="68.0">°</text><text class="t" x="1284.3" y="74.5">W</text>
<rect x="1285.5" y="93.5" width="23.0" height="218.7" fill="url(#jet)" stroke="#262626" stroke-width="1"/>
<path d="M1306.0 139.6H1309.0" stroke="#262626" stroke-width="1"/>
<text class="c" x="1317.3" y="147.1">0.6</text>
<path d="M1306.0 197.2H1309.0" stroke="#262626" stroke-width="1"/>
<text class="c" x="1317.3" y="204.7">0.4</text>
<path d="M1306.0 254.7H1309.0" stroke="#262626" stroke-width="1"/>
<text class="c" x="1317.3" y="262.2">0.2</text>
<text class="c" x="1317.3" y="319.7">0</text>
<text class="x" x="966.1" y="342.8" textLength="366.4">SAT+RAP 500 hPa MR (g/kg)</text>
</g>
<g id="p4">
<rect x="196.5" y="486.5" width="233.0" height="213.0" fill="none" stroke="#262626" stroke-width="1"/>
<g fill="none" stroke-width="8.0" stroke-linecap="round"><path d="M374.3 488.0h0" stroke="#00ccff"/><path d="M376.5 487.4h0" stroke="#00b2ff"/><path d="M375.3 491.2h0M377.9 489.3h0M380.1 488.3h0" stroke="#00e5ff"/><path d="M382.9 486.9h0" stroke="#00ccff"/><path d="M379.3 492.2h0" stroke="#00e5ff"/><path d="M381.7 490.9h0M384.0 490.1h0" stroke="#00ccff"/><path d="M386.6 489.0h0" stroke="#0099ff"/><path d="M389.6 487.6h0" stroke="#00b2ff"/><path d="M379.6 494.5h0" stroke="#00e5ff"/><path d="M382.5 493.3h0" stroke="#00ffff"/><path d="M385.5 492.6h0M387.6 491.6h0" stroke="#00ccff"/><path d="M390.3 490.2h0" stroke="#00b2ff"/><path d="M393.1 488.7h0" stroke="#00e5ff"/><path d="M396.0 488.2h0" stroke="#00ffff"/><path d="M398.2 486.4h0M383.6 496.4h0" stroke="#00ccff"/><path d="M386.5 495.6h0M389.2 494.3h0" stroke="#0099ff"/><path d="M391.6 492.3h0" stroke="#00e5ff"/><path d="M394.0 491.2h0M396.8 490.6h0M399.7 488.7h0M402.1 487.9h0" stroke="#00ccff"/><path d="M404.8 486.6h0" stroke="#00e5ff"/><path d="M384.8 498.9h0" stroke="#00b2ff"/><path d="M387.2 498.2h0M390.5 496.6h0" stroke="#00ccff"/><path d="M393.4 495.4h0" stroke="#00b2ff"/><path d="M395.3 494.6h0M398.2 493.1h0" stroke="#00ccff"/><path d="M400.5 491.7h0M403.7 490.8h0" stroke="#00b2ff"/><path d="M406.1 489.1h0" stroke="#1affe5"/><path d="M409.2 488.7h0" stroke="#66ff99"/><path d="M411.0 487.4h0" stroke="#99ff66"/><path d="M388.5 500.8h0" stroke="#00e5ff"/><path d="M391.8 499.6h0" stroke="#0099ff"/><path d="M393.9 498.2h0" stroke="#00e5ff"/><path d="M397.0 496.6h0M399.7 495.4h0" stroke="#00ccff"/><path d="M401.7 494.3h0M404.7 493.7h0" stroke="#00b2ff"/><path d="M407.6 491.9h0" stroke="#00ffff"/><path d="M409.8 490.6h0" stroke="#66ff99"/><path d="M412.2 489.6h0" stroke="#b3ff4c"/><path d="M414.9 488.3h0" stroke="#99ff66"/><path d="M418.0 487.4h0" stroke="#b3ff4c"/><path d="M390.1 503.2h0M392.3 502.2h0" stroke="#00ccff"/><path d="M395.4 500.6h0" stroke="#00e5ff"/><path d="M398.4 499.4h0" stroke="#00b2ff"/><path d="M401.0 498.9h0" stroke="#00e5ff"/><path d="M403.5 497.2h0" stroke="#00ccff"/><path d="M406.4 496.5h0" stroke="#00b2ff"/><path d="M408.8 494.5h0" stroke="#00ffff"/><path d="M410.9 493.9h0" stroke="#66ff99"/><path d="M413.6 492.6h0" stroke="#99ff66"/><path d="M416.7 491.5h0M419.6 490.6h0" stroke="#b3ff4c"/><path d="M421.9 488.9h0" stroke="#99ff66"/><path d="M424.9 487.6h0M427.0 486.5h0" stroke="#b3ff4c"/><path d="M393.7 504.2h0M396.2 503.3h0" stroke="#00ccff"/><path d="M399.0 502.2h0" stroke="#00b2ff"/><path d="M401.4 500.5h0M404.5 500.3h0" stroke="#00ccff"/><path d="M406.9 498.9h0" stroke="#00e5ff"/><path d="M409.7 497.8h0" stroke="#33ffcc"/><path d="M412.1 496.1h0" stroke="#80ff80"/><path d="M414.9 495.0h0" stroke="#ccff33"/><path d="M417.7 494.4h0M420.5 492.8h0M422.5 492.0h0" stroke="#b3ff4c"/><path d="M425.6 490.4h0" stroke="#e5ff1a"/><path d="M428.1 489.3h0" stroke="#ccff33"/><path d="M394.8 507.6h0" stroke="#00ccff"/><path d="M398.1 505.8h0M400.1 504.8h0" stroke="#00e5ff"/><path d="M402.7 504.0h0M405.2 502.4h0" stroke="#00ccff"/><path d="M408.6 500.9h0" stroke="#00b2ff"/><path d="M411.3 500.0h0" stroke="#4dffb2"/><path d="M414.0 498.9h0" stroke="#99ff66"/><path d="M416.0 497.4h0M418.5 496.9h0M421.6 495.7h0" stroke="#ccff33"/><path d="M424.1 493.8h0" stroke="#e5ff1a"/><path d="M426.6 493.4h0" stroke="#ccff33"/><path d="M429.5 492.2h0" stroke="#b3ff4c"/><path d="M399.3 508.8h0" stroke="#00ffff"/><path d="M401.2 507.2h0" stroke="#00e5ff"/><path d="M403.8 506.3h0" stroke="#00b2ff"/><path d="M406.8 504.8h0M409.7 504.0h0" stroke="#00ccff"/><path d="M412.5 503.2h0" stroke="#66ff99"/><path d="M415.2 501.1h0" stroke="#b3ff4c"/><path d="M417.2 500.6h0" stroke="#e5ff1a"/><path d="M420.4 498.8h0" stroke="#80ff80"/><path d="M423.1 498.0h0" stroke="#ccff33"/><path d="M424.9 496.8h0" stroke="#b3ff4c"/><path d="M427.7 495.4h0" stroke="#ccff33"/><path d="M400.5 510.8h0M403.0 510.1h0" stroke="#00ccff"/><path d="M405.8 508.7h0" stroke="#00e5ff"/><path d="M407.5 507.4h0" stroke="#00ccff"/><path d="M410.2 506.5h0" stroke="#00e5ff"/><path d="M413.5 504.9h0" stroke="#4dffb2"/><path d="M416.0 504.3h0" stroke="#ccff33"/><path d="M418.5 502.9h0" stroke="#e5ff1a"/><path d="M421.6 502.0h0M423.4 500.4h0" stroke="#ccff33"/><path d="M426.7 499.9h0" stroke="#e5ff1a"/><path d="M428.8 498.6h0" stroke="#b3ff4c"/><path d="M404.2 512.8h0" stroke="#00e5ff"/><path d="M406.2 511.3h0" stroke="#00ccff"/><path d="M408.8 510.5h0" stroke="#00b2ff"/><path d="M411.3 508.7h0" stroke="#00ccff"/><path d="M414.9 507.8h0" stroke="#80ff80"/><path d="M416.7 507.2h0M420.2 505.7h0" stroke="#e5ff1a"/><path d="M422.5 504.6h0M425.3 503.3h0" stroke="#ccff33"/><path d="M427.9 501.7h0" stroke="#b3ff4c"/><path d="M404.7 515.2h0" stroke="#00ccff"/><path d="M407.6 514.7h0M410.5 512.8h0" stroke="#00b2ff"/><path d="M412.9 511.8h0" stroke="#00e5ff"/><path d="M415.7 511.2h0" stroke="#66ff99"/><path d="M418.4 509.3h0" stroke="#ccff33"/><path d="M420.9 508.5h0" stroke="#ffff00"/><path d="M423.4 507.2h0" stroke="#e5ff1a"/><path d="M426.6 505.9h0" stroke="#b3ff4c"/><path d="M428.6 504.8h0" stroke="#99ff66"/><path d="M408.9 516.6h0" stroke="#00ccff"/><path d="M411.4 515.5h0" stroke="#00b2ff"/><path d="M414.5 514.9h0" stroke="#1affe5"/><path d="M416.4 513.5h0" stroke="#66ff99"/><path d="M419.0 512.5h0M422.1 511.2h0" stroke="#ccff33"/><path d="M424.4 509.6h0" stroke="#e5ff1a"/><path d="M427.5 508.2h0" stroke="#99ff66"/><path d="M412.5 518.1h0" stroke="#00ccff"/><path d="M415.5 517.6h0" stroke="#00ffff"/><path d="M418.1 516.4h0" stroke="#66ff99"/><path d="M420.5 514.8h0" stroke="#ccff33"/><path d="M423.8 513.6h0" stroke="#e5ff1a"/><path d="M425.7 512.6h0M428.6 511.2h0" stroke="#ccff33"/><path d="M416.2 519.4h0" stroke="#00e5ff"/><path d="M419.4 518.7h0" stroke="#80ff80"/><path d="M421.4 517.4h0" stroke="#99ff66"/><path d="M424.8 516.4h0" stroke="#ccff33"/><path d="M427.6 515.1h0" stroke="#b3ff4c"/><path d="M420.1 521.5h0M423.2 520.4h0" stroke="#99ff66"/><path d="M425.3 518.9h0" stroke="#b3ff4c"/><path d="M428.0 518.1h0" stroke="#99ff66"/><path d="M427.1 521.1h0" stroke="#ccff33"/><path d="M430.0 520.5h0" stroke="#b3ff4c"/></g>
<use href="#us" transform="translate(196.3,486.4) scale(0.99957,1.00047)"/>
<text class="t" x="146.0" y="502.1" textLength="17.4">48</text><text class="d" x="165.3" y="494.7">°</text><text class="t" x="174.9" y="502.1" textLength="10.6" lengthAdjust="spacingAndGlyphs">N</text>
<text class="t" x="146.0" y="519.9" textLength="17.4">46</text><text class="d" x="165.3" y="512.5">°</text><text class="t" x="174.9" y="519.9" textLength="10.6" lengthAdjust="spacingAndGlyphs">N</text>
<text class="t" x="146.0" y="537.1" textLength="17.4">44</text><text class="d" x="165.3" y="529.7">°</text><text class="t" x="174.9" y="537.1" textLength="10.6" lengthAdjust="spacingAndGlyphs">N</text>
<text class="t" x="146.0" y="555.9" textLength="17.4">42</text><text class="d" x="165.3" y="548.5">°</text><text class="t" x="174.9" y="555.9" textLength="10.6" lengthAdjust="spacingAndGlyphs">N</text>
<text class="t" x="146.0" y="572.2" textLength="17.4">40</text><text class="d" x="165.3" y="564.8">°</text><text class="t" x="174.9" y="572.2" textLength="10.6" lengthAdjust="spacingAndGlyphs">N</text>
<text class="t" x="146.0" y="586.9" textLength="17.4">38</text><text class="d" x="165.3" y="579.5">°</text><text class="t" x="174.9" y="586.9" textLength="10.6" lengthAdjust="spacingAndGlyphs">N</text>
<text class="t" x="146.0" y="604.0" textLength="17.4">36</text><text class="d" x="165.3" y="596.6">°</text><text class="t" x="174.9" y="604.0" textLength="10.6" lengthAdjust="spacingAndGlyphs">N</text>
<text class="t" x="146.0" y="617.9" textLength="17.4">34</text><text class="d" x="165.3" y="610.5">°</text><text class="t" x="174.9" y="617.9" textLength="10.6" lengthAdjust="spacingAndGlyphs">N</text>
<text class="t" x="146.0" y="634.9" textLength="17.4">32</text><text class="d" x="165.3" y="627.5">°</text><text class="t" x="174.9" y="634.9" textLength="10.6" lengthAdjust="spacingAndGlyphs">N</text>
<text class="t" x="146.0" y="648.9" textLength="17.4">30</text><text class="d" x="165.3" y="641.5">°</text><text class="t" x="174.9" y="648.9" textLength="10.6" lengthAdjust="spacingAndGlyphs">N</text>
<text class="t" x="146.0" y="662.1" textLength="17.4">28</text><text class="d" x="165.3" y="654.7">°</text><text class="t" x="174.9" y="662.1" textLength="10.6" lengthAdjust="spacingAndGlyphs">N</text>
<text class="t" x="146.0" y="677.0" textLength="17.4">26</text><text class="d" x="165.3" y="669.6">°</text><text class="t" x="174.9" y="677.0" textLength="10.6" lengthAdjust="spacingAndGlyphs">N</text>
<text class="t" x="146.0" y="691.1" textLength="17.4">24</text><text class="d" x="165.3" y="683.7">°</text><text class="t" x="174.9" y="691.1" textLength="10.6" lengthAdjust="spacingAndGlyphs">N</text>
<text class="t" x="146.0" y="703.9" textLength="17.4">22</text><text class="d" x="165.3" y="696.5">°</text><text class="t" x="174.9" y="703.9" textLength="10.6" lengthAdjust="spacingAndGlyphs">N</text>
<text class="t" x="215.1" y="466.6">100</text><text class="d" x="242.6" y="460.1">°</text><text class="t" x="252.7" y="466.6">W</text>
<text class="t" x="284.0" y="466.6">90</text><text class="d" x="302.4" y="460.1">°</text><text class="t" x="314.0" y="466.6">W</text>
<text class="t" x="347.8" y="466.6">80</text><text class="d" x="367.5" y="460.1">°</text><text class="t" x="377.9" y="466.6">W</text>
<text class="t" x="411.1" y="466.6">70</text><text class="d" x="429.3" y="460.1">°</text><text class="t" x="440.9" y="466.6">W</text>
<rect x="441.7" y="483.5" width="22.7" height="218.7" fill="url(#jet)" stroke="#262626" stroke-width="1"/>
<path d="M461.9 502.2H464.9" stroke="#262626" stroke-width="1"/>
<text class="c" x="473.2" y="509.7">1</text>
<path d="M461.9 547.3H464.9" stroke="#262626" stroke-width="1"/>
<text class="c" x="473.2" y="554.8">0.5</text>
<path d="M461.9 592.4H464.9" stroke="#262626" stroke-width="1"/>
<text class="c" x="473.2" y="599.9">0</text>
<path d="M461.9 637.5H464.9" stroke="#262626" stroke-width="1"/>
<text class="c" x="473.2" y="645.0">-0.5</text>
<path d="M461.9 682.6H464.9" stroke="#262626" stroke-width="1"/>
<text class="c" x="473.2" y="690.1">-1</text>
<text class="x" x="129.1" y="731.0" textLength="357.0">SAT-RAP 850 hPa MR (g/kg)</text>
</g>
<g id="p5">
<rect x="617.5" y="486.5" width="233.0" height="213.0" fill="none" stroke="#262626" stroke-width="1"/>
<g fill="none" stroke-width="8.0" stroke-linecap="round"><path d="M795.2 487.7h0M797.3 486.6h0M798.6 489.1h0M801.7 488.7h0" stroke="#00ffff"/><path d="M803.5 487.6h0" stroke="#00e5ff"/><path d="M799.8 491.8h0" stroke="#00ffff"/><path d="M802.6 490.7h0" stroke="#1affe5"/><path d="M805.5 489.9h0" stroke="#00ffff"/><path d="M807.6 488.8h0" stroke="#00e5ff"/><path d="M810.2 487.4h0" stroke="#00ccff"/><path d="M801.2 494.6h0M803.8 493.3h0" stroke="#00ffff"/><path d="M806.0 493.0h0M808.7 490.9h0" stroke="#00e5ff"/><path d="M811.6 490.5h0" stroke="#00ccff"/><path d="M814.4 489.1h0" stroke="#1affe5"/><path d="M816.8 487.9h0" stroke="#4dffb2"/><path d="M819.7 486.2h0" stroke="#80ff80"/><path d="M804.6 496.7h0M807.7 495.2h0" stroke="#00ccff"/><path d="M810.0 494.0h0M812.3 493.3h0" stroke="#00e5ff"/><path d="M815.8 491.8h0" stroke="#4dffb2"/><path d="M817.8 490.7h0" stroke="#99ff66"/><path d="M820.8 489.3h0M823.7 488.1h0M826.2 487.2h0" stroke="#80ff80"/><path d="M805.9 498.6h0M809.0 498.0h0" stroke="#00e5ff"/><path d="M811.7 496.2h0M813.8 495.6h0" stroke="#00ffff"/><path d="M816.3 494.0h0" stroke="#66ff99"/><path d="M819.4 492.9h0" stroke="#b3ff4c"/><path d="M822.3 491.7h0M824.5 490.3h0M827.2 490.0h0" stroke="#80ff80"/><path d="M830.1 488.2h0" stroke="#66ff99"/><path d="M832.0 487.5h0" stroke="#80ff80"/><path d="M812.8 498.8h0" stroke="#1affe5"/><path d="M815.0 498.0h0" stroke="#33ffcc"/><path d="M817.9 496.9h0M820.2 495.2h0M823.3 494.7h0M825.3 493.7h0M828.2 492.1h0" stroke="#80ff80"/><path d="M831.1 490.5h0" stroke="#66ff99"/><path d="M833.7 490.0h0M836.8 488.9h0" stroke="#80ff80"/><path d="M839.2 487.9h0" stroke="#66ff99"/><path d="M814.0 502.2h0" stroke="#1affe5"/><path d="M816.4 500.9h0" stroke="#4dffb2"/><path d="M818.8 499.9h0M821.9 498.2h0M823.8 497.0h0M826.5 496.4h0M829.9 494.8h0" stroke="#80ff80"/><path d="M832.3 493.6h0" stroke="#4dffb2"/><path d="M834.6 492.5h0M837.5 490.9h0M840.4 490.0h0M842.3 489.3h0M845.0 487.8h0" stroke="#80ff80"/><path d="M847.7 486.3h0" stroke="#66ff99"/><path d="M814.8 504.5h0" stroke="#33ffcc"/><path d="M817.4 503.4h0" stroke="#4dffb2"/><path d="M819.8 501.8h0M822.8 500.9h0" stroke="#80ff80"/><path d="M825.6 499.7h0M828.5 498.4h0" stroke="#66ff99"/><path d="M830.8 497.2h0" stroke="#80ff80"/><path d="M833.5 496.2h0M836.0 495.1h0M838.9 494.0h0M840.9 492.4h0M843.6 491.2h0M847.0 490.1h0" stroke="#66ff99"/><path d="M849.0 488.8h0" stroke="#80ff80"/><path d="M816.1 507.0h0" stroke="#4dffb2"/><path d="M819.0 506.2h0" stroke="#66ff99"/><path d="M821.5 504.8h0M823.6 503.5h0" stroke="#80ff80"/><path d="M826.8 502.1h0M829.5 501.7h0" stroke="#66ff99"/><path d="M831.9 499.9h0" stroke="#80ff80"/><path d="M834.3 498.5h0M837.7 498.2h0M840.2 497.0h0M842.1 495.8h0M845.5 494.3h0M847.7 492.6h0" stroke="#66ff99"/><path d="M850.5 491.6h0M819.9 509.1h0" stroke="#80ff80"/><path d="M822.3 507.6h0" stroke="#66ff99"/><path d="M824.9 506.5h0M827.9 504.9h0M830.5 504.3h0" stroke="#80ff80"/><path d="M832.8 502.4h0" stroke="#66ff99"/><path d="M835.5 501.7h0" stroke="#80ff80"/><path d="M837.9 500.0h0M840.7 499.2h0M844.1 497.9h0M846.3 496.4h0M849.4 495.7h0" stroke="#66ff99"/><path d="M820.7 511.8h0" stroke="#80ff80"/><path d="M824.0 510.0h0M826.0 508.5h0M829.2 507.4h0M831.2 506.2h0" stroke="#66ff99"/><path d="M834.4 505.5h0" stroke="#80ff80"/><path d="M837.0 503.7h0M840.0 503.0h0M842.6 501.8h0" stroke="#66ff99"/><path d="M844.6 500.6h0M847.2 499.7h0" stroke="#80ff80"/><path d="M849.8 498.5h0M825.3 512.6h0" stroke="#66ff99"/><path d="M827.7 511.5h0" stroke="#80ff80"/><path d="M830.4 510.5h0" stroke="#66ff99"/><path d="M832.6 509.6h0" stroke="#80ff80"/><path d="M835.3 508.4h0" stroke="#66ff99"/><path d="M838.3 507.2h0" stroke="#80ff80"/><path d="M840.7 506.0h0M843.6 504.5h0M845.6 503.3h0" stroke="#66ff99"/><path d="M848.3 502.5h0" stroke="#80ff80"/><path d="M825.8 515.1h0" stroke="#66ff99"/><path d="M829.0 514.4h0" stroke="#4dffb2"/><path d="M831.4 513.5h0" stroke="#66ff99"/><path d="M834.0 511.9h0" stroke="#4dffb2"/><path d="M836.8 510.3h0M839.5 509.9h0M841.8 507.9h0" stroke="#66ff99"/><path d="M844.2 507.2h0" stroke="#80ff80"/><path d="M846.9 506.2h0" stroke="#66ff99"/><path d="M850.2 504.7h0" stroke="#80ff80"/><path d="M829.7 516.9h0" stroke="#4dffb2"/><path d="M832.8 515.7h0" stroke="#33ffcc"/><path d="M835.1 514.4h0M837.6 513.3h0M840.7 512.1h0M842.6 511.4h0" stroke="#66ff99"/><path d="M846.2 509.5h0M848.0 508.3h0" stroke="#80ff80"/><path d="M833.8 517.9h0M836.2 517.2h0" stroke="#4dffb2"/><path d="M839.4 515.9h0M841.4 514.9h0" stroke="#66ff99"/><path d="M844.5 513.2h0" stroke="#80ff80"/><path d="M847.0 512.2h0M850.0 511.4h0" stroke="#66ff99"/><path d="M837.2 519.5h0" stroke="#33ffcc"/><path d="M839.8 518.6h0" stroke="#4dffb2"/><path d="M842.6 517.4h0M845.8 516.5h0M847.9 515.2h0M841.4 521.5h0M843.7 520.4h0" stroke="#66ff99"/><path d="M847.0 519.4h0M849.2 518.2h0" stroke="#80ff80"/><path d="M844.9 522.3h0M848.1 521.2h0M850.1 520.2h0" stroke="#66ff99"/><path d="M842.7 585.8h0" stroke="#000080"/></g>
<use href="#us" transform="translate(617.2,486.4) scale(1.00000,1.00047)"/>
<text class="t" x="566.9" y="502.1" textLength="17.4">48</text><text class="d" x="586.2" y="494.7">°</text><text class="t" x="595.8" y="502.1" textLength="10.6" lengthAdjust="spacingAndGlyphs">N</text>
<text class="t" x="566.9" y="519.9" textLength="17.4">46</text><text class="d" x="586.2" y="512.5">°</text><text class="t" x="595.8" y="519.9" textLength="10.6" lengthAdjust="spacingAndGlyphs">N</text>
<text class="t" x="566.9" y="537.1" textLength="17.4">44</text><text class="d" x="586.2" y="529.7">°</text><text class="t" x="595.8" y="537.1" textLength="10.6" lengthAdjust="spacingAndGlyphs">N</text>
<text class="t" x="566.9" y="555.9" textLength="17.4">42</text><text class="d" x="586.2" y="548.5">°</text><text class="t" x="595.8" y="555.9" textLength="10.6" lengthAdjust="spacingAndGlyphs">N</text>
<text class="t" x="566.9" y="572.2" textLength="17.4">40</text><text class="d" x="586.2" y="564.8">°</text><text class="t" x="595.8" y="572.2" textLength="10.6" lengthAdjust="spacingAndGlyphs">N</text>
<text class="t" x="566.9" y="586.9" textLength="17.4">38</text><text class="d" x="586.2" y="579.5">°</text><text class="t" x="595.8" y="586.9" textLength="10.6" lengthAdjust="spacingAndGlyphs">N</text>
<text class="t" x="566.9" y="604.0" textLength="17.4">36</text><text class="d" x="586.2" y="596.6">°</text><text class="t" x="595.8" y="604.0" textLength="10.6" lengthAdjust="spacingAndGlyphs">N</text>
<text class="t" x="566.9" y="617.9" textLength="17.4">34</text><text class="d" x="586.2" y="610.5">°</text><text class="t" x="595.8" y="617.9" textLength="10.6" lengthAdjust="spacingAndGlyphs">N</text>
<text class="t" x="566.9" y="634.9" textLength="17.4">32</text><text class="d" x="586.2" y="627.5">°</text><text class="t" x="595.8" y="634.9" textLength="10.6" lengthAdjust="spacingAndGlyphs">N</text>
<text class="t" x="566.9" y="648.9" textLength="17.4">30</text><text class="d" x="586.2" y="641.5">°</text><text class="t" x="595.8" y="648.9" textLength="10.6" lengthAdjust="spacingAndGlyphs">N</text>
<text class="t" x="566.9" y="662.1" textLength="17.4">28</text><text class="d" x="586.2" y="654.7">°</text><text class="t" x="595.8" y="662.1" textLength="10.6" lengthAdjust="spacingAndGlyphs">N</text>
<text class="t" x="566.9" y="677.0" textLength="17.4">26</text><text class="d" x="586.2" y="669.6">°</text><text class="t" x="595.8" y="677.0" textLength="10.6" lengthAdjust="spacingAndGlyphs">N</text>
<text class="t" x="566.9" y="691.1" textLength="17.4">24</text><text class="d" x="586.2" y="683.7">°</text><text class="t" x="595.8" y="691.1" textLength="10.6" lengthAdjust="spacingAndGlyphs">N</text>
<text class="t" x="566.9" y="703.9" textLength="17.4">22</text><text class="d" x="586.2" y="696.5">°</text><text class="t" x="595.8" y="703.9" textLength="10.6" lengthAdjust="spacingAndGlyphs">N</text>
<text class="t" x="636.0" y="466.6">100</text><text class="d" x="663.5" y="460.1">°</text><text class="t" x="673.6" y="466.6">W</text>
<text class="t" x="704.9" y="466.6">90</text><text class="d" x="723.3" y="460.1">°</text><text class="t" x="734.9" y="466.6">W</text>
<text class="t" x="768.7" y="466.6">80</text><text class="d" x="788.4" y="460.1">°</text><text class="t" x="798.8" y="466.6">W</text>
<text class="t" x="832.0" y="466.6">70</text><text class="d" x="850.2" y="460.1">°</text><text class="t" x="861.8" y="466.6">W</text>
<rect x="862.7" y="483.5" width="22.7" height="218.7" fill="url(#jet)" stroke="#262626" stroke-width="1"/>
<path d="M882.9 524.5H885.9" stroke="#262626" stroke-width="1"/>
<text class="c" x="894.2" y="532.0">0.5</text>
<path d="M882.9 592.8H885.9" stroke="#262626" stroke-width="1"/>
<text class="c" x="894.2" y="600.3">0</text>
<path d="M882.9 660.6H885.9" stroke="#262626" stroke-width="1"/>
<text class="c" x="894.2" y="668.1">-0.5</text>
<text class="x" x="550.2" y="731.0" textLength="357.0">SAT-RAP 700 hPa MR (g/kg)</text>
</g>
<g id="p6">
<rect x="1038.5" y="485.5" width="234.0" height="215.0" fill="none" stroke="#262626" stroke-width="1"/>
<g fill="none" stroke-width="8.0" stroke-linecap="round"><path d="M1216.1 487.3h0" stroke="#33ffcc"/><path d="M1219.2 486.6h0M1218.1 489.7h0" stroke="#66ff99"/><path d="M1220.4 488.8h0M1222.7 487.4h0" stroke="#4dffb2"/><path d="M1225.8 486.3h0M1219.2 492.8h0" stroke="#66ff99"/><path d="M1221.9 491.5h0M1224.3 490.0h0M1227.1 489.2h0" stroke="#80ff80"/><path d="M1229.2 487.7h0M1232.3 486.8h0" stroke="#66ff99"/><path d="M1223.0 494.0h0" stroke="#99ff66"/><path d="M1225.7 492.5h0M1228.1 491.5h0" stroke="#ffff00"/><path d="M1230.4 490.3h0M1233.8 489.2h0" stroke="#ccff33"/><path d="M1235.8 488.2h0" stroke="#99ff66"/><path d="M1238.2 487.4h0" stroke="#ccff33"/><path d="M1241.4 485.8h0" stroke="#99ff66"/><path d="M1226.8 495.4h0" stroke="#ffcc00"/><path d="M1228.8 494.7h0" stroke="#ffb300"/><path d="M1232.3 493.0h0" stroke="#ffff00"/><path d="M1235.0 491.6h0" stroke="#b3ff4c"/><path d="M1237.6 490.6h0M1239.9 490.1h0" stroke="#ffff00"/><path d="M1242.9 489.0h0" stroke="#ffcc00"/><path d="M1245.4 487.4h0" stroke="#b3ff4c"/><path d="M1247.8 486.1h0" stroke="#66ff99"/><path d="M1227.5 498.6h0" stroke="#99ff66"/><path d="M1230.8 497.3h0" stroke="#ccff33"/><path d="M1233.2 496.1h0M1235.3 494.6h0" stroke="#b3ff4c"/><path d="M1238.4 493.1h0" stroke="#ccff33"/><path d="M1240.8 492.6h0M1244.0 491.5h0" stroke="#ffff00"/><path d="M1246.2 490.4h0" stroke="#ccff33"/><path d="M1249.5 488.8h0" stroke="#99ff66"/><path d="M1251.9 487.1h0M1254.0 486.7h0" stroke="#80ff80"/><path d="M1231.4 500.2h0M1234.5 498.4h0" stroke="#66ff99"/><path d="M1237.0 496.9h0" stroke="#80ff80"/><path d="M1239.7 496.4h0" stroke="#4dffb2"/><path d="M1242.1 494.6h0" stroke="#80ff80"/><path d="M1245.0 493.4h0" stroke="#ccff33"/><path d="M1247.3 492.6h0" stroke="#99ff66"/><path d="M1250.2 491.0h0M1253.3 489.8h0M1255.4 489.1h0" stroke="#80ff80"/><path d="M1258.7 487.9h0" stroke="#ccff33"/><path d="M1260.6 487.1h0" stroke="#e5ff1a"/><path d="M1232.6 502.3h0" stroke="#4dffb2"/><path d="M1235.9 501.4h0" stroke="#66ff99"/><path d="M1237.8 500.5h0" stroke="#33ffcc"/><path d="M1241.2 498.4h0" stroke="#1affe5"/><path d="M1243.6 497.9h0M1245.7 496.4h0" stroke="#33ffcc"/><path d="M1248.6 495.4h0" stroke="#4dffb2"/><path d="M1251.5 494.2h0M1254.5 492.6h0" stroke="#66ff99"/><path d="M1256.4 492.0h0" stroke="#b3ff4c"/><path d="M1259.8 490.1h0" stroke="#ccff33"/><path d="M1262.4 489.8h0" stroke="#b3ff4c"/><path d="M1265.2 487.9h0" stroke="#66ff99"/><path d="M1267.4 486.4h0M1269.8 485.7h0M1236.3 503.7h0M1238.9 502.3h0" stroke="#4dffb2"/><path d="M1242.4 501.0h0" stroke="#00e5ff"/><path d="M1245.0 500.7h0" stroke="#0099ff"/><path d="M1247.6 498.7h0" stroke="#00ffff"/><path d="M1249.5 498.4h0" stroke="#4dffb2"/><path d="M1252.9 496.3h0M1254.9 495.7h0" stroke="#80ff80"/><path d="M1258.1 494.1h0M1260.6 492.9h0" stroke="#99ff66"/><path d="M1263.5 492.1h0" stroke="#4dffb2"/><path d="M1265.5 491.1h0" stroke="#66ff99"/><path d="M1268.7 489.6h0" stroke="#33ffcc"/><path d="M1271.5 488.4h0" stroke="#4dffb2"/><path d="M1237.6 506.1h0" stroke="#66ff99"/><path d="M1240.6 505.7h0" stroke="#4dffb2"/><path d="M1243.2 504.3h0" stroke="#00ffff"/><path d="M1245.9 502.9h0" stroke="#00b2ff"/><path d="M1248.9 501.8h0" stroke="#00ffff"/><path d="M1251.5 500.8h0" stroke="#4dffb2"/><path d="M1253.6 499.2h0" stroke="#66ff99"/><path d="M1256.5 498.0h0M1259.0 497.2h0" stroke="#b3ff4c"/><path d="M1262.2 495.5h0" stroke="#4dffb2"/><path d="M1264.3 495.0h0" stroke="#33ffcc"/><path d="M1267.4 493.2h0M1269.7 492.1h0M1272.4 491.3h0" stroke="#66ff99"/><path d="M1242.0 507.7h0M1244.2 506.3h0" stroke="#1affe5"/><path d="M1246.7 505.6h0" stroke="#00ffff"/><path d="M1249.3 504.6h0" stroke="#00e5ff"/><path d="M1252.5 503.1h0" stroke="#4dffb2"/><path d="M1254.5 502.4h0" stroke="#66ff99"/><path d="M1257.5 500.6h0" stroke="#99ff66"/><path d="M1260.5 499.3h0" stroke="#ffff00"/><path d="M1263.0 498.0h0" stroke="#80ff80"/><path d="M1265.4 497.2h0" stroke="#66ff99"/><path d="M1268.4 495.7h0M1271.4 495.1h0" stroke="#4dffb2"/><path d="M1245.3 509.2h0" stroke="#00e5ff"/><path d="M1247.8 508.4h0M1250.6 507.5h0" stroke="#00ccff"/><path d="M1253.8 505.7h0" stroke="#4dffb2"/><path d="M1255.8 504.6h0" stroke="#66ff99"/><path d="M1259.2 503.1h0" stroke="#b3ff4c"/><path d="M1261.8 502.2h0" stroke="#99ff66"/><path d="M1263.7 500.7h0" stroke="#80ff80"/><path d="M1267.1 499.6h0" stroke="#33ffcc"/><path d="M1269.3 498.5h0" stroke="#4dffb2"/><path d="M1271.8 497.8h0" stroke="#33ffcc"/><path d="M1246.3 512.1h0M1249.6 511.2h0" stroke="#1affe5"/><path d="M1251.8 509.3h0" stroke="#00e5ff"/><path d="M1254.2 508.9h0" stroke="#1affe5"/><path d="M1257.8 507.2h0" stroke="#33ffcc"/><path d="M1260.5 506.3h0" stroke="#66ff99"/><path d="M1262.7 505.3h0" stroke="#4dffb2"/><path d="M1265.4 503.7h0" stroke="#33ffcc"/><path d="M1267.9 502.5h0" stroke="#1affe5"/><path d="M1270.9 501.8h0" stroke="#33ffcc"/><path d="M1250.6 514.0h0" stroke="#4dffb2"/><path d="M1253.5 512.7h0M1255.8 510.9h0" stroke="#66ff99"/><path d="M1258.7 509.9h0" stroke="#4dffb2"/><path d="M1260.9 508.9h0" stroke="#33ffcc"/><path d="M1264.1 507.9h0M1266.6 506.7h0" stroke="#4dffb2"/><path d="M1269.3 505.4h0" stroke="#33ffcc"/><path d="M1271.6 503.7h0" stroke="#1affe5"/><path d="M1252.0 516.1h0M1254.5 515.4h0M1256.7 514.2h0" stroke="#4dffb2"/><path d="M1259.3 512.8h0M1262.4 511.7h0" stroke="#66ff99"/><path d="M1265.5 509.9h0M1267.4 509.5h0M1270.9 507.8h0" stroke="#1affe5"/><path d="M1255.4 517.7h0" stroke="#99ff66"/><path d="M1258.5 517.0h0" stroke="#66ff99"/><path d="M1260.9 515.5h0M1263.1 514.1h0" stroke="#80ff80"/><path d="M1266.6 512.6h0" stroke="#4dffb2"/><path d="M1268.7 511.8h0M1271.2 510.8h0" stroke="#33ffcc"/><path d="M1259.4 518.8h0M1262.7 517.6h0" stroke="#99ff66"/><path d="M1264.5 516.4h0M1267.8 515.3h0" stroke="#4dffb2"/><path d="M1270.2 514.3h0" stroke="#66ff99"/><path d="M1266.1 519.3h0" stroke="#80ff80"/><path d="M1268.6 518.4h0M1270.9 517.1h0" stroke="#66ff99"/><path d="M1270.4 520.9h0M1272.8 520.0h0" stroke="#4dffb2"/><path d="M1258.0 575.6h0" stroke="#004dff"/><path d="M1262.1 578.7h0" stroke="#0066ff"/><path d="M1266.1 581.7h0" stroke="#0080ff"/><path d="M1271.1 574.6h0" stroke="#0000b2"/><path d="M1274.1 577.6h0" stroke="#0000cc"/><path d="M1267.1 586.7h0" stroke="#004dff"/><path d="M1272.1 588.7h0" stroke="#0033ff"/><path d="M1263.1 590.7h0" stroke="#001aff"/><path d="M1268.1 593.8h0" stroke="#0000e6"/><path d="M1275.1 584.7h0" stroke="#0033ff"/><path d="M1260.0 582.7h0" stroke="#0080ff"/><path d="M1264.1 573.6h0" stroke="#0066ff"/></g>
<use href="#us" transform="translate(1038.1,485.6) scale(1.00471,1.00705)"/>
<text class="t" x="987.8" y="502.0" textLength="17.4">48</text><text class="d" x="1007.1" y="494.6">°</text><text class="t" x="1016.7" y="502.0" textLength="10.6" lengthAdjust="spacingAndGlyphs">N</text>
<text class="t" x="987.8" y="519.9" textLength="17.4">46</text><text class="d" x="1007.1" y="512.5">°</text><text class="t" x="1016.7" y="519.9" textLength="10.6" lengthAdjust="spacingAndGlyphs">N</text>
<text class="t" x="987.8" y="537.3" textLength="17.4">44</text><text class="d" x="1007.1" y="529.9">°</text><text class="t" x="1016.7" y="537.3" textLength="10.6" lengthAdjust="spacingAndGlyphs">N</text>
<text class="t" x="987.8" y="556.2" textLength="17.4">42</text><text class="d" x="1007.1" y="548.8">°</text><text class="t" x="1016.7" y="556.2" textLength="10.6" lengthAdjust="spacingAndGlyphs">N</text>
<text class="t" x="987.8" y="572.6" textLength="17.4">40</text><text class="d" x="1007.1" y="565.2">°</text><text class="t" x="1016.7" y="572.6" textLength="10.6" lengthAdjust="spacingAndGlyphs">N</text>
<text class="t" x="987.8" y="587.4" textLength="17.4">38</text><text class="d" x="1007.1" y="580.0">°</text><text class="t" x="1016.7" y="587.4" textLength="10.6" lengthAdjust="spacingAndGlyphs">N</text>
<text class="t" x="987.8" y="604.5" textLength="17.4">36</text><text class="d" x="1007.1" y="597.1">°</text><text class="t" x="1016.7" y="604.5" textLength="10.6" lengthAdjust="spacingAndGlyphs">N</text>
<text class="t" x="987.8" y="618.5" textLength="17.4">34</text><text class="d" x="1007.1" y="611.1">°</text><text class="t" x="1016.7" y="618.5" textLength="10.6" lengthAdjust="spacingAndGlyphs">N</text>
<text class="t" x="987.8" y="635.6" textLength="17.4">32</text><text class="d" x="1007.1" y="628.2">°</text><text class="t" x="1016.7" y="635.6" textLength="10.6" lengthAdjust="spacingAndGlyphs">N</text>
<text class="t" x="987.8" y="649.7" textLength="17.4">30</text><text class="d" x="1007.1" y="642.3">°</text><text class="t" x="1016.7" y="649.7" textLength="10.6" lengthAdjust="spacingAndGlyphs">N</text>
<text class="t" x="987.8" y="663.0" textLength="17.4">28</text><text class="d" x="1007.1" y="655.6">°</text><text class="t" x="1016.7" y="663.0" textLength="10.6" lengthAdjust="spacingAndGlyphs">N</text>
<text class="t" x="987.8" y="678.0" textLength="17.4">26</text><text class="d" x="1007.1" y="670.6">°</text><text class="t" x="1016.7" y="678.0" textLength="10.6" lengthAdjust="spacingAndGlyphs">N</text>
<text class="t" x="987.8" y="692.2" textLength="17.4">24</text><text class="d" x="1007.1" y="684.8">°</text><text class="t" x="1016.7" y="692.2" textLength="10.6" lengthAdjust="spacingAndGlyphs">N</text>
<text class="t" x="987.8" y="705.1" textLength="17.4">22</text><text class="d" x="1007.1" y="697.7">°</text><text class="t" x="1016.7" y="705.1" textLength="10.6" lengthAdjust="spacingAndGlyphs">N</text>
<text class="t" x="1058.5" y="464.1">100</text><text class="d" x="1086.0" y="457.6">°</text><text class="t" x="1096.1" y="464.1">W</text>
<text class="t" x="1127.4" y="464.1">90</text><text class="d" x="1145.8" y="457.6">°</text><text class="t" x="1157.4" y="464.1">W</text>
<text class="t" x="1191.2" y="464.1">80</text><text class="d" x="1210.9" y="457.6">°</text><text class="t" x="1221.3" y="464.1">W</text>
<text class="t" x="1254.5" y="464.1">70</text><text class="d" x="1272.7" y="457.6">°</text><text class="t" x="1284.3" y="464.1">W</text>
<rect x="1285.6" y="483.5" width="22.8" height="218.7" fill="url(#jet)" stroke="#262626" stroke-width="1"/>
<path d="M1305.9 505.0H1308.9" stroke="#262626" stroke-width="1"/>
<text class="c" x="1317.2" y="512.5">0.2</text>
<path d="M1305.9 548.6H1308.9" stroke="#262626" stroke-width="1"/>
<text class="c" x="1317.2" y="556.1">0.1</text>
<path d="M1305.9 592.8H1308.9" stroke="#262626" stroke-width="1"/>
<text class="c" x="1317.2" y="600.3">0</text>
<path d="M1305.9 636.5H1308.9" stroke="#262626" stroke-width="1"/>
<text class="c" x="1317.2" y="644.0">-0.1</text>
<path d="M1305.9 680.7H1308.9" stroke="#262626" stroke-width="1"/>
<text class="c" x="1317.2" y="688.2">-0.2</text>
<text class="x" x="971.7" y="733.0" textLength="357.0">SAT-RAP 500 hPa MR (g/kg)</text>
</g>
</svg></body></html>
